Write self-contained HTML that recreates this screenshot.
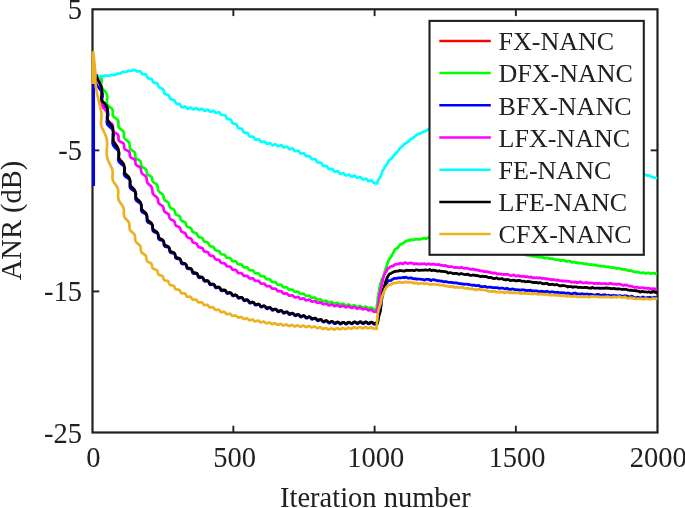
<!DOCTYPE html>
<html lang="en">
<head>
<meta charset="utf-8">
<title>ANR vs Iteration number</title>
<style>
html,body{margin:0;padding:0;background:#ffffff;}
body{width:685px;height:508px;overflow:hidden;font-family:"Liberation Serif",serif;}
svg{display:block;will-change:transform;}
</style>
</head>
<body>
<svg width="685" height="508" viewBox="0 0 685 508">
<rect x="0" y="0" width="685" height="508" fill="#ffffff"/>
<clipPath id="c"><rect x="91.0" y="9.3" width="566.5" height="423.2"/></clipPath>
<rect x="92.5" y="9.3" width="565.0" height="423.2" fill="none" stroke="#202020" stroke-width="2.2"/>
<line x1="233.35" y1="432.5" x2="233.35" y2="425.7" stroke="#202020" stroke-width="1.9"/>
<line x1="233.35" y1="9.3" x2="233.35" y2="16.1" stroke="#202020" stroke-width="1.9"/>
<line x1="374.60" y1="432.5" x2="374.60" y2="425.7" stroke="#202020" stroke-width="1.9"/>
<line x1="374.60" y1="9.3" x2="374.60" y2="16.1" stroke="#202020" stroke-width="1.9"/>
<line x1="515.85" y1="432.5" x2="515.85" y2="425.7" stroke="#202020" stroke-width="1.9"/>
<line x1="515.85" y1="9.3" x2="515.85" y2="16.1" stroke="#202020" stroke-width="1.9"/>
<line x1="92.5" y1="150.37" x2="99.3" y2="150.37" stroke="#202020" stroke-width="1.9"/>
<line x1="657.5" y1="150.37" x2="650.7" y2="150.37" stroke="#202020" stroke-width="1.9"/>
<line x1="92.5" y1="291.43" x2="99.3" y2="291.43" stroke="#202020" stroke-width="1.9"/>
<line x1="657.5" y1="291.43" x2="650.7" y2="291.43" stroke="#202020" stroke-width="1.9"/>
<g clip-path="url(#c)" fill="none" stroke-linejoin="round" stroke-linecap="butt">
<path d="M96.3,74.0 L96.5,74.6 L96.7,75.1 L96.8,75.7 L97.1,76.2 L97.3,76.7 L97.5,77.3 L97.7,77.8 L98.0,78.3 L98.2,78.8 L98.5,79.3 L98.7,79.8 L99.0,80.3 L99.2,80.8 L99.5,81.3 L99.7,81.7 L100.0,82.2 L100.2,82.7 L100.4,83.2 L100.6,83.6 L100.8,84.1 L101.0,84.5 L101.1,85.0 L101.3,85.5 L101.4,85.9 L101.5,86.4 L101.6,86.9 L101.7,87.4 L101.8,87.9 L101.8,88.3 L101.8,88.8 L101.9,89.3 L101.9,89.8 L101.8,90.3 L101.8,90.8 L101.8,91.2 L101.8,91.7 L101.7,92.2 L101.7,92.7 L101.6,93.1 L101.6,93.6 L101.5,94.1 L101.5,94.5 L101.4,95.0 L101.4,95.4 L101.4,95.8 L101.4,96.2 L101.4,96.7 L101.4,97.2 L101.4,97.8 L101.5,98.4 L101.7,98.9 L101.8,99.3 L102.0,99.8 L102.2,100.2 L102.5,100.5 L102.8,100.9 L103.1,101.2 L103.4,101.5 L103.8,101.8 L104.1,102.1 L104.5,102.4 L104.8,102.7 L105.2,103.0 L105.5,103.3 L105.9,103.6 L106.2,104.0 L106.4,104.4 L106.7,104.8 L106.9,105.3 L107.1,105.8 L107.2,106.4 L107.3,107.0 L107.4,107.4 L107.4,107.8 L107.4,108.2 L107.4,108.7 L107.4,109.1 L107.4,109.6 L107.4,110.0 L107.4,110.5 L107.3,110.9 L107.3,111.4 L107.3,111.9 L107.2,112.4 L107.2,112.8 L107.1,113.3 L107.1,113.8 L107.1,114.2 L107.1,114.7 L107.1,115.1 L107.1,115.6 L107.1,116.0 L107.1,116.4 L107.2,116.8 L107.2,117.3 L107.3,117.8 L107.5,118.4 L107.7,118.9 L107.9,119.4 L108.1,119.9 L108.4,120.4 L108.7,120.8 L109.0,121.2 L109.3,121.7 L109.7,122.1 L110.0,122.5 L110.4,122.9 L110.7,123.3 L111.0,123.7 L111.4,124.1 L111.7,124.5 L111.9,125.0 L112.2,125.4 L112.4,125.9 L112.6,126.4 L112.7,126.9 L112.8,127.4 L112.9,127.9 L113.0,128.5 L113.0,129.1 L113.0,129.5 L113.0,129.9 L113.0,130.3 L113.0,130.7 L113.0,131.2 L112.9,131.6 L112.9,132.0 L112.9,132.5 L112.8,132.9 L112.8,133.4 L112.8,133.8 L112.8,134.3 L112.8,134.8 L112.8,135.2 L112.8,135.7 L112.8,136.1 L112.8,136.6 L112.9,137.0 L112.9,137.4 L113.0,137.9 L113.1,138.3 L113.2,138.7 L113.3,139.1 L113.5,139.5 L113.6,139.9 L113.7,140.3 L113.9,140.7 L114.1,141.1 L114.4,141.6 L114.7,142.1 L115.0,142.6 L115.3,143.1 L115.7,143.5 L116.0,144.0 L116.3,144.5 L116.7,144.9 L117.0,145.4 L117.3,145.9 L117.5,146.3 L117.8,146.8 L118.0,147.2 L118.1,147.7 L118.3,148.2 L118.4,148.7 L118.5,149.2 L118.6,149.7 L118.6,150.2 L118.6,150.7 L118.6,151.2 L118.6,151.7 L118.6,152.2 L118.5,152.7 L118.5,153.2 L118.5,153.7 L118.5,154.2 L118.5,154.7 L118.5,155.2 L118.6,155.6 L118.6,156.1 L118.7,156.5 L118.9,156.9 L119.0,157.3 L119.2,157.7 L119.4,158.1 L119.7,158.5 L119.9,158.8 L120.2,159.2 L120.5,159.5 L120.8,159.9 L121.1,160.2 L121.4,160.5 L121.8,160.9 L122.1,161.2 L122.4,161.5 L122.7,161.9 L122.9,162.2 L123.2,162.6 L123.4,162.9 L123.6,163.3 L123.8,163.7 L123.9,164.1 L124.0,164.5 L124.1,165.0 L124.2,165.4 L124.2,165.8 L124.2,166.3 L124.2,166.7 L124.2,167.2 L124.2,167.6 L124.2,168.1 L124.2,168.5 L124.2,169.0 L124.2,169.4 L124.2,169.8 L124.2,170.2 L124.3,170.6 L124.4,171.2 L124.6,171.6 L124.8,172.1 L125.1,172.6 L125.4,173.0 L125.7,173.4 L126.0,173.7 L126.3,174.0 L126.6,174.2 L126.9,174.5 L127.2,174.8 L127.5,175.1 L127.8,175.3 L128.2,175.7 L128.5,176.1 L128.8,176.5 L129.1,176.9 L129.3,177.3 L129.5,177.8 L129.6,178.2 L129.7,178.7 L129.8,179.2 L129.8,179.7 L129.8,180.3 L129.8,180.8 L129.8,181.3 L129.8,181.8 L129.9,182.4 L129.9,182.9 L130.0,183.4 L130.1,183.8 L130.3,184.3 L130.5,184.8 L130.8,185.2 L131.1,185.6 L131.4,186.0 L131.8,186.4 L132.0,186.7 L132.3,186.9 L132.6,187.2 L132.9,187.5 L133.2,187.8 L133.5,188.0 L133.9,188.4 L134.2,188.8 L134.5,189.2 L134.8,189.6 L135.0,190.1 L135.1,190.5 L135.3,191.0 L135.4,191.5 L135.4,192.0 L135.5,192.5 L135.5,193.0 L135.5,193.5 L135.5,194.0 L135.5,194.5 L135.6,195.0 L135.6,195.5 L135.7,196.0 L135.9,196.4 L136.1,196.9 L136.3,197.3 L136.5,197.7 L136.8,198.0 L137.2,198.4 L137.5,198.7 L137.9,199.1 L138.3,199.4 L138.7,199.7 L139.0,200.1 L139.4,200.4 L139.7,200.8 L140.0,201.1 L140.3,201.5 L140.5,201.9 L140.7,202.3 L140.9,202.8 L141.0,203.2 L141.0,203.7 L141.1,204.2 L141.1,204.6 L141.1,205.1 L141.2,205.6 L141.2,206.1 L141.2,206.6 L141.3,207.1 L141.4,207.5 L141.5,207.9 L141.7,208.4 L141.9,208.7 L142.2,209.1 L142.4,209.5 L142.8,209.8 L143.1,210.1 L143.5,210.4 L143.8,210.7 L144.2,211.0 L144.6,211.3 L144.9,211.6 L145.3,211.9 L145.6,212.2 L145.8,212.6 L146.1,212.9 L146.3,213.3 L146.4,213.7 L146.5,214.1 L146.6,214.5 L146.7,215.0 L146.7,215.4 L146.8,215.9 L146.8,216.3 L146.8,216.8 L146.9,217.2 L147.0,217.6 L147.1,218.1 L147.2,218.5 L147.4,218.8 L147.6,219.2 L147.8,219.5 L148.1,219.8 L148.4,220.1 L148.7,220.4 L149.0,220.7 L149.4,220.9 L149.8,221.2 L150.1,221.4 L150.5,221.7 L150.8,222.0 L151.1,222.2 L151.4,222.5 L151.7,222.9 L151.9,223.4 L152.1,223.8 L152.2,224.2 L152.3,224.6 L152.4,225.0 L152.4,225.5 L152.4,225.9 L152.5,226.3 L152.5,226.7 L152.6,227.1 L152.7,227.5 L152.8,228.0 L153.1,228.4 L153.3,228.8 L153.6,229.2 L154.0,229.5 L154.4,229.8 L154.7,230.1 L155.1,230.3 L155.4,230.5 L155.8,230.7 L156.1,230.9 L156.5,231.2 L156.9,231.5 L157.2,231.9 L157.4,232.2 L157.6,232.6 L157.8,233.1 L157.9,233.5 L158.0,234.0 L158.1,234.5 L158.1,234.9 L158.2,235.4 L158.3,235.9 L158.4,236.3 L158.6,236.7 L158.9,237.1 L159.1,237.4 L159.5,237.7 L159.8,237.9 L160.2,238.1 L160.6,238.3 L161.1,238.5 L161.5,238.7 L161.9,238.9 L162.2,239.2 L162.6,239.4 L162.9,239.7 L163.1,240.1 L163.3,240.4 L163.5,240.8 L163.6,241.3 L163.7,241.7 L163.8,242.1 L163.8,242.6 L164.0,243.0 L164.1,243.4 L164.2,243.8 L164.5,244.2 L164.8,244.5 L165.2,244.8 L165.6,245.0 L166.0,245.1 L166.4,245.3 L166.8,245.5 L167.2,245.6 L167.6,245.8 L167.9,246.0 L168.3,246.2 L168.6,246.5 L168.9,246.9 L169.1,247.3 L169.2,247.7 L169.3,248.1 L169.4,248.6 L169.5,249.0 L169.6,249.4 L169.7,249.8 L169.9,250.2 L170.2,250.5 L170.5,250.8 L170.9,251.1 L171.3,251.3 L171.7,251.4 L172.1,251.5 L172.5,251.7 L172.9,251.8 L173.3,252.0 L173.7,252.2 L174.1,252.5 L174.4,252.8 L174.6,253.2 L174.8,253.6 L174.9,254.0 L175.0,254.4 L175.1,254.8 L175.2,255.2 L175.4,255.6 L175.6,256.0 L175.8,256.4 L176.1,256.7 L176.5,256.9 L176.9,257.1 L177.4,257.3 L177.8,257.4 L178.2,257.5 L178.6,257.6 L179.0,257.8 L179.4,258.0 L179.8,258.2 L180.0,258.5 L180.2,258.9 L180.4,259.3 L180.6,259.7 L180.7,260.2 L180.9,260.6 L181.0,261.1 L181.2,261.5 L181.5,261.8 L181.8,262.1 L182.1,262.3 L182.5,262.4 L183.0,262.6 L183.4,262.7 L183.9,262.8 L184.3,262.9 L184.7,263.0 L185.1,263.2 L185.4,263.5 L185.7,263.8 L185.9,264.1 L186.1,264.5 L186.3,264.9 L186.4,265.4 L186.5,265.8 L186.7,266.2 L186.9,266.6 L187.2,266.9 L187.5,267.2 L187.9,267.4 L188.3,267.5 L188.7,267.6 L189.1,267.7 L189.6,267.8 L190.0,267.9 L190.4,268.0 L190.8,268.2 L191.1,268.5 L191.4,268.8 L191.6,269.2 L191.8,269.6 L192.0,270.0 L192.1,270.5 L192.3,270.9 L192.5,271.2 L192.7,271.6 L193.1,271.9 L193.5,272.1 L193.9,272.2 L194.3,272.3 L194.7,272.4 L195.2,272.4 L195.6,272.5 L196.0,272.6 L196.4,272.7 L196.8,273.0 L197.1,273.3 L197.3,273.7 L197.5,274.1 L197.6,274.5 L197.8,274.9 L198.0,275.2 L198.2,275.6 L198.5,275.9 L198.8,276.2 L199.2,276.4 L199.7,276.4 L200.1,276.5 L200.5,276.5 L200.9,276.5 L201.3,276.6 L201.8,276.7 L202.2,276.8 L202.5,277.1 L202.8,277.4 L203.0,277.8 L203.2,278.2 L203.4,278.6 L203.6,278.9 L203.8,279.3 L204.1,279.7 L204.4,279.9 L204.8,280.1 L205.3,280.1 L205.7,280.2 L206.1,280.2 L206.5,280.2 L206.9,280.2 L207.4,280.3 L207.8,280.4 L208.1,280.6 L208.4,280.9 L208.6,281.3 L208.8,281.7 L209.0,282.1 L209.2,282.4 L209.4,282.8 L209.7,283.1 L210.1,283.4 L210.4,283.5 L210.9,283.6 L211.3,283.6 L211.7,283.6 L212.2,283.6 L212.6,283.6 L213.0,283.7 L213.4,283.8 L213.8,284.0 L214.1,284.3 L214.3,284.7 L214.5,285.0 L214.7,285.4 L214.9,285.8 L215.1,286.1 L215.4,286.4 L215.8,286.6 L216.2,286.8 L216.6,286.8 L217.1,286.8 L217.5,286.8 L217.9,286.7 L218.3,286.7 L218.7,286.8 L219.2,286.9 L219.5,287.2 L219.8,287.5 L220.0,287.9 L220.2,288.2 L220.5,288.6 L220.7,289.0 L221.0,289.3 L221.4,289.5 L221.8,289.7 L222.3,289.7 L222.7,289.7 L223.2,289.6 L223.6,289.6 L224.1,289.6 L224.5,289.6 L224.9,289.8 L225.2,290.1 L225.5,290.4 L225.8,290.8 L226.0,291.2 L226.3,291.5 L226.5,291.9 L226.8,292.1 L227.2,292.3 L227.7,292.4 L228.1,292.4 L228.6,292.3 L229.0,292.2 L229.5,292.2 L229.9,292.2 L230.3,292.3 L230.7,292.5 L231.0,292.8 L231.3,293.1 L231.5,293.5 L231.8,293.9 L232.0,294.2 L232.3,294.5 L232.7,294.7 L233.1,294.8 L233.5,294.8 L234.0,294.8 L234.4,294.7 L234.8,294.6 L235.3,294.5 L235.7,294.5 L236.1,294.7 L236.5,294.9 L236.8,295.2 L237.0,295.6 L237.3,295.9 L237.5,296.3 L237.8,296.6 L238.2,296.9 L238.6,297.1 L239.0,297.1 L239.4,297.1 L239.9,297.1 L240.3,297.0 L240.8,296.9 L241.2,296.9 L241.6,297.0 L242.0,297.2 L242.3,297.5 L242.6,297.8 L242.8,298.2 L243.1,298.6 L243.3,298.9 L243.6,299.2 L244.0,299.5 L244.4,299.6 L244.8,299.6 L245.3,299.6 L245.7,299.5 L246.2,299.4 L246.6,299.4 L247.0,299.4 L247.4,299.6 L247.8,299.8 L248.1,300.1 L248.3,300.4 L248.6,300.8 L248.8,301.2 L249.1,301.5 L249.5,301.8 L249.9,301.9 L250.3,302.0 L250.7,302.0 L251.2,301.9 L251.6,301.8 L252.0,301.7 L252.4,301.7 L252.9,301.8 L253.3,302.0 L253.6,302.3 L253.9,302.6 L254.1,302.9 L254.4,303.3 L254.7,303.6 L255.1,303.9 L255.4,304.0 L255.9,304.1 L256.3,304.1 L256.7,304.0 L257.1,303.9 L257.6,303.8 L258.0,303.7 L258.4,303.7 L258.8,303.9 L259.2,304.1 L259.4,304.4 L259.7,304.7 L260.0,305.1 L260.3,305.4 L260.6,305.7 L261.0,305.9 L261.4,306.0 L261.8,305.9 L262.2,305.8 L262.7,305.7 L263.1,305.6 L263.5,305.5 L263.9,305.5 L264.3,305.6 L264.7,305.8 L265.0,306.1 L265.3,306.4 L265.6,306.7 L265.9,307.1 L266.2,307.3 L266.5,307.6 L266.9,307.7 L267.4,307.7 L267.8,307.6 L268.2,307.4 L268.6,307.3 L269.0,307.2 L269.5,307.2 L269.9,307.2 L270.3,307.4 L270.6,307.7 L270.9,308.0 L271.2,308.3 L271.5,308.6 L271.8,308.9 L272.1,309.2 L272.5,309.3 L273.0,309.3 L273.4,309.2 L273.8,309.1 L274.2,308.9 L274.6,308.8 L275.0,308.7 L275.5,308.8 L275.8,308.9 L276.2,309.2 L276.5,309.5 L276.8,309.8 L277.1,310.1 L277.4,310.4 L277.7,310.7 L278.1,310.8 L278.6,310.8 L279.0,310.7 L279.4,310.6 L279.8,310.4 L280.2,310.3 L280.6,310.2 L281.1,310.2 L281.4,310.4 L281.8,310.6 L282.1,310.9 L282.4,311.2 L282.7,311.5 L283.0,311.8 L283.4,312.1 L283.8,312.2 L284.2,312.2 L284.6,312.1 L285.0,312.0 L285.4,311.8 L285.8,311.7 L286.3,311.6 L286.7,311.6 L287.1,311.7 L287.4,312.0 L287.8,312.3 L288.0,312.6 L288.3,312.9 L288.7,313.2 L289.0,313.4 L289.4,313.5 L289.8,313.5 L290.3,313.4 L290.7,313.3 L291.1,313.1 L291.5,313.0 L291.9,312.9 L292.3,312.9 L292.7,313.0 L293.1,313.3 L293.4,313.5 L293.7,313.8 L294.0,314.1 L294.3,314.4 L294.7,314.7 L295.1,314.8 L295.5,314.8 L295.9,314.7 L296.3,314.5 L296.7,314.4 L297.1,314.2 L297.6,314.1 L298.0,314.1 L298.4,314.3 L298.7,314.5 L299.0,314.8 L299.3,315.1 L299.6,315.4 L300.0,315.7 L300.3,315.9 L300.7,316.0 L301.1,316.0 L301.6,315.9 L302.0,315.7 L302.4,315.6 L302.8,315.4 L303.2,315.3 L303.6,315.3 L304.0,315.5 L304.4,315.7 L304.7,316.0 L305.0,316.3 L305.3,316.6 L305.6,316.8 L306.0,317.1 L306.4,317.2 L306.8,317.2 L307.2,317.1 L307.6,316.9 L308.0,316.8 L308.4,316.6 L308.9,316.5 L309.3,316.5 L309.7,316.6 L310.0,316.9 L310.3,317.1 L310.6,317.4 L311.0,317.7 L311.3,318.0 L311.6,318.2 L312.0,318.4 L312.4,318.4 L312.9,318.3 L313.3,318.1 L313.7,318.0 L314.1,317.8 L314.5,317.8 L314.9,317.8 L315.3,317.9 L315.7,318.1 L316.0,318.4 L316.3,318.7 L316.6,319.1 L316.9,319.3 L317.3,319.6 L317.7,319.7 L318.1,319.7 L318.5,319.6 L318.9,319.5 L319.3,319.4 L319.7,319.2 L320.2,319.1 L320.6,319.1 L321.0,319.3 L321.3,319.5 L321.7,319.8 L321.9,320.1 L322.2,320.4 L322.6,320.7 L322.9,320.9 L323.3,321.1 L323.7,321.1 L324.2,321.0 L324.6,320.8 L325.0,320.6 L325.4,320.5 L325.8,320.4 L326.2,320.4 L326.6,320.5 L327.0,320.7 L327.3,321.0 L327.6,321.3 L327.9,321.6 L328.2,321.8 L328.6,322.0 L329.0,322.1 L329.4,322.1 L329.9,321.9 L330.2,321.8 L330.6,321.6 L331.0,321.4 L331.4,321.2 L331.8,321.2 L332.2,321.3 L332.6,321.5 L332.9,321.7 L333.2,322.0 L333.6,322.2 L333.9,322.5 L334.3,322.7 L334.7,322.7 L335.1,322.7 L335.5,322.5 L335.9,322.3 L336.3,322.1 L336.6,321.9 L337.0,321.8 L337.4,321.7 L337.8,321.8 L338.2,322.0 L338.6,322.2 L338.9,322.5 L339.2,322.7 L339.6,322.9 L340.0,323.1 L340.4,323.2 L340.8,323.1 L341.2,322.9 L341.5,322.7 L341.9,322.5 L342.3,322.3 L342.7,322.1 L343.1,322.0 L343.5,322.1 L343.9,322.3 L344.2,322.5 L344.5,322.7 L344.9,322.9 L345.2,323.1 L345.7,323.3 L346.1,323.3 L346.5,323.2 L346.9,323.0 L347.2,322.8 L347.5,322.5 L347.9,322.3 L348.3,322.1 L348.7,322.0 L349.1,322.0 L349.5,322.2 L349.8,322.3 L350.2,322.6 L350.6,322.8 L350.9,323.0 L351.3,323.1 L351.7,323.1 L352.1,323.0 L352.5,322.8 L352.9,322.5 L353.2,322.3 L353.5,322.0 L353.9,321.8 L354.3,321.7 L354.7,321.7 L355.1,321.9 L355.5,322.1 L355.9,322.3 L356.2,322.5 L356.6,322.7 L357.0,322.8 L357.4,322.8 L357.8,322.7 L358.2,322.5 L358.5,322.3 L358.8,322.1 L359.2,321.9 L359.6,321.7 L360.0,321.6 L360.4,321.6 L360.8,321.8 L361.2,322.0 L361.5,322.2 L361.8,322.5 L362.2,322.7 L362.6,322.8 L363.0,322.9 L363.4,322.8 L363.8,322.6 L364.1,322.4 L364.5,322.1 L364.9,321.9 L365.3,321.8 L365.7,321.7 L366.1,321.7 L366.5,321.9 L366.8,322.1 L367.1,322.4 L367.5,322.6 L367.8,322.8 L368.2,323.0 L368.6,323.0 L369.0,323.0 L369.4,322.8 L369.8,322.6 L370.2,322.4 L370.5,322.2 L370.9,322.0 L371.3,321.9 L371.7,322.0 L372.1,322.2 L372.5,322.4 L372.8,322.7 L373.1,322.9 L373.5,323.2 L373.9,323.3 L374.3,323.4 L374.7,323.3 L375.1,323.2 L375.4,323.0 L375.8,322.8 L376.2,322.6 L376.6,322.4 L377.0,322.4 L377.1,322.4 L377.5,323.6 L377.6,322.9 L377.7,322.3 L377.8,321.6 L377.9,320.9 L378.1,320.3 L378.2,319.6 L378.3,319.0 L378.4,318.3 L378.5,317.7 L378.6,317.0 L378.7,316.4 L378.8,315.7 L378.9,315.1 L379.0,314.4 L379.2,313.8 L379.3,313.2 L379.4,312.5 L379.5,311.9 L379.6,311.2 L379.7,310.6 L379.8,310.0 L379.9,309.3 L380.0,308.7 L380.1,308.0 L380.2,307.4 L380.3,306.7 L380.4,306.0 L380.5,305.4 L380.6,304.7 L380.7,304.0 L380.8,303.4 L380.9,302.7 L380.9,302.1 L381.0,301.4 L381.1,300.8 L381.2,300.1 L381.3,299.5 L381.4,298.9 L381.5,298.3 L381.6,297.7 L381.7,297.1 L381.8,296.6 L381.8,296.0 L381.9,295.5 L382.0,295.0 L382.1,294.5 L382.2,294.0 L382.3,293.5 L382.4,293.1 L382.5,292.6 L382.6,292.1 L382.7,291.7 L382.8,291.2 L382.9,290.8 L383.0,290.4 L383.1,289.9 L383.2,289.5 L383.3,289.1 L383.4,288.7 L383.5,288.3 L383.6,287.9 L383.8,287.3 L384.0,286.8 L384.1,286.2 L384.3,285.7 L384.5,285.2 L384.6,284.7 L384.8,284.3 L385.0,283.8 L385.1,283.4 L385.3,283.0 L385.4,282.5 L385.6,282.1 L385.7,281.7 L385.9,281.3 L386.0,280.9 L386.2,280.5 L386.3,280.1 L386.5,279.8 L386.6,279.3 L386.8,278.8 L387.0,278.3 L387.2,277.9 L387.4,277.5 L387.5,277.1 L387.7,276.7 L388.0,276.3 L388.2,276.0 L388.5,275.7 L388.8,275.3 L389.1,275.0 L389.4,274.6 L389.7,274.4 L390.1,274.1 L390.4,273.8 L390.8,273.6 L391.1,273.3 L391.5,273.1 L391.8,272.8 L392.2,272.6 L392.6,272.4 L392.9,272.2 L393.3,272.0 L393.7,271.9 L394.1,271.7 L394.5,271.6 L394.9,271.5 L395.3,271.5 L395.8,271.4 L396.2,271.3 L396.6,271.3 L397.0,271.2 L397.4,271.1 L397.8,271.0 L398.2,270.9 L398.5,270.8 L398.9,270.8 L399.3,270.7 L399.7,270.7 L400.1,270.7 L400.5,270.7 L400.9,270.7 L401.4,270.7 L401.8,270.7 L402.2,270.8 L402.6,270.8 L403.0,270.7 L403.4,270.7 L403.8,270.6 L404.1,270.6 L404.5,270.5 L404.9,270.5 L405.3,270.5 L405.7,270.5 L406.1,270.5 L406.5,270.5 L407.0,270.5 L407.4,270.6 L407.8,270.6 L408.2,270.6 L408.6,270.6 L409.0,270.6 L409.4,270.5 L409.7,270.5 L410.1,270.4 L410.5,270.4 L410.9,270.4 L411.3,270.3 L411.7,270.4 L412.1,270.4 L412.6,270.4 L413.0,270.5 L413.4,270.5 L413.8,270.5 L414.2,270.5 L414.6,270.4 L415.0,270.4 L415.3,270.3 L415.7,270.3 L416.1,270.2 L416.5,270.2 L416.9,270.2 L417.3,270.2 L417.7,270.2 L418.2,270.3 L418.6,270.3 L419.0,270.3 L419.4,270.3 L419.8,270.3 L420.2,270.3 L420.6,270.2 L420.9,270.2 L421.3,270.1 L421.7,270.1 L422.1,270.1 L422.5,270.1 L422.9,270.1 L423.3,270.1 L423.8,270.1 L424.2,270.2 L424.6,270.2 L425.0,270.2 L425.4,270.2 L425.8,270.2 L426.2,270.1 L426.6,270.1 L427.0,270.1 L427.4,270.0 L427.8,270.0 L428.2,270.0 L428.6,270.0 L429.0,270.1 L429.4,270.1 L429.8,270.2 L430.2,270.3 L430.6,270.3 L431.0,270.3 L431.4,270.3 L431.8,270.3 L432.2,270.3 L432.6,270.3 L433.0,270.3 L433.4,270.3 L433.8,270.3 L434.2,270.4 L434.6,270.5 L435.0,270.6 L435.4,270.6 L435.8,270.7 L436.2,270.8 L436.6,270.8 L437.0,270.9 L437.4,270.9 L437.8,270.9 L438.2,270.9 L438.6,270.9 L439.0,270.9 L439.4,270.9 L439.8,271.0 L440.2,271.1 L440.6,271.2 L441.0,271.3 L441.4,271.3 L441.8,271.4 L442.2,271.5 L442.6,271.5 L443.0,271.6 L443.4,271.6 L443.8,271.6 L444.2,271.7 L444.6,271.7 L445.0,271.8 L445.4,271.9 L445.8,272.0 L446.2,272.1 L446.6,272.3 L447.0,272.4 L447.4,272.5 L447.8,272.6 L448.2,272.7 L448.6,272.7 L449.0,272.8 L449.4,272.8 L449.8,272.8 L450.2,272.9 L450.6,272.9 L451.0,273.0 L451.4,273.1 L451.8,273.1 L452.2,273.2 L452.6,273.3 L453.0,273.4 L453.4,273.4 L453.8,273.5 L454.2,273.5 L454.6,273.5 L455.0,273.5 L455.4,273.5 L455.8,273.5 L456.2,273.5 L456.6,273.6 L457.0,273.6 L457.4,273.7 L457.8,273.8 L458.2,273.9 L458.6,273.9 L459.0,274.0 L459.4,274.0 L459.8,274.0 L460.2,274.0 L460.6,274.0 L461.0,274.0 L461.4,274.0 L461.8,274.0 L462.2,274.0 L462.6,274.1 L463.0,274.2 L463.4,274.2 L463.8,274.3 L464.2,274.4 L464.6,274.4 L465.0,274.4 L465.4,274.5 L465.8,274.5 L466.2,274.4 L466.6,274.4 L467.0,274.4 L467.4,274.5 L467.8,274.5 L468.2,274.5 L468.6,274.6 L469.0,274.7 L469.4,274.8 L469.8,274.9 L470.2,274.9 L470.6,274.9 L471.0,275.0 L471.4,275.0 L471.8,275.0 L472.2,275.0 L472.6,275.0 L473.0,275.0 L473.4,275.1 L473.8,275.1 L474.2,275.2 L474.6,275.3 L475.0,275.4 L475.4,275.5 L475.8,275.6 L476.2,275.6 L476.6,275.7 L477.0,275.7 L477.4,275.7 L477.8,275.7 L478.2,275.7 L478.6,275.8 L479.0,275.8 L479.4,275.9 L479.8,276.0 L480.2,276.1 L480.6,276.2 L481.0,276.3 L481.4,276.4 L481.8,276.5 L482.2,276.5 L482.6,276.5 L483.0,276.5 L483.4,276.6 L483.8,276.6 L484.2,276.6 L484.6,276.7 L485.0,276.8 L485.4,276.9 L485.8,277.0 L486.2,277.1 L486.6,277.2 L487.0,277.3 L487.4,277.3 L487.8,277.4 L488.2,277.4 L488.6,277.4 L489.0,277.4 L489.4,277.5 L489.8,277.5 L490.2,277.6 L490.6,277.6 L491.0,277.7 L491.4,277.8 L491.8,277.9 L492.2,278.0 L492.6,278.1 L493.0,278.1 L493.4,278.2 L493.8,278.2 L494.2,278.2 L494.6,278.2 L495.0,278.2 L495.4,278.3 L495.8,278.3 L496.2,278.4 L496.6,278.4 L497.0,278.5 L497.4,278.6 L497.8,278.7 L498.2,278.8 L498.6,278.8 L499.0,278.9 L499.4,278.9 L499.8,278.9 L500.2,278.9 L500.6,278.9 L501.0,278.9 L501.4,278.9 L501.8,279.0 L502.2,279.1 L502.6,279.2 L503.0,279.2 L503.4,279.3 L503.8,279.4 L504.2,279.5 L504.6,279.5 L505.0,279.5 L505.4,279.5 L505.8,279.5 L506.2,279.5 L506.6,279.5 L507.0,279.6 L507.4,279.6 L507.8,279.7 L508.2,279.7 L508.6,279.8 L509.0,279.9 L509.4,280.0 L509.8,280.0 L510.2,280.1 L510.6,280.1 L511.0,280.1 L511.4,280.1 L511.8,280.1 L512.2,280.1 L512.6,280.1 L513.0,280.2 L513.4,280.2 L513.8,280.3 L514.2,280.4 L514.6,280.5 L515.0,280.6 L515.4,280.6 L515.8,280.6 L516.2,280.7 L516.6,280.7 L517.0,280.7 L517.4,280.7 L517.8,280.7 L518.2,280.7 L518.6,280.7 L519.0,280.8 L519.4,280.9 L519.8,280.9 L520.2,281.0 L520.6,281.1 L521.0,281.2 L521.4,281.2 L521.8,281.2 L522.2,281.2 L522.6,281.2 L523.0,281.2 L523.4,281.2 L523.8,281.2 L524.2,281.3 L524.6,281.3 L525.0,281.4 L525.4,281.5 L525.8,281.6 L526.2,281.6 L526.6,281.7 L527.0,281.8 L527.4,281.8 L527.8,281.8 L528.2,281.8 L528.6,281.8 L529.0,281.8 L529.4,281.8 L529.8,281.8 L530.2,281.9 L530.6,282.0 L531.0,282.0 L531.4,282.1 L531.8,282.2 L532.2,282.3 L532.6,282.3 L533.0,282.3 L533.4,282.4 L533.8,282.4 L534.2,282.4 L534.6,282.4 L535.0,282.4 L535.4,282.4 L535.8,282.5 L536.2,282.5 L536.6,282.6 L537.0,282.7 L537.4,282.8 L537.8,282.9 L538.2,282.9 L538.6,282.9 L539.0,283.0 L539.4,283.0 L539.8,283.0 L540.2,283.0 L540.6,283.0 L541.0,283.0 L541.4,283.1 L541.8,283.2 L542.2,283.2 L542.6,283.3 L543.0,283.4 L543.4,283.5 L543.8,283.6 L544.2,283.6 L544.6,283.6 L545.0,283.6 L545.4,283.6 L545.8,283.6 L546.2,283.7 L546.6,283.7 L547.0,283.8 L547.4,283.8 L547.8,283.9 L548.2,284.0 L548.6,284.1 L549.0,284.2 L549.4,284.2 L549.8,284.3 L550.2,284.3 L550.6,284.3 L551.0,284.3 L551.4,284.3 L551.8,284.4 L552.2,284.4 L552.6,284.4 L553.0,284.5 L553.4,284.6 L553.8,284.7 L554.2,284.8 L554.6,284.9 L555.0,284.9 L555.4,285.0 L555.8,285.0 L556.2,285.0 L556.6,285.0 L557.0,285.0 L557.4,285.1 L557.8,285.1 L558.2,285.1 L558.6,285.2 L559.0,285.3 L559.4,285.4 L559.8,285.5 L560.2,285.6 L560.6,285.6 L561.0,285.7 L561.4,285.7 L561.8,285.7 L562.2,285.7 L562.6,285.7 L563.0,285.7 L563.4,285.7 L563.8,285.8 L564.2,285.9 L564.6,285.9 L565.0,286.0 L565.4,286.1 L565.8,286.2 L566.2,286.2 L566.6,286.3 L567.0,286.3 L567.4,286.3 L567.8,286.3 L568.2,286.3 L568.6,286.3 L569.0,286.3 L569.4,286.4 L569.8,286.4 L570.2,286.5 L570.6,286.6 L571.0,286.7 L571.4,286.7 L571.8,286.8 L572.2,286.8 L572.6,286.9 L573.0,286.9 L573.4,286.8 L573.8,286.8 L574.2,286.8 L574.6,286.8 L575.0,286.9 L575.4,286.9 L575.8,287.0 L576.2,287.0 L576.6,287.1 L577.0,287.2 L577.4,287.2 L577.8,287.3 L578.2,287.3 L578.6,287.3 L579.0,287.3 L579.4,287.2 L579.8,287.2 L580.2,287.2 L580.6,287.2 L581.0,287.3 L581.4,287.3 L581.8,287.4 L582.2,287.4 L582.6,287.5 L583.0,287.5 L583.4,287.6 L583.8,287.6 L584.2,287.6 L584.6,287.5 L585.0,287.5 L585.4,287.5 L585.8,287.5 L586.2,287.5 L586.6,287.5 L587.0,287.6 L587.4,287.6 L587.8,287.7 L588.2,287.7 L588.6,287.8 L589.0,287.8 L589.4,287.8 L589.8,287.8 L590.2,287.8 L590.6,287.7 L591.0,287.7 L591.4,287.7 L591.8,287.7 L592.2,287.7 L592.6,287.8 L593.0,287.8 L593.4,287.9 L593.8,287.9 L594.2,288.0 L594.6,288.0 L595.0,288.0 L595.4,288.0 L595.8,288.0 L596.2,287.9 L596.6,287.9 L597.0,287.9 L597.4,287.9 L597.8,287.9 L598.2,288.0 L598.6,288.0 L599.0,288.1 L599.4,288.1 L599.8,288.2 L600.2,288.2 L600.6,288.2 L601.0,288.2 L601.4,288.2 L601.8,288.2 L602.2,288.1 L602.6,288.1 L603.0,288.1 L603.4,288.1 L603.8,288.2 L604.2,288.2 L604.6,288.3 L605.0,288.4 L605.4,288.4 L605.8,288.4 L606.2,288.5 L606.6,288.4 L607.0,288.4 L607.4,288.4 L607.8,288.4 L608.2,288.4 L608.6,288.4 L609.0,288.4 L609.4,288.4 L609.8,288.5 L610.2,288.5 L610.6,288.6 L611.0,288.6 L611.4,288.7 L611.8,288.7 L612.2,288.7 L612.6,288.7 L613.0,288.7 L613.4,288.6 L613.8,288.6 L614.2,288.6 L614.6,288.6 L615.0,288.7 L615.4,288.7 L615.8,288.8 L616.2,288.8 L616.6,288.9 L617.0,288.9 L617.4,289.0 L617.8,289.0 L618.2,289.0 L618.6,289.0 L619.0,288.9 L619.4,288.9 L619.8,288.9 L620.2,288.9 L620.6,289.0 L621.0,289.0 L621.4,289.1 L621.8,289.2 L622.2,289.3 L622.6,289.3 L623.0,289.4 L623.4,289.4 L623.8,289.4 L624.2,289.4 L624.6,289.4 L625.0,289.4 L625.4,289.4 L625.8,289.5 L626.2,289.5 L626.6,289.6 L627.0,289.7 L627.4,289.8 L627.8,289.9 L628.2,290.0 L628.6,290.0 L629.0,290.1 L629.4,290.1 L629.8,290.1 L630.2,290.1 L630.6,290.2 L631.0,290.2 L631.4,290.2 L631.8,290.3 L632.2,290.4 L632.6,290.5 L633.0,290.6 L633.4,290.7 L633.8,290.8 L634.2,290.8 L634.6,290.9 L635.0,290.9 L635.4,290.9 L635.8,290.9 L636.2,290.9 L636.6,291.0 L637.0,291.0 L637.4,291.1 L637.8,291.1 L638.2,291.2 L638.6,291.3 L639.0,291.4 L639.4,291.5 L639.8,291.5 L640.2,291.5 L640.6,291.6 L641.0,291.6 L641.4,291.5 L641.8,291.5 L642.2,291.5 L642.6,291.5 L643.0,291.6 L643.4,291.6 L643.8,291.7 L644.2,291.8 L644.6,291.8 L645.0,291.9 L645.4,291.9 L645.8,292.0 L646.2,292.0 L646.6,291.9 L647.0,291.9 L647.4,291.9 L647.8,291.9 L648.2,291.9 L648.6,291.9 L649.0,292.0 L649.4,292.0 L649.8,292.1 L650.2,292.2 L650.6,292.2 L651.0,292.3 L651.4,292.3 L651.8,292.3 L652.2,292.3 L652.6,292.2 L653.0,292.2 L653.4,292.2 L653.8,292.2 L654.2,292.2 L654.6,292.2 L655.0,292.3 L655.4,292.3 L655.8,292.4 L656.2,292.4 L656.6,292.5 L657.0,292.5 L657.4,292.5 L657.5,292.5" stroke="#ff0000" stroke-width="1.8"/>
<path d="M97.2,75.5 L97.7,75.7 L98.1,75.8 L98.6,76.1 L99.1,76.3 L99.5,76.5 L100.0,76.8 L100.4,77.1 L100.7,77.5 L101.0,77.9 L101.3,78.3 L101.5,78.8 L101.6,79.3 L101.6,79.7 L101.6,80.1 L101.6,80.5 L101.6,81.0 L101.5,81.4 L101.5,81.9 L101.4,82.4 L101.4,82.9 L101.3,83.4 L101.2,83.9 L101.2,84.3 L101.2,84.8 L101.2,85.3 L101.3,85.8 L101.4,86.2 L101.5,86.7 L101.7,87.1 L101.9,87.5 L102.1,88.0 L102.4,88.4 L102.6,88.8 L103.0,89.2 L103.3,89.6 L103.6,89.9 L104.0,90.3 L104.4,90.7 L104.7,91.1 L105.1,91.4 L105.4,91.8 L105.7,92.2 L106.0,92.7 L106.3,93.1 L106.5,93.5 L106.7,94.0 L106.9,94.5 L107.0,95.0 L107.1,95.5 L107.2,96.0 L107.2,96.5 L107.3,97.0 L107.2,97.6 L107.2,98.1 L107.2,98.7 L107.1,99.2 L107.1,99.7 L107.0,100.3 L107.0,100.8 L106.9,101.3 L106.9,101.8 L106.9,102.3 L107.0,102.8 L107.1,103.3 L107.2,103.7 L107.3,104.1 L107.5,104.5 L107.7,104.9 L107.9,105.3 L108.2,105.6 L108.5,105.9 L108.8,106.2 L109.1,106.5 L109.4,106.8 L109.8,107.0 L110.1,107.3 L110.5,107.5 L110.8,107.8 L111.2,108.1 L111.6,108.4 L111.9,108.8 L112.2,109.2 L112.4,109.5 L112.6,110.0 L112.7,110.4 L112.8,110.8 L112.8,111.3 L112.8,111.8 L112.8,112.3 L112.7,112.8 L112.7,113.3 L112.7,113.8 L112.7,114.3 L112.7,114.7 L112.8,115.2 L112.9,115.6 L113.1,116.0 L113.3,116.3 L113.5,116.7 L113.9,117.0 L114.2,117.3 L114.6,117.5 L115.0,117.8 L115.4,118.1 L115.9,118.3 L116.3,118.6 L116.7,118.9 L117.1,119.2 L117.4,119.6 L117.7,119.9 L117.9,120.3 L118.1,120.7 L118.3,121.1 L118.3,121.6 L118.4,122.1 L118.4,122.6 L118.4,123.1 L118.4,123.6 L118.4,124.1 L118.3,124.6 L118.4,125.1 L118.4,125.6 L118.4,126.1 L118.6,126.5 L118.7,127.0 L118.9,127.4 L119.2,127.8 L119.5,128.1 L119.8,128.4 L120.2,128.8 L120.6,129.1 L121.0,129.4 L121.4,129.7 L121.8,130.0 L122.2,130.3 L122.6,130.6 L122.9,130.9 L123.2,131.3 L123.5,131.6 L123.7,132.0 L123.8,132.4 L123.9,132.9 L124.0,133.3 L124.0,133.8 L124.0,134.3 L124.0,134.8 L124.0,135.3 L124.0,135.8 L124.0,136.2 L124.1,136.7 L124.1,137.2 L124.2,137.6 L124.4,138.0 L124.6,138.4 L124.8,138.7 L125.1,139.1 L125.4,139.4 L125.8,139.7 L126.1,140.0 L126.5,140.3 L126.9,140.5 L127.3,140.8 L127.7,141.1 L128.1,141.4 L128.4,141.7 L128.7,142.0 L129.0,142.3 L129.2,142.7 L129.4,143.1 L129.5,143.5 L129.6,143.9 L129.6,144.3 L129.7,144.8 L129.7,145.3 L129.7,145.7 L129.7,146.2 L129.7,146.7 L129.7,147.1 L129.8,147.5 L129.9,148.0 L130.1,148.3 L130.2,148.7 L130.5,149.0 L130.7,149.4 L131.0,149.6 L131.4,149.9 L131.7,150.2 L132.1,150.4 L132.5,150.6 L132.9,150.9 L133.3,151.1 L133.6,151.3 L133.9,151.6 L134.2,151.8 L134.6,152.2 L134.8,152.6 L135.0,153.0 L135.1,153.5 L135.2,153.9 L135.3,154.3 L135.3,154.8 L135.3,155.2 L135.3,155.6 L135.4,156.0 L135.4,156.4 L135.5,156.8 L135.6,157.3 L135.8,157.7 L136.1,158.1 L136.4,158.5 L136.7,158.8 L137.1,159.1 L137.5,159.3 L137.9,159.5 L138.2,159.6 L138.6,159.8 L139.0,160.0 L139.4,160.3 L139.8,160.6 L140.1,160.9 L140.4,161.3 L140.6,161.6 L140.7,162.1 L140.8,162.5 L140.9,163.0 L140.9,163.4 L141.0,163.8 L141.0,164.2 L141.1,164.6 L141.1,165.1 L141.3,165.6 L141.4,166.0 L141.7,166.4 L141.9,166.7 L142.3,167.0 L142.7,167.3 L143.1,167.5 L143.5,167.7 L143.9,167.9 L144.3,168.1 L144.8,168.4 L145.2,168.6 L145.5,168.9 L145.8,169.2 L146.1,169.6 L146.3,170.0 L146.4,170.4 L146.5,170.8 L146.6,171.3 L146.6,171.8 L146.7,172.3 L146.8,172.7 L146.9,173.2 L147.0,173.6 L147.2,174.0 L147.4,174.3 L147.7,174.6 L148.0,174.9 L148.4,175.1 L148.8,175.3 L149.3,175.5 L149.7,175.7 L150.1,175.8 L150.5,176.0 L150.9,176.3 L151.2,176.5 L151.5,176.8 L151.7,177.2 L151.9,177.6 L152.1,178.0 L152.2,178.4 L152.2,178.9 L152.3,179.4 L152.4,179.8 L152.5,180.3 L152.6,180.7 L152.7,181.1 L152.9,181.5 L153.2,181.9 L153.5,182.2 L153.8,182.4 L154.2,182.7 L154.7,183.0 L155.1,183.2 L155.4,183.4 L155.8,183.6 L156.2,183.9 L156.6,184.2 L156.9,184.6 L157.2,185.0 L157.4,185.4 L157.6,185.8 L157.7,186.2 L157.8,186.6 L157.8,187.0 L157.9,187.5 L157.9,187.9 L158.0,188.4 L158.0,188.8 L158.1,189.3 L158.2,189.7 L158.3,190.1 L158.5,190.5 L158.6,190.9 L158.9,191.2 L159.1,191.5 L159.4,191.9 L159.7,192.2 L160.0,192.4 L160.4,192.7 L160.7,193.0 L161.1,193.2 L161.4,193.4 L161.8,193.7 L162.1,194.0 L162.5,194.3 L162.8,194.7 L163.0,195.0 L163.2,195.5 L163.3,195.9 L163.4,196.4 L163.5,196.8 L163.6,197.3 L163.7,197.8 L163.7,198.3 L163.9,198.7 L164.0,199.2 L164.2,199.5 L164.5,199.9 L164.8,200.2 L165.1,200.5 L165.5,200.8 L165.9,201.0 L166.3,201.2 L166.7,201.4 L167.1,201.7 L167.5,201.9 L167.9,202.1 L168.2,202.4 L168.5,202.8 L168.7,203.1 L168.9,203.5 L169.0,203.9 L169.1,204.3 L169.2,204.8 L169.3,205.2 L169.4,205.7 L169.5,206.1 L169.6,206.5 L169.8,206.9 L170.0,207.3 L170.3,207.6 L170.6,207.8 L170.9,208.1 L171.3,208.3 L171.7,208.5 L172.1,208.6 L172.5,208.8 L172.9,209.0 L173.3,209.2 L173.6,209.4 L174.0,209.8 L174.3,210.1 L174.5,210.6 L174.6,211.0 L174.7,211.4 L174.8,211.8 L174.9,212.2 L175.0,212.6 L175.1,213.0 L175.3,213.4 L175.5,213.8 L175.8,214.2 L176.1,214.5 L176.5,214.8 L176.9,215.0 L177.3,215.1 L177.7,215.3 L178.1,215.4 L178.5,215.6 L178.9,215.8 L179.3,216.0 L179.6,216.3 L179.9,216.7 L180.1,217.1 L180.3,217.5 L180.4,217.9 L180.5,218.3 L180.6,218.8 L180.7,219.2 L180.8,219.5 L181.0,220.0 L181.3,220.3 L181.6,220.7 L181.9,220.9 L182.3,221.2 L182.7,221.3 L183.1,221.5 L183.5,221.6 L183.9,221.7 L184.3,221.9 L184.7,222.1 L185.1,222.3 L185.4,222.6 L185.6,223.0 L185.8,223.4 L186.0,223.8 L186.1,224.2 L186.2,224.6 L186.3,225.0 L186.5,225.5 L186.7,225.9 L186.9,226.2 L187.2,226.5 L187.5,226.8 L187.9,227.0 L188.4,227.2 L188.8,227.3 L189.2,227.4 L189.7,227.5 L190.1,227.7 L190.5,227.9 L190.8,228.2 L191.1,228.5 L191.4,228.8 L191.5,229.2 L191.7,229.7 L191.8,230.1 L192.0,230.6 L192.1,231.0 L192.3,231.4 L192.6,231.7 L192.9,232.0 L193.2,232.2 L193.6,232.4 L194.0,232.5 L194.5,232.6 L194.9,232.7 L195.4,232.9 L195.8,233.0 L196.2,233.2 L196.5,233.4 L196.8,233.7 L197.0,234.0 L197.2,234.4 L197.4,234.8 L197.5,235.3 L197.7,235.7 L197.9,236.1 L198.1,236.4 L198.4,236.8 L198.7,237.0 L199.2,237.2 L199.6,237.3 L200.0,237.4 L200.4,237.5 L200.9,237.5 L201.3,237.6 L201.7,237.7 L202.1,237.9 L202.4,238.2 L202.7,238.6 L202.9,239.0 L203.0,239.4 L203.2,239.8 L203.4,240.2 L203.5,240.6 L203.8,240.9 L204.1,241.2 L204.4,241.5 L204.8,241.7 L205.2,241.8 L205.7,241.8 L206.1,241.9 L206.5,242.0 L206.9,242.1 L207.3,242.2 L207.7,242.5 L208.1,242.8 L208.3,243.1 L208.5,243.5 L208.7,243.9 L208.8,244.3 L209.0,244.7 L209.2,245.1 L209.4,245.5 L209.7,245.8 L210.0,246.1 L210.5,246.3 L210.9,246.4 L211.3,246.4 L211.7,246.5 L212.2,246.6 L212.6,246.7 L213.0,246.8 L213.4,247.0 L213.7,247.3 L214.0,247.7 L214.2,248.1 L214.3,248.4 L214.5,248.8 L214.7,249.2 L214.9,249.6 L215.1,250.0 L215.5,250.3 L215.8,250.5 L216.3,250.6 L216.7,250.7 L217.1,250.7 L217.5,250.8 L217.9,250.8 L218.4,250.9 L218.8,251.0 L219.2,251.3 L219.5,251.6 L219.7,251.9 L219.9,252.3 L220.1,252.7 L220.3,253.1 L220.5,253.4 L220.7,253.8 L221.0,254.1 L221.4,254.3 L221.8,254.4 L222.3,254.5 L222.7,254.5 L223.1,254.5 L223.5,254.5 L224.0,254.6 L224.4,254.7 L224.7,254.9 L225.1,255.2 L225.3,255.5 L225.6,255.9 L225.7,256.3 L225.9,256.7 L226.2,257.1 L226.4,257.4 L226.8,257.7 L227.1,257.8 L227.5,257.9 L228.0,258.0 L228.4,258.0 L228.8,258.0 L229.2,258.0 L229.7,258.0 L230.1,258.1 L230.4,258.3 L230.7,258.6 L231.0,259.0 L231.2,259.4 L231.4,259.7 L231.6,260.1 L231.9,260.5 L232.2,260.8 L232.5,261.0 L232.9,261.2 L233.3,261.3 L233.7,261.3 L234.1,261.3 L234.5,261.2 L235.0,261.2 L235.4,261.3 L235.8,261.4 L236.2,261.6 L236.4,261.9 L236.7,262.3 L236.9,262.7 L237.1,263.0 L237.4,263.4 L237.6,263.8 L237.9,264.0 L238.4,264.3 L238.8,264.4 L239.2,264.4 L239.6,264.4 L240.0,264.3 L240.5,264.3 L240.9,264.4 L241.3,264.5 L241.7,264.7 L242.1,264.9 L242.3,265.3 L242.6,265.7 L242.8,266.0 L243.0,266.4 L243.3,266.8 L243.6,267.0 L244.0,267.3 L244.3,267.4 L244.8,267.4 L245.2,267.4 L245.7,267.3 L246.2,267.3 L246.6,267.3 L247.0,267.4 L247.4,267.6 L247.7,267.9 L248.0,268.2 L248.2,268.6 L248.4,269.0 L248.7,269.4 L249.0,269.8 L249.3,270.0 L249.7,270.2 L250.1,270.3 L250.5,270.3 L250.9,270.3 L251.4,270.3 L251.9,270.3 L252.3,270.3 L252.7,270.4 L253.1,270.6 L253.4,270.9 L253.7,271.2 L253.9,271.6 L254.1,272.0 L254.4,272.4 L254.6,272.7 L255.0,273.0 L255.4,273.2 L255.8,273.3 L256.2,273.3 L256.7,273.3 L257.1,273.2 L257.6,273.2 L258.0,273.3 L258.4,273.4 L258.8,273.6 L259.1,273.9 L259.3,274.3 L259.6,274.7 L259.8,275.1 L260.1,275.5 L260.3,275.8 L260.7,276.0 L261.1,276.2 L261.5,276.3 L261.9,276.3 L262.4,276.3 L262.8,276.2 L263.3,276.2 L263.7,276.3 L264.1,276.4 L264.5,276.7 L264.8,277.0 L265.0,277.3 L265.3,277.7 L265.5,278.1 L265.8,278.5 L266.0,278.8 L266.4,279.0 L266.8,279.2 L267.2,279.3 L267.6,279.3 L268.1,279.2 L268.6,279.2 L269.0,279.2 L269.4,279.3 L269.8,279.4 L270.2,279.7 L270.5,280.0 L270.7,280.4 L271.0,280.8 L271.2,281.2 L271.5,281.5 L271.8,281.8 L272.2,282.0 L272.6,282.1 L273.0,282.1 L273.5,282.1 L273.9,282.1 L274.4,282.0 L274.8,282.0 L275.2,282.1 L275.6,282.3 L276.0,282.6 L276.2,282.9 L276.5,283.3 L276.7,283.7 L277.0,284.1 L277.3,284.4 L277.6,284.6 L278.1,284.8 L278.5,284.8 L278.9,284.8 L279.3,284.8 L279.8,284.7 L280.2,284.7 L280.6,284.7 L281.1,284.8 L281.4,285.0 L281.7,285.3 L282.0,285.6 L282.2,286.0 L282.5,286.4 L282.8,286.7 L283.1,287.0 L283.5,287.2 L283.9,287.3 L284.3,287.3 L284.7,287.3 L285.2,287.2 L285.6,287.1 L286.0,287.1 L286.5,287.2 L286.9,287.3 L287.2,287.6 L287.5,287.9 L287.8,288.3 L288.0,288.6 L288.3,289.0 L288.6,289.3 L289.0,289.5 L289.4,289.7 L289.8,289.7 L290.3,289.7 L290.7,289.6 L291.1,289.5 L291.6,289.5 L292.0,289.5 L292.4,289.6 L292.8,289.8 L293.0,290.1 L293.3,290.4 L293.6,290.8 L293.8,291.1 L294.1,291.4 L294.5,291.7 L294.9,291.9 L295.3,291.9 L295.7,291.9 L296.2,291.8 L296.6,291.7 L297.0,291.7 L297.4,291.6 L297.9,291.7 L298.3,291.9 L298.6,292.2 L298.9,292.5 L299.2,292.8 L299.4,293.2 L299.7,293.5 L300.1,293.8 L300.4,294.0 L300.9,294.0 L301.3,294.0 L301.7,293.9 L302.1,293.8 L302.5,293.7 L303.0,293.7 L303.4,293.7 L303.8,293.8 L304.2,294.1 L304.5,294.4 L304.7,294.7 L305.0,295.1 L305.3,295.4 L305.6,295.7 L305.9,295.9 L306.4,296.0 L306.8,296.0 L307.2,295.9 L307.6,295.8 L308.1,295.7 L308.5,295.6 L308.9,295.6 L309.3,295.7 L309.7,295.9 L310.0,296.2 L310.3,296.5 L310.6,296.9 L310.9,297.2 L311.1,297.5 L311.5,297.8 L311.9,297.9 L312.3,297.9 L312.8,297.8 L313.2,297.7 L313.6,297.6 L314.0,297.5 L314.4,297.5 L314.8,297.5 L315.2,297.7 L315.6,298.0 L315.9,298.3 L316.1,298.6 L316.4,299.0 L316.7,299.3 L317.1,299.5 L317.5,299.7 L317.9,299.7 L318.3,299.7 L318.7,299.5 L319.1,299.4 L319.5,299.3 L319.9,299.2 L320.4,299.2 L320.8,299.4 L321.1,299.6 L321.4,299.9 L321.7,300.2 L322.0,300.5 L322.3,300.8 L322.7,301.1 L323.0,301.3 L323.5,301.3 L323.9,301.2 L324.3,301.1 L324.7,301.0 L325.1,300.8 L325.5,300.7 L325.9,300.7 L326.3,300.8 L326.7,301.0 L327.0,301.3 L327.3,301.6 L327.6,301.9 L327.9,302.2 L328.3,302.4 L328.7,302.6 L329.1,302.6 L329.5,302.5 L329.9,302.4 L330.3,302.2 L330.7,302.1 L331.1,302.0 L331.5,301.9 L331.9,302.0 L332.3,302.1 L332.7,302.4 L333.0,302.7 L333.3,303.0 L333.6,303.3 L334.0,303.5 L334.3,303.6 L334.8,303.7 L335.2,303.6 L335.6,303.4 L336.0,303.3 L336.3,303.1 L336.7,302.9 L337.1,302.9 L337.5,302.9 L337.9,303.1 L338.3,303.3 L338.6,303.6 L338.9,303.9 L339.2,304.2 L339.6,304.4 L340.0,304.5 L340.4,304.6 L340.8,304.5 L341.2,304.3 L341.6,304.1 L342.0,303.9 L342.4,303.8 L342.8,303.7 L343.2,303.8 L343.6,303.9 L343.9,304.2 L344.3,304.4 L344.6,304.7 L344.9,305.0 L345.3,305.2 L345.7,305.4 L346.1,305.4 L346.5,305.3 L346.9,305.1 L347.3,304.9 L347.6,304.7 L348.0,304.6 L348.4,304.5 L348.8,304.5 L349.2,304.7 L349.6,304.9 L349.9,305.2 L350.2,305.5 L350.5,305.8 L350.9,306.0 L351.3,306.1 L351.7,306.1 L352.1,306.0 L352.5,305.9 L352.9,305.7 L353.3,305.5 L353.7,305.4 L354.1,305.3 L354.5,305.3 L354.9,305.5 L355.2,305.7 L355.6,306.0 L355.9,306.3 L356.2,306.5 L356.6,306.7 L357.0,306.9 L357.4,306.9 L357.8,306.7 L358.2,306.6 L358.6,306.4 L358.9,306.2 L359.3,306.0 L359.7,306.0 L360.1,306.0 L360.5,306.1 L360.9,306.4 L361.2,306.7 L361.5,306.9 L361.9,307.2 L362.2,307.4 L362.6,307.5 L363.0,307.6 L363.4,307.4 L363.8,307.3 L364.2,307.1 L364.6,306.9 L365.0,306.8 L365.4,306.7 L365.8,306.7 L366.2,306.9 L366.5,307.2 L366.9,307.4 L367.2,307.7 L367.5,308.0 L367.9,308.3 L368.2,308.4 L368.7,308.4 L369.1,308.3 L369.5,308.2 L369.9,308.0 L370.2,307.9 L370.6,307.7 L371.1,307.7 L371.5,307.7 L371.8,307.9 L372.2,308.2 L372.5,308.5 L372.8,308.8 L373.1,309.1 L373.5,309.3 L373.9,309.5 L374.3,309.5 L374.7,309.4 L375.1,309.3 L375.5,309.2 L375.9,309.0 L376.3,308.9 L376.6,308.8 L376.4,309.6 L376.5,309.0 L376.5,308.4 L376.6,307.9 L376.6,307.3 L376.7,306.8 L376.8,306.2 L376.9,305.6 L377.0,305.1 L377.0,304.5 L377.1,304.0 L377.2,303.5 L377.3,302.9 L377.3,302.4 L377.4,301.9 L377.5,301.3 L377.6,300.8 L377.6,300.3 L377.7,299.8 L377.8,299.3 L377.8,298.8 L377.8,298.3 L377.8,297.8 L377.9,297.4 L378.0,296.9 L378.1,296.5 L378.1,296.0 L378.3,295.6 L378.4,295.2 L378.5,294.8 L378.6,294.0 L378.7,293.3 L378.8,292.6 L378.9,292.0 L379.0,291.5 L379.1,290.9 L379.1,290.4 L379.2,289.8 L379.2,289.3 L379.3,288.9 L379.4,288.4 L379.5,287.9 L379.6,287.5 L379.8,287.1 L379.9,286.7 L380.1,286.3 L380.1,285.8 L380.0,285.4 L380.2,285.1 L380.3,284.5 L380.3,283.9 L380.4,283.4 L380.7,282.9 L380.8,282.4 L381.0,281.9 L381.1,281.5 L381.2,281.0 L381.3,280.5 L381.4,280.0 L381.6,279.6 L381.9,279.2 L382.2,278.8 L382.6,278.4 L382.9,278.0 L383.0,277.5 L383.2,277.1 L383.4,276.6 L383.5,276.1 L383.6,275.6 L383.9,275.2 L384.2,274.7 L384.4,274.3 L384.4,273.8 L384.5,273.3 L384.6,272.8 L384.6,272.3 L384.6,271.8 L384.7,271.4 L384.9,271.0 L385.3,270.6 L385.5,270.2 L385.4,269.7 L385.5,269.3 L385.6,268.9 L385.7,268.4 L385.9,268.1 L386.2,267.7 L386.3,267.3 L386.6,267.0 L386.7,266.6 L386.7,266.2 L386.7,265.7 L386.8,265.3 L387.0,265.0 L387.1,264.6 L387.2,264.2 L387.4,263.7 L387.4,263.3 L387.5,262.9 L387.9,262.6 L388.0,262.1 L388.2,261.7 L388.2,261.3 L388.4,260.8 L388.5,260.4 L388.9,260.0 L389.1,259.6 L389.3,259.2 L389.4,258.8 L389.6,258.4 L389.9,258.1 L390.2,257.8 L390.4,257.4 L390.8,257.3 L391.0,256.9 L391.2,256.5 L391.5,256.2 L391.7,255.9 L391.8,255.4 L392.0,255.1 L392.2,254.7 L392.4,254.4 L392.5,254.0 L392.8,253.7 L393.0,253.3 L393.2,252.9 L393.4,252.6 L393.6,252.2 L393.9,251.8 L393.9,251.5 L394.1,251.0 L394.3,250.7 L394.4,250.3 L394.7,250.0 L394.9,249.6 L395.1,249.3 L395.4,249.1 L395.7,249.1 L396.0,248.8 L396.3,248.6 L396.7,248.4 L397.0,248.2 L397.4,248.1 L397.7,247.9 L397.9,247.6 L398.1,247.2 L398.4,247.1 L398.6,246.7 L398.8,246.4 L398.9,246.0 L399.3,245.8 L399.5,245.5 L399.8,245.3 L400.0,245.0 L400.2,244.6 L400.6,244.5 L400.9,244.5 L401.2,244.2 L401.4,244.0 L401.8,244.0 L402.0,243.8 L402.3,243.7 L402.6,243.5 L402.9,243.4 L403.1,243.0 L403.4,242.9 L403.7,242.9 L403.9,242.5 L404.3,242.5 L404.5,242.2 L404.8,242.1 L405.0,241.7 L405.2,241.3 L405.5,241.1 L405.9,241.1 L406.2,241.0 L406.5,240.9 L406.9,240.9 L407.3,240.9 L407.6,240.8 L407.8,240.5 L408.2,240.4 L408.5,240.3 L408.8,240.3 L409.1,240.1 L409.5,240.1 L409.8,240.3 L410.1,240.0 L410.4,240.1 L410.6,239.7 L411.0,239.7 L411.3,239.6 L411.6,239.6 L411.9,239.7 L412.2,239.6 L412.5,239.8 L412.8,239.6 L413.1,239.9 L413.4,239.8 L413.7,239.8 L414.0,239.8 L414.3,239.8 L414.6,239.7 L414.8,239.3 L415.2,239.2 L415.5,239.2 L415.8,239.0 L416.1,239.1 L416.4,239.1 L416.7,239.2 L417.0,239.1 L417.3,239.2 L417.6,239.4 L418.0,239.4 L418.4,239.4 L418.7,239.5 L419.1,239.5 L419.4,239.2 L419.7,239.2 L420.1,239.2 L420.4,239.2 L420.8,239.2 L421.1,239.1 L421.4,239.1 L421.7,238.9 L422.0,238.7 L422.4,238.6 L422.7,238.4 L423.0,238.4 L423.3,238.4 L423.6,238.4 L423.9,238.3 L424.3,238.3 L424.6,238.4 L424.9,238.2 L425.1,238.4 L425.5,238.4 L425.8,238.7 L426.0,238.5 L426.4,238.5 L426.7,238.6 L426.9,238.3 L427.3,238.2 L427.5,237.8 L427.8,237.7 L428.2,237.6 L428.5,237.7 L428.8,237.7 L429.1,237.7 L429.5,237.8 L429.9,237.9 L430.2,237.8 L430.6,237.8 L430.9,238.0 L431.3,238.0 L431.6,238.0 L431.9,237.7 L432.2,237.6 L432.4,237.5 L432.6,237.2 L432.8,237.0 L433.2,237.0 L433.6,237.1 L433.9,237.2 L434.2,237.2 L434.5,237.3 L434.9,237.4 L435.3,237.4 L435.6,237.3 L436.0,237.3 L436.3,237.3 L436.6,237.3 L437.0,237.2 L437.3,237.2 L437.6,237.1 L437.9,237.0 L438.2,237.0 L438.6,236.8 L438.9,236.9 L439.2,236.8 L439.5,236.8 L439.9,236.7 L440.2,236.7 L440.6,236.9 L440.9,236.8 L441.3,236.8 L441.6,236.7 L441.9,236.8 L442.3,236.8 L442.6,236.8 L443.0,236.8 L443.3,236.7 L443.6,236.6 L443.9,236.4 L444.2,236.5 L444.6,236.4 L444.9,236.5 L445.1,236.6 L445.5,236.7 L445.8,236.7 L446.1,236.5 L446.4,236.4 L446.8,236.4 L447.1,236.6 L447.4,236.6 L447.8,236.7 L448.1,236.9 L448.4,236.9 L448.7,236.8 L449.1,236.7 L449.5,236.6 L449.7,236.3 L450.1,236.3 L450.4,236.5 L450.7,236.5 L451.1,236.5 L451.4,236.6 L451.6,236.9 L451.9,237.1 L452.2,236.8 L452.5,237.0 L452.9,237.1 L453.2,237.1 L453.5,237.1 L453.8,237.1 L454.2,237.2 L454.5,237.0 L454.9,236.9 L455.2,236.9 L455.6,236.9 L455.9,236.8 L456.2,236.7 L456.5,236.7 L456.8,236.8 L457.1,237.0 L457.5,237.1 L457.8,237.2 L458.1,237.5 L458.4,237.5 L458.8,237.5 L459.2,237.4 L459.4,237.6 L459.8,237.8 L460.0,237.7 L460.4,237.9 L460.7,238.0 L461.0,238.1 L461.3,238.0 L461.7,237.8 L461.9,238.1 L462.2,238.2 L462.6,238.3 L462.9,238.4 L463.2,238.4 L463.5,238.5 L463.9,238.5 L464.2,238.4 L464.6,238.6 L464.9,238.7 L465.1,238.8 L465.5,238.9 L465.9,238.8 L466.2,238.9 L466.6,239.0 L466.8,239.1 L467.2,239.1 L467.5,239.3 L467.9,239.5 L468.2,239.7 L468.6,239.8 L468.9,240.0 L469.3,239.9 L469.6,240.0 L470.0,240.1 L470.3,240.2 L470.6,240.3 L471.0,240.4 L471.2,240.6 L471.7,240.6 L472.0,240.5 L472.3,240.5 L472.7,240.4 L473.1,240.3 L473.4,240.4 L473.7,240.6 L474.0,240.7 L474.3,240.9 L474.6,241.0 L475.0,241.2 L475.4,241.2 L475.6,241.3 L476.0,241.5 L476.3,241.4 L476.6,241.5 L476.9,241.6 L477.3,241.5 L477.7,241.5 L478.0,241.7 L478.3,241.8 L478.7,241.9 L478.9,242.1 L479.2,242.4 L479.5,242.3 L479.8,242.6 L480.2,242.7 L480.5,243.0 L480.9,242.8 L481.2,242.8 L481.5,242.8 L481.9,242.9 L482.2,243.0 L482.5,242.9 L482.8,243.2 L483.2,243.2 L483.6,243.1 L483.9,243.3 L484.2,243.3 L484.5,243.5 L484.8,243.5 L485.0,243.8 L485.4,243.9 L485.7,244.0 L486.0,244.2 L486.4,244.3 L486.7,244.3 L486.9,244.4 L487.2,244.7 L487.4,245.0 L487.8,245.1 L488.0,245.3 L488.3,245.2 L488.6,245.3 L489.0,245.3 L489.3,245.3 L489.6,245.3 L489.9,245.4 L490.2,245.4 L490.6,245.4 L490.9,245.7 L491.1,245.8 L491.4,246.0 L491.7,246.1 L492.0,246.3 L492.2,246.4 L492.5,246.7 L492.9,246.8 L493.2,247.0 L493.5,247.2 L493.8,247.3 L494.1,247.5 L494.5,247.5 L494.9,247.6 L495.3,247.4 L495.6,247.6 L496.0,247.6 L496.3,247.5 L496.5,247.5 L496.9,247.5 L497.1,247.8 L497.6,247.7 L497.8,247.9 L498.1,248.2 L498.3,248.3 L498.6,248.6 L498.9,248.3 L499.2,248.6 L499.5,248.8 L499.9,248.7 L500.3,248.6 L500.6,248.5 L500.9,248.8 L501.1,249.0 L501.4,249.3 L501.7,249.5 L502.0,249.7 L502.4,249.8 L502.7,249.6 L503.1,249.7 L503.4,249.7 L503.6,249.8 L504.0,249.8 L504.2,249.9 L504.6,250.1 L504.9,250.1 L505.3,250.0 L505.6,250.1 L506.0,250.2 L506.3,250.4 L506.7,250.2 L507.0,250.5 L507.3,250.7 L507.6,250.8 L507.9,250.9 L508.2,250.9 L508.5,251.1 L508.9,251.1 L509.1,251.2 L509.3,251.5 L509.7,251.4 L510.0,251.5 L510.4,251.4 L510.7,251.5 L511.1,251.3 L511.4,251.2 L511.8,251.2 L512.1,251.2 L512.5,251.3 L512.8,251.3 L513.1,251.5 L513.4,251.8 L513.6,252.1 L513.9,252.2 L514.3,252.3 L514.5,252.6 L514.8,252.7 L515.1,252.8 L515.5,252.8 L515.8,253.0 L516.2,252.9 L516.5,252.9 L516.8,252.8 L517.1,252.6 L517.4,252.6 L517.6,252.8 L518.0,252.7 L518.3,252.8 L518.6,252.8 L518.9,252.9 L519.0,253.3 L519.4,253.1 L519.7,253.2 L520.0,253.5 L520.3,253.6 L520.6,253.7 L521.0,253.9 L521.3,253.9 L521.7,253.8 L522.0,253.7 L522.3,253.9 L522.7,253.9 L523.0,253.9 L523.3,253.9 L523.6,254.1 L523.9,254.2 L524.2,253.9 L524.6,254.0 L524.7,254.3 L525.0,254.6 L525.4,254.7 L525.7,254.7 L525.9,255.1 L526.3,254.9 L526.6,254.9 L526.9,254.8 L527.2,254.9 L527.5,255.2 L527.8,255.3 L528.0,255.5 L528.3,255.3 L528.6,255.1 L529.0,255.4 L529.3,255.4 L529.7,255.3 L530.0,255.4 L530.4,255.6 L530.6,255.5 L531.0,255.4 L531.3,255.4 L531.7,255.4 L531.9,255.7 L532.2,256.1 L532.6,256.1 L532.8,256.2 L533.1,256.3 L533.5,256.4 L533.8,256.4 L534.1,256.4 L534.5,256.3 L534.8,256.2 L535.0,256.5 L535.3,256.4 L535.6,256.3 L536.0,256.1 L536.3,256.3 L536.6,256.4 L537.0,256.4 L537.3,256.7 L537.6,256.8 L537.8,257.1 L538.1,257.1 L538.4,257.1 L538.8,257.1 L539.1,257.0 L539.4,256.9 L539.7,256.7 L540.1,256.7 L540.4,256.7 L540.7,257.1 L541.0,257.3 L541.3,257.5 L541.6,257.5 L542.0,257.4 L542.3,257.5 L542.7,257.5 L543.0,257.3 L543.2,257.4 L543.5,257.6 L543.8,257.8 L544.2,257.9 L544.4,257.8 L544.7,258.0 L545.0,258.2 L545.3,258.0 L545.6,258.0 L545.9,258.0 L546.2,258.0 L546.5,258.0 L546.8,257.8 L547.2,258.0 L547.6,257.9 L547.9,258.0 L548.2,258.2 L548.6,258.3 L548.9,258.2 L549.1,258.5 L549.4,258.5 L549.7,258.6 L550.1,258.6 L550.5,258.7 L550.8,258.7 L551.1,258.6 L551.3,258.7 L551.7,258.7 L552.0,258.6 L552.3,258.5 L552.7,258.5 L553.0,258.8 L553.3,258.9 L553.7,259.0 L553.9,259.0 L554.2,259.2 L554.5,259.4 L554.8,259.4 L555.1,259.4 L555.5,259.4 L555.8,259.8 L556.1,259.8 L556.5,259.8 L556.7,259.9 L557.1,259.9 L557.5,259.8 L557.8,259.8 L558.1,259.7 L558.4,259.8 L558.8,259.8 L559.1,260.0 L559.4,260.1 L559.8,260.0 L560.0,260.3 L560.2,260.7 L560.5,260.8 L560.8,260.8 L561.1,260.7 L561.4,260.6 L561.8,260.5 L562.1,260.3 L562.5,260.2 L562.8,260.3 L563.2,260.5 L563.5,260.4 L563.8,260.2 L564.1,260.3 L564.4,260.4 L564.7,260.5 L565.0,260.7 L565.2,260.8 L565.5,261.2 L565.8,261.2 L566.1,261.4 L566.4,261.4 L566.7,261.4 L567.0,261.5 L567.3,261.5 L567.7,261.4 L567.9,261.1 L568.3,261.0 L568.6,261.1 L569.0,261.0 L569.3,261.0 L569.6,261.0 L569.8,261.3 L570.1,261.5 L570.4,261.3 L570.7,261.5 L571.0,261.8 L571.3,261.9 L571.6,262.0 L571.9,262.1 L572.2,262.3 L572.5,262.3 L572.9,262.3 L573.3,262.2 L573.6,262.1 L573.9,262.0 L574.2,262.1 L574.5,262.1 L574.9,262.3 L575.2,262.5 L575.5,262.7 L575.8,262.8 L576.1,262.6 L576.4,262.6 L576.7,262.6 L577.1,262.6 L577.4,262.8 L577.7,262.6 L578.0,262.8 L578.2,263.1 L578.6,263.1 L579.0,263.0 L579.3,263.2 L579.7,263.2 L580.1,263.0 L580.4,262.9 L580.7,263.2 L581.1,263.0 L581.5,263.1 L581.8,263.1 L582.0,263.3 L582.4,263.3 L582.7,263.3 L583.1,263.4 L583.4,263.4 L583.7,263.6 L584.0,263.7 L584.4,263.7 L584.7,263.9 L585.0,263.8 L585.3,263.8 L585.6,263.8 L586.0,263.7 L586.3,263.8 L586.5,263.9 L586.8,264.0 L587.1,263.9 L587.4,264.0 L587.6,264.1 L587.9,264.3 L588.1,264.3 L588.5,264.3 L588.7,264.5 L589.1,264.6 L589.4,264.6 L589.8,264.5 L590.0,264.6 L590.3,264.5 L590.6,264.6 L590.9,264.4 L591.3,264.5 L591.6,264.6 L591.9,264.8 L592.2,264.8 L592.5,264.7 L592.7,264.8 L593.1,264.9 L593.4,265.1 L593.7,264.8 L594.0,264.9 L594.3,265.0 L594.6,265.1 L595.0,265.0 L595.3,264.9 L595.6,265.1 L595.9,265.0 L596.2,265.1 L596.6,265.0 L596.8,265.3 L597.1,265.6 L597.3,265.7 L597.6,265.7 L597.9,265.8 L598.2,265.8 L598.6,265.9 L598.9,265.9 L599.3,266.0 L599.6,265.9 L599.9,265.9 L600.2,266.0 L600.5,266.1 L600.9,266.0 L601.2,266.0 L601.6,266.1 L601.9,266.0 L602.2,266.1 L602.6,266.2 L602.8,266.3 L603.2,266.2 L603.5,266.2 L603.9,266.2 L604.2,266.1 L604.4,266.2 L604.6,266.3 L604.9,266.5 L605.1,266.7 L605.4,266.8 L605.8,267.0 L606.1,267.0 L606.4,266.9 L606.7,266.8 L606.9,266.8 L607.2,266.9 L607.5,266.8 L607.8,266.8 L608.1,266.6 L608.5,266.8 L608.7,267.1 L609.1,267.1 L609.3,267.2 L609.7,267.3 L610.0,267.3 L610.4,267.2 L610.8,267.3 L611.1,267.4 L611.5,267.4 L611.7,267.6 L612.1,267.6 L612.4,267.7 L612.7,267.7 L613.1,267.6 L613.5,267.7 L613.7,267.6 L614.1,267.7 L614.3,267.6 L614.5,267.6 L614.8,267.8 L615.1,268.0 L615.3,268.2 L615.6,268.2 L616.0,268.3 L616.2,268.5 L616.5,268.3 L616.8,268.3 L617.1,268.2 L617.5,268.3 L617.8,268.3 L618.1,268.3 L618.5,268.4 L618.8,268.5 L619.1,268.3 L619.4,268.3 L619.8,268.3 L620.0,268.7 L620.3,268.7 L620.5,268.9 L620.7,269.1 L621.0,269.4 L621.4,269.4 L621.7,269.2 L622.0,269.1 L622.2,269.4 L622.5,269.4 L622.9,269.5 L623.2,269.5 L623.6,269.4 L623.9,269.4 L624.3,269.2 L624.5,269.3 L624.9,269.3 L625.2,269.3 L625.3,269.6 L625.7,269.7 L626.0,269.7 L626.2,269.9 L626.5,269.8 L626.8,269.9 L627.2,270.0 L627.4,270.2 L627.7,270.3 L628.0,270.4 L628.2,270.5 L628.4,270.8 L628.8,270.6 L629.1,270.6 L629.3,270.7 L629.6,270.6 L629.9,270.4 L630.2,270.4 L630.4,270.5 L630.7,270.6 L631.0,270.7 L631.2,270.9 L631.6,271.1 L631.9,271.2 L632.3,271.1 L632.6,271.2 L632.9,271.3 L633.2,271.4 L633.5,271.6 L633.9,271.7 L634.1,271.9 L634.5,272.0 L634.8,272.1 L635.1,271.8 L635.5,271.9 L636.0,271.9 L636.3,271.9 L636.7,271.9 L636.9,272.2 L637.3,272.2 L637.6,272.2 L637.9,272.1 L638.3,271.9 L638.6,272.1 L639.0,272.2 L639.3,272.5 L639.6,272.7 L639.9,272.8 L640.2,273.0 L640.6,273.0 L640.9,273.0 L641.2,272.9 L641.5,273.0 L641.9,272.9 L642.3,272.9 L642.6,272.8 L642.9,272.7 L643.3,272.7 L643.6,272.7 L643.9,272.8 L644.3,272.9 L644.6,273.0 L644.8,273.3 L645.2,273.4 L645.5,273.6 L645.7,273.5 L646.1,273.5 L646.4,273.5 L646.7,273.3 L647.0,273.0 L647.3,273.0 L647.6,272.9 L647.9,272.9 L648.3,272.8 L648.6,272.8 L648.8,273.0 L649.1,273.0 L649.5,273.1 L649.8,273.2 L650.1,273.5 L650.3,273.7 L650.7,273.7 L651.0,273.5 L651.3,273.6 L651.7,273.5 L652.0,273.3 L652.3,273.2 L652.6,273.2 L653.0,273.3 L653.2,273.4 L653.6,273.3 L653.8,273.3 L654.1,273.2 L654.4,273.2 L654.7,273.3 L655.0,273.4 L655.3,273.6 L655.5,273.9 L655.8,273.8 L656.1,273.8 L656.5,273.8 L656.8,273.7 L657.2,273.6 L657.5,273.7" stroke="#00ff00" stroke-width="2.7"/>
<path d="M93.7,186.0 L93.7,84.0 L94.8,80.0 L96.6,77.0 L95.7,75.5 L95.6,76.1 L95.5,76.7 L95.4,77.3 L95.3,77.8 L95.3,78.4 L95.3,79.0 L95.3,79.6 L95.3,80.1 L95.3,80.7 L95.4,81.2 L95.5,81.7 L95.7,82.2 L95.8,82.8 L96.0,83.3 L96.2,83.7 L96.4,84.2 L96.7,84.7 L96.9,85.2 L97.2,85.6 L97.5,86.1 L97.8,86.5 L98.2,86.9 L98.5,87.3 L98.8,87.8 L99.1,88.2 L99.5,88.6 L99.8,89.0 L100.1,89.4 L100.4,89.9 L100.7,90.3 L101.0,90.7 L101.3,91.1 L101.5,91.5 L101.7,91.9 L101.9,92.4 L102.1,92.8 L102.3,93.2 L102.4,93.6 L102.5,94.0 L102.6,94.5 L102.6,94.9 L102.6,95.3 L102.6,95.7 L102.6,96.1 L102.6,96.5 L102.5,97.0 L102.4,97.4 L102.3,97.8 L102.2,98.2 L102.1,98.6 L102.0,99.0 L101.9,99.4 L101.8,99.8 L101.6,100.3 L101.4,100.9 L101.3,101.4 L101.2,101.9 L101.1,102.4 L101.1,102.8 L101.1,103.3 L101.2,103.7 L101.3,104.2 L101.6,104.6 L101.9,105.0 L102.3,105.3 L102.6,105.6 L103.0,105.9 L103.4,106.2 L103.9,106.5 L104.3,106.8 L104.8,107.2 L105.1,107.5 L105.4,107.8 L105.7,108.1 L106.0,108.4 L106.3,108.7 L106.5,109.1 L106.8,109.4 L107.0,109.8 L107.2,110.2 L107.4,110.6 L107.6,111.0 L107.8,111.4 L107.9,111.8 L108.0,112.3 L108.1,112.7 L108.1,113.1 L108.1,113.6 L108.1,114.0 L108.1,114.5 L108.1,114.9 L108.1,115.4 L108.0,115.8 L107.9,116.3 L107.8,116.7 L107.7,117.2 L107.6,117.6 L107.5,118.0 L107.4,118.5 L107.3,118.9 L107.2,119.3 L107.1,119.7 L107.0,120.1 L106.9,120.7 L106.8,121.3 L106.8,121.8 L106.8,122.3 L106.9,122.9 L107.0,123.3 L107.1,123.8 L107.3,124.3 L107.6,124.7 L107.9,125.1 L108.2,125.5 L108.6,125.9 L109.0,126.2 L109.4,126.6 L109.8,127.0 L110.3,127.4 L110.7,127.7 L111.2,128.1 L111.6,128.6 L112.0,129.0 L112.3,129.5 L112.7,129.9 L113.0,130.5 L113.1,130.8 L113.3,131.2 L113.4,131.6 L113.5,132.0 L113.6,132.4 L113.6,132.8 L113.7,133.2 L113.7,133.7 L113.7,134.1 L113.7,134.6 L113.6,135.0 L113.6,135.5 L113.5,136.0 L113.4,136.4 L113.3,136.9 L113.2,137.4 L113.2,137.8 L113.1,138.3 L113.0,138.8 L112.9,139.2 L112.8,139.7 L112.7,140.1 L112.7,140.6 L112.6,141.0 L112.6,141.4 L112.5,141.9 L112.5,142.3 L112.6,142.9 L112.7,143.4 L112.8,144.0 L112.9,144.5 L113.2,145.0 L113.4,145.5 L113.7,146.0 L114.0,146.4 L114.4,146.9 L114.8,147.3 L115.2,147.7 L115.6,148.1 L116.1,148.5 L116.5,148.9 L116.9,149.3 L117.3,149.7 L117.7,150.1 L118.0,150.5 L118.3,150.9 L118.6,151.3 L118.8,151.7 L118.9,152.2 L119.1,152.6 L119.1,153.1 L119.2,153.5 L119.2,154.0 L119.2,154.5 L119.1,155.0 L119.0,155.5 L118.9,156.0 L118.8,156.5 L118.7,157.0 L118.6,157.5 L118.5,158.0 L118.4,158.5 L118.3,159.0 L118.3,159.5 L118.3,159.9 L118.4,160.3 L118.5,160.8 L118.6,161.2 L118.8,161.5 L119.0,161.9 L119.3,162.2 L119.6,162.6 L119.9,162.9 L120.3,163.2 L120.6,163.5 L121.0,163.8 L121.4,164.1 L121.8,164.4 L122.2,164.7 L122.6,165.0 L123.0,165.3 L123.3,165.6 L123.6,165.9 L123.9,166.3 L124.2,166.6 L124.4,167.0 L124.5,167.4 L124.6,167.8 L124.7,168.2 L124.7,168.6 L124.7,169.0 L124.7,169.5 L124.7,169.9 L124.6,170.4 L124.5,170.9 L124.4,171.3 L124.3,171.8 L124.2,172.2 L124.2,172.7 L124.1,173.1 L124.1,173.5 L124.1,174.0 L124.1,174.5 L124.3,175.0 L124.4,175.4 L124.7,175.9 L125.0,176.2 L125.4,176.6 L125.8,176.9 L126.1,177.1 L126.5,177.3 L126.8,177.6 L127.2,177.8 L127.6,178.0 L128.0,178.2 L128.3,178.5 L128.7,178.7 L129.0,178.9 L129.4,179.3 L129.7,179.7 L129.9,180.1 L130.1,180.5 L130.2,181.0 L130.3,181.5 L130.3,182.0 L130.3,182.4 L130.2,182.9 L130.2,183.3 L130.1,183.7 L130.0,184.2 L129.9,184.6 L129.9,185.0 L129.8,185.4 L129.8,185.9 L129.8,186.3 L129.8,186.8 L129.9,187.3 L130.1,187.7 L130.4,188.2 L130.7,188.6 L131.0,188.9 L131.3,189.2 L131.7,189.5 L132.0,189.7 L132.4,189.9 L132.8,190.2 L133.1,190.4 L133.5,190.7 L133.8,190.9 L134.2,191.1 L134.5,191.4 L134.9,191.7 L135.2,192.1 L135.5,192.5 L135.7,192.9 L135.8,193.4 L135.9,193.8 L135.9,194.3 L135.9,194.9 L135.8,195.3 L135.8,195.7 L135.7,196.1 L135.7,196.5 L135.6,196.9 L135.5,197.3 L135.5,197.7 L135.5,198.3 L135.5,198.8 L135.6,199.2 L135.8,199.7 L136.0,200.1 L136.2,200.5 L136.6,200.8 L136.9,201.1 L137.4,201.5 L137.7,201.7 L138.1,201.9 L138.4,202.1 L138.8,202.3 L139.1,202.5 L139.5,202.7 L139.9,203.0 L140.3,203.3 L140.6,203.7 L140.9,204.0 L141.1,204.4 L141.3,204.8 L141.4,205.3 L141.5,205.7 L141.5,206.2 L141.5,206.7 L141.4,207.3 L141.4,207.7 L141.3,208.1 L141.3,208.6 L141.2,209.1 L141.2,209.6 L141.2,210.1 L141.3,210.5 L141.4,211.0 L141.6,211.3 L141.9,211.7 L142.2,212.0 L142.5,212.3 L142.9,212.6 L143.4,212.9 L143.8,213.1 L144.3,213.3 L144.7,213.6 L145.2,213.8 L145.6,214.1 L146.0,214.4 L146.3,214.7 L146.6,215.0 L146.8,215.3 L146.9,215.7 L147.0,216.1 L147.1,216.6 L147.1,217.0 L147.1,217.5 L147.0,218.0 L147.0,218.5 L146.9,219.0 L146.9,219.5 L146.9,219.9 L146.9,220.4 L147.0,220.8 L147.1,221.2 L147.3,221.5 L147.5,221.9 L147.8,222.2 L148.2,222.4 L148.5,222.7 L149.0,222.9 L149.4,223.1 L149.8,223.3 L150.3,223.5 L150.7,223.7 L151.1,223.9 L151.5,224.2 L151.8,224.4 L152.1,224.8 L152.4,225.2 L152.6,225.7 L152.7,226.0 L152.7,226.5 L152.7,226.9 L152.7,227.4 L152.7,227.8 L152.6,228.3 L152.6,228.8 L152.6,229.2 L152.6,229.7 L152.7,230.1 L152.8,230.5 L153.0,231.0 L153.3,231.3 L153.7,231.6 L154.0,231.9 L154.4,232.0 L154.8,232.2 L155.3,232.4 L155.7,232.5 L156.1,232.7 L156.5,232.8 L156.9,233.0 L157.3,233.3 L157.7,233.6 L157.9,233.9 L158.1,234.3 L158.2,234.7 L158.3,235.2 L158.3,235.6 L158.3,236.1 L158.3,236.5 L158.3,236.9 L158.3,237.3 L158.3,237.8 L158.4,238.2 L158.5,238.7 L158.7,239.0 L158.9,239.4 L159.3,239.6 L159.7,239.8 L160.1,240.0 L160.5,240.1 L160.9,240.2 L161.3,240.3 L161.7,240.4 L162.2,240.5 L162.6,240.7 L163.0,240.9 L163.3,241.1 L163.6,241.5 L163.8,241.9 L163.9,242.3 L163.9,242.8 L163.9,243.3 L163.9,243.7 L163.9,244.1 L164.0,244.6 L164.0,245.0 L164.1,245.5 L164.3,245.8 L164.5,246.2 L164.9,246.5 L165.3,246.7 L165.7,246.8 L166.2,246.9 L166.7,247.0 L167.2,247.1 L167.6,247.1 L168.1,247.2 L168.5,247.4 L168.9,247.6 L169.2,248.0 L169.4,248.4 L169.5,248.8 L169.5,249.2 L169.6,249.7 L169.6,250.2 L169.6,250.6 L169.7,251.1 L169.7,251.5 L169.9,251.9 L170.1,252.3 L170.4,252.6 L170.8,252.8 L171.2,252.9 L171.7,253.0 L172.1,253.1 L172.6,253.1 L173.1,253.2 L173.5,253.2 L173.9,253.4 L174.3,253.6 L174.7,253.8 L174.9,254.2 L175.1,254.6 L175.2,255.1 L175.2,255.5 L175.2,256.0 L175.3,256.5 L175.3,256.9 L175.4,257.3 L175.5,257.7 L175.7,258.1 L176.0,258.4 L176.4,258.6 L176.8,258.7 L177.3,258.8 L177.7,258.8 L178.2,258.9 L178.6,258.9 L179.1,258.9 L179.5,259.0 L179.9,259.2 L180.2,259.4 L180.5,259.7 L180.7,260.1 L180.8,260.5 L180.8,260.9 L180.9,261.4 L180.9,261.8 L181.0,262.3 L181.1,262.7 L181.2,263.1 L181.4,263.5 L181.8,263.7 L182.1,263.9 L182.6,264.0 L183.0,264.0 L183.5,264.1 L183.9,264.1 L184.3,264.1 L184.8,264.1 L185.2,264.2 L185.6,264.4 L185.9,264.6 L186.2,264.9 L186.3,265.4 L186.4,265.8 L186.5,266.2 L186.5,266.6 L186.6,267.1 L186.7,267.5 L186.8,267.9 L187.0,268.3 L187.3,268.6 L187.6,268.8 L188.0,269.0 L188.5,269.0 L188.9,269.0 L189.4,269.0 L189.8,269.0 L190.2,269.0 L190.7,269.1 L191.1,269.2 L191.5,269.4 L191.8,269.8 L191.9,270.2 L192.1,270.7 L192.1,271.1 L192.2,271.5 L192.3,271.9 L192.4,272.3 L192.5,272.8 L192.7,273.1 L193.1,273.4 L193.5,273.6 L193.9,273.7 L194.3,273.7 L194.8,273.6 L195.2,273.6 L195.6,273.6 L196.1,273.6 L196.5,273.6 L196.9,273.8 L197.3,274.1 L197.5,274.5 L197.7,274.9 L197.7,275.3 L197.8,275.7 L197.9,276.1 L198.0,276.5 L198.2,276.9 L198.4,277.3 L198.7,277.6 L199.1,277.7 L199.5,277.8 L199.9,277.8 L200.3,277.7 L200.8,277.6 L201.2,277.6 L201.6,277.5 L202.0,277.5 L202.5,277.6 L202.8,277.9 L203.1,278.2 L203.2,278.6 L203.4,279.1 L203.5,279.5 L203.6,279.9 L203.7,280.3 L203.9,280.7 L204.1,281.1 L204.5,281.3 L204.9,281.4 L205.3,281.4 L205.8,281.4 L206.2,281.3 L206.6,281.2 L207.0,281.1 L207.5,281.1 L207.9,281.2 L208.3,281.3 L208.6,281.6 L208.8,282.0 L209.0,282.4 L209.1,282.9 L209.2,283.3 L209.4,283.7 L209.5,284.1 L209.8,284.5 L210.1,284.8 L210.5,284.9 L210.9,284.9 L211.4,284.8 L211.8,284.7 L212.2,284.6 L212.7,284.5 L213.1,284.5 L213.5,284.5 L213.9,284.6 L214.2,284.9 L214.4,285.3 L214.6,285.7 L214.8,286.2 L214.9,286.6 L215.1,287.0 L215.2,287.4 L215.5,287.8 L215.9,288.0 L216.3,288.0 L216.7,288.0 L217.1,287.9 L217.5,287.8 L218.0,287.7 L218.4,287.6 L218.8,287.5 L219.3,287.6 L219.7,287.8 L219.9,288.1 L220.1,288.4 L220.3,288.8 L220.5,289.3 L220.6,289.7 L220.8,290.1 L221.0,290.5 L221.3,290.8 L221.8,290.9 L222.2,290.9 L222.6,290.8 L223.1,290.7 L223.5,290.6 L223.9,290.4 L224.3,290.3 L224.8,290.3 L225.2,290.5 L225.5,290.7 L225.7,291.1 L225.9,291.5 L226.1,291.9 L226.2,292.4 L226.4,292.8 L226.6,293.1 L226.9,293.4 L227.3,293.6 L227.7,293.6 L228.1,293.5 L228.6,293.4 L229.0,293.2 L229.4,293.1 L229.8,292.9 L230.3,292.9 L230.7,293.0 L231.1,293.2 L231.3,293.6 L231.5,293.9 L231.7,294.4 L231.9,294.8 L232.1,295.2 L232.3,295.5 L232.6,295.8 L233.0,296.0 L233.4,296.0 L233.8,295.9 L234.2,295.7 L234.6,295.6 L235.1,295.4 L235.5,295.3 L235.9,295.2 L236.3,295.3 L236.7,295.5 L237.0,295.9 L237.2,296.3 L237.3,296.7 L237.5,297.1 L237.7,297.5 L237.9,297.8 L238.2,298.1 L238.6,298.3 L239.0,298.3 L239.5,298.2 L239.9,298.1 L240.3,297.9 L240.7,297.8 L241.1,297.7 L241.6,297.6 L242.0,297.7 L242.4,298.0 L242.6,298.3 L242.8,298.7 L243.0,299.1 L243.2,299.5 L243.4,299.9 L243.6,300.3 L243.8,300.6 L244.2,300.8 L244.6,300.8 L245.1,300.7 L245.5,300.6 L245.9,300.4 L246.4,300.3 L246.8,300.1 L247.2,300.1 L247.6,300.2 L248.0,300.4 L248.3,300.8 L248.5,301.1 L248.6,301.5 L248.8,302.0 L249.0,302.3 L249.3,302.7 L249.6,303.0 L250.0,303.2 L250.4,303.2 L250.8,303.0 L251.2,302.9 L251.7,302.7 L252.1,302.5 L252.5,302.4 L252.9,302.3 L253.3,302.4 L253.7,302.7 L253.9,303.0 L254.1,303.4 L254.3,303.8 L254.5,304.2 L254.7,304.5 L255.0,304.9 L255.4,305.2 L255.8,305.2 L256.2,305.2 L256.6,305.0 L257.0,304.9 L257.4,304.7 L257.8,304.5 L258.1,304.3 L258.6,304.3 L259.0,304.4 L259.3,304.6 L259.6,305.0 L259.8,305.3 L260.0,305.7 L260.2,306.1 L260.4,306.5 L260.7,306.8 L261.1,307.0 L261.5,307.1 L261.9,307.0 L262.3,306.8 L262.7,306.6 L263.1,306.4 L263.5,306.2 L263.9,306.1 L264.3,306.1 L264.7,306.2 L265.0,306.5 L265.3,306.8 L265.5,307.2 L265.7,307.6 L265.9,308.0 L266.2,308.3 L266.5,308.6 L266.9,308.8 L267.3,308.8 L267.7,308.6 L268.1,308.5 L268.5,308.3 L268.9,308.0 L269.2,307.9 L269.6,307.7 L270.1,307.7 L270.5,307.9 L270.8,308.2 L271.0,308.5 L271.2,308.9 L271.4,309.3 L271.6,309.6 L271.9,310.0 L272.3,310.3 L272.7,310.4 L273.1,310.3 L273.6,310.1 L273.9,309.9 L274.3,309.7 L274.7,309.5 L275.1,309.3 L275.5,309.3 L275.9,309.3 L276.3,309.6 L276.6,309.9 L276.8,310.3 L277.0,310.7 L277.2,311.1 L277.5,311.4 L277.8,311.7 L278.1,311.9 L278.6,311.9 L279.0,311.7 L279.3,311.6 L279.7,311.3 L280.1,311.1 L280.5,310.9 L280.9,310.8 L281.3,310.7 L281.7,310.9 L282.0,311.1 L282.3,311.5 L282.5,311.9 L282.7,312.2 L283.0,312.6 L283.2,313.0 L283.6,313.2 L284.0,313.3 L284.5,313.2 L284.9,313.0 L285.2,312.8 L285.6,312.6 L286.0,312.4 L286.4,312.2 L286.8,312.1 L287.2,312.2 L287.6,312.4 L287.9,312.8 L288.1,313.1 L288.3,313.5 L288.6,313.9 L288.9,314.2 L289.2,314.5 L289.6,314.6 L290.0,314.6 L290.4,314.4 L290.8,314.2 L291.1,313.9 L291.5,313.7 L291.9,313.5 L292.3,313.4 L292.7,313.4 L293.1,313.6 L293.4,313.8 L293.6,314.2 L293.8,314.5 L294.1,314.9 L294.3,315.2 L294.6,315.6 L295.0,315.8 L295.4,315.9 L295.8,315.8 L296.2,315.5 L296.6,315.3 L297.0,315.1 L297.3,314.9 L297.7,314.7 L298.2,314.6 L298.6,314.7 L298.9,315.0 L299.2,315.3 L299.4,315.7 L299.7,316.1 L299.9,316.4 L300.2,316.8 L300.6,317.0 L301.0,317.1 L301.4,317.0 L301.8,316.8 L302.2,316.6 L302.6,316.3 L302.9,316.1 L303.3,315.9 L303.8,315.8 L304.2,315.9 L304.5,316.1 L304.8,316.5 L305.1,316.8 L305.3,317.2 L305.5,317.5 L305.8,317.9 L306.2,318.2 L306.6,318.3 L307.0,318.2 L307.4,318.0 L307.8,317.8 L308.1,317.5 L308.5,317.3 L308.9,317.1 L309.3,317.0 L309.7,317.0 L310.1,317.2 L310.4,317.5 L310.6,317.9 L310.9,318.2 L311.1,318.6 L311.3,318.9 L311.6,319.2 L312.0,319.4 L312.4,319.4 L312.8,319.3 L313.2,319.1 L313.6,318.9 L314.0,318.7 L314.3,318.5 L314.8,318.3 L315.2,318.3 L315.6,318.4 L315.9,318.7 L316.2,319.0 L316.4,319.4 L316.6,319.8 L316.9,320.1 L317.1,320.5 L317.5,320.7 L317.9,320.8 L318.3,320.7 L318.8,320.5 L319.1,320.3 L319.5,320.1 L319.9,319.9 L320.3,319.7 L320.7,319.6 L321.1,319.7 L321.5,320.0 L321.8,320.3 L322.0,320.7 L322.2,321.1 L322.5,321.4 L322.8,321.8 L323.1,322.0 L323.5,322.1 L323.9,322.1 L324.3,321.9 L324.7,321.7 L325.0,321.5 L325.4,321.2 L325.7,321.0 L326.1,320.9 L326.5,320.8 L326.9,321.0 L327.2,321.3 L327.5,321.6 L327.8,322.0 L328.0,322.3 L328.3,322.6 L328.6,322.9 L329.0,323.1 L329.4,323.1 L329.8,323.0 L330.2,322.7 L330.5,322.5 L330.8,322.2 L331.2,321.9 L331.5,321.7 L332.0,321.6 L332.4,321.6 L332.7,321.9 L333.1,322.2 L333.3,322.5 L333.6,322.9 L333.9,323.2 L334.2,323.5 L334.6,323.7 L335.0,323.7 L335.4,323.6 L335.8,323.3 L336.1,323.0 L336.4,322.8 L336.8,322.5 L337.1,322.2 L337.5,322.1 L337.9,322.1 L338.3,322.3 L338.7,322.6 L338.9,322.9 L339.2,323.3 L339.5,323.6 L339.8,323.9 L340.2,324.1 L340.6,324.1 L341.0,324.0 L341.4,323.7 L341.7,323.5 L342.0,323.2 L342.3,322.9 L342.7,322.6 L343.1,322.4 L343.5,322.4 L343.9,322.6 L344.3,322.9 L344.6,323.1 L344.9,323.5 L345.2,323.7 L345.5,324.0 L345.9,324.2 L346.3,324.2 L346.7,324.0 L347.1,323.8 L347.4,323.5 L347.7,323.2 L348.0,322.8 L348.3,322.5 L348.7,322.3 L349.1,322.3 L349.5,322.4 L349.8,322.7 L350.2,322.9 L350.5,323.2 L350.8,323.5 L351.2,323.8 L351.5,324.0 L351.9,324.0 L352.3,323.8 L352.7,323.6 L352.9,323.3 L353.2,323.0 L353.5,322.7 L353.8,322.4 L354.1,322.1 L354.5,322.0 L354.9,322.0 L355.3,322.2 L355.7,322.5 L356.0,322.8 L356.3,323.1 L356.6,323.4 L356.9,323.6 L357.3,323.8 L357.8,323.7 L358.2,323.5 L358.5,323.2 L358.8,322.9 L359.1,322.6 L359.4,322.3 L359.8,322.0 L360.2,321.9 L360.6,321.9 L361.0,322.2 L361.3,322.5 L361.6,322.8 L361.9,323.1 L362.2,323.4 L362.6,323.6 L363.0,323.8 L363.3,323.8 L363.8,323.6 L364.1,323.3 L364.4,323.0 L364.7,322.7 L365.0,322.4 L365.4,322.2 L365.8,322.0 L366.2,322.1 L366.6,322.3 L366.9,322.6 L367.2,322.9 L367.5,323.2 L367.8,323.5 L368.1,323.8 L368.5,324.0 L368.9,324.0 L369.3,323.8 L369.7,323.6 L370.0,323.3 L370.3,323.0 L370.6,322.7 L371.0,322.5 L371.4,322.3 L371.8,322.3 L372.2,322.5 L372.6,322.8 L372.8,323.1 L373.1,323.5 L373.4,323.8 L373.7,324.1 L374.1,324.3 L374.5,324.4 L374.9,324.2 L375.3,324.0 L375.6,323.7 L375.9,323.5 L376.3,323.2 L376.5,323.0 L376.7,324.6 L376.8,324.1 L377.0,323.7 L377.2,323.3 L377.2,322.8 L377.2,322.3 L377.3,321.9 L377.5,321.5 L377.5,321.0 L377.7,320.5 L377.7,320.1 L377.8,319.6 L378.0,319.2 L378.1,318.7 L378.2,318.3 L378.4,317.8 L378.5,317.3 L378.6,316.9 L378.6,316.4 L378.8,315.9 L378.8,315.5 L378.9,315.0 L379.0,314.5 L379.4,314.1 L379.5,313.6 L379.6,313.1 L379.9,312.7 L379.9,312.2 L380.1,311.7 L380.2,311.2 L380.3,310.7 L380.5,310.2 L380.6,309.7 L380.6,309.2 L380.7,308.7 L380.7,308.1 L380.8,307.6 L380.9,307.1 L380.9,306.5 L381.0,306.0 L381.1,305.5 L381.1,304.9 L381.1,304.4 L381.1,303.8 L381.1,303.3 L381.2,302.8 L381.3,302.3 L381.4,301.8 L381.5,301.2 L381.5,300.7 L381.6,300.2 L381.8,299.8 L381.9,299.3 L381.8,298.8 L381.9,298.3 L382.0,297.8 L382.0,297.4 L382.1,296.9 L382.2,296.5 L382.3,296.1 L382.5,295.7 L382.6,295.3 L382.8,294.9 L382.9,294.4 L382.9,294.0 L383.1,293.6 L383.2,293.1 L383.3,292.7 L383.4,292.3 L383.4,291.8 L383.6,291.4 L383.8,291.0 L383.9,290.6 L384.1,290.3 L384.2,289.9 L384.3,289.5 L384.5,288.9 L384.6,288.4 L384.8,287.9 L384.9,287.4 L385.1,286.9 L385.2,286.5 L385.5,286.2 L385.6,285.9 L385.8,285.5 L386.1,285.2 L386.1,284.7 L386.2,284.2 L386.3,283.9 L386.6,283.6 L386.6,283.2 L386.8,282.9 L387.1,282.6 L387.1,282.2 L387.3,281.9 L387.5,281.7 L387.8,281.5 L387.9,281.2 L388.3,281.0 L388.5,280.7 L388.9,280.7 L389.3,280.7 L389.6,280.6 L390.0,280.6 L390.4,280.5 L390.7,280.5 L391.0,280.5 L391.3,280.2 L391.5,280.1 L391.8,279.9 L391.9,279.5 L392.2,279.4 L392.5,279.2 L392.9,279.1 L393.2,278.9 L393.4,278.8 L393.8,278.9 L393.9,278.6 L394.3,278.5 L394.6,278.4 L394.8,278.2 L395.2,278.3 L395.6,278.3 L396.0,278.3 L396.3,278.5 L396.6,278.5 L396.9,278.3 L397.3,278.3 L397.5,278.1 L397.9,277.9 L398.2,277.9 L398.5,277.9 L398.8,278.0 L399.1,277.9 L399.4,278.0 L399.8,277.9 L400.1,277.8 L400.4,277.9 L400.7,277.9 L401.1,277.9 L401.5,277.9 L401.8,277.7 L402.1,277.5 L402.5,277.5 L402.8,277.4 L403.2,277.4 L403.5,277.6 L403.9,277.6 L404.2,277.7 L404.5,277.8 L404.9,277.6 L405.2,277.4 L405.5,277.3 L405.8,277.2 L406.1,277.4 L406.4,277.4 L406.8,277.5 L407.1,277.8 L407.4,277.8 L407.7,278.0 L408.0,278.2 L408.2,278.2 L408.6,278.1 L408.9,278.0 L409.3,278.0 L409.6,278.1 L409.9,278.0 L410.2,277.8 L410.5,277.9 L410.8,278.1 L411.1,277.9 L411.5,277.9 L411.8,278.0 L412.1,278.1 L412.4,278.3 L412.7,278.6 L413.1,278.7 L413.4,278.8 L413.8,278.8 L414.1,278.8 L414.4,278.6 L414.8,278.8 L415.1,278.7 L415.5,278.6 L415.8,278.8 L416.1,279.1 L416.4,278.9 L416.8,279.2 L417.1,279.2 L417.5,279.2 L417.8,279.2 L418.1,279.2 L418.3,279.2 L418.7,279.1 L419.0,279.0 L419.3,279.0 L419.7,279.0 L420.0,279.0 L420.2,279.0 L420.5,279.2 L420.8,279.4 L421.2,279.4 L421.4,279.5 L421.8,279.5 L422.1,279.4 L422.5,279.4 L422.8,279.4 L423.0,279.6 L423.3,279.8 L423.6,279.9 L424.0,280.1 L424.3,280.1 L424.6,280.0 L424.9,279.9 L425.2,279.6 L425.5,279.5 L425.9,279.4 L426.2,279.5 L426.6,279.4 L426.9,279.4 L427.2,279.5 L427.5,279.4 L427.8,279.5 L428.1,279.4 L428.4,279.5 L428.8,279.6 L429.0,279.4 L429.3,279.3 L429.6,279.6 L429.8,280.0 L430.1,280.3 L430.4,280.3 L430.7,280.5 L431.1,280.7 L431.4,280.3 L431.6,280.1 L432.0,279.9 L432.3,279.9 L432.6,279.7 L432.9,279.5 L433.2,279.6 L433.6,279.7 L433.9,279.8 L434.2,279.7 L434.4,279.8 L434.7,279.9 L435.0,279.9 L435.2,280.2 L435.6,280.1 L435.9,280.2 L436.2,280.3 L436.5,280.6 L436.8,280.7 L437.2,280.7 L437.5,280.9 L437.8,281.0 L438.2,280.9 L438.4,280.6 L438.8,280.7 L439.1,280.7 L439.4,280.8 L439.8,280.9 L440.1,280.8 L440.4,281.0 L440.7,281.2 L441.1,281.1 L441.3,281.2 L441.7,281.0 L441.9,281.4 L442.2,281.3 L442.5,281.4 L442.8,281.5 L443.2,281.5 L443.5,281.6 L443.8,281.7 L444.1,281.6 L444.3,281.6 L444.6,281.9 L444.9,281.6 L445.3,281.7 L445.6,281.7 L445.8,281.8 L446.2,281.5 L446.6,281.6 L446.9,281.8 L447.2,282.0 L447.5,282.0 L447.8,282.2 L448.1,282.3 L448.5,282.3 L448.8,282.3 L449.2,282.2 L449.5,282.3 L449.7,282.5 L450.0,282.5 L450.4,282.5 L450.6,282.4 L451.0,282.5 L451.3,282.5 L451.7,282.4 L451.8,282.6 L452.2,282.5 L452.5,282.6 L452.8,282.6 L453.2,282.6 L453.5,282.7 L453.8,282.9 L454.1,283.0 L454.3,283.1 L454.6,283.0 L455.0,282.9 L455.3,282.8 L455.6,282.6 L456.0,282.6 L456.3,282.8 L456.6,283.0 L457.0,283.0 L457.3,283.1 L457.6,283.1 L457.9,283.3 L458.3,283.3 L458.6,283.2 L458.8,283.5 L459.2,283.3 L459.5,283.6 L459.8,283.6 L460.2,283.7 L460.5,283.7 L460.8,283.9 L461.1,284.0 L461.4,283.8 L461.8,283.8 L462.2,284.0 L462.5,283.9 L462.8,284.0 L463.2,284.1 L463.5,284.3 L463.8,284.2 L464.2,284.2 L464.5,284.1 L464.8,284.3 L465.1,284.3 L465.5,284.3 L465.8,284.2 L466.1,284.2 L466.5,284.2 L466.8,284.1 L467.2,284.2 L467.5,284.4 L467.9,284.5 L468.1,284.6 L468.5,284.5 L468.8,284.4 L469.2,284.4 L469.4,284.6 L469.8,284.7 L470.1,284.8 L470.3,284.9 L470.7,285.0 L471.0,285.0 L471.3,285.2 L471.6,285.1 L471.9,285.1 L472.3,285.1 L472.6,285.3 L472.9,285.2 L473.2,285.2 L473.6,285.2 L474.0,285.1 L474.3,285.1 L474.6,285.2 L474.9,285.5 L475.3,285.4 L475.6,285.7 L475.9,285.6 L476.3,285.5 L476.5,285.6 L476.9,285.5 L477.1,285.7 L477.5,285.6 L477.8,285.7 L478.2,285.6 L478.5,285.4 L478.8,285.4 L479.2,285.5 L479.4,285.6 L479.7,285.9 L479.9,286.2 L480.1,286.5 L480.5,286.4 L480.7,286.6 L481.1,286.8 L481.4,286.7 L481.8,286.6 L482.1,286.5 L482.4,286.6 L482.7,286.7 L483.0,286.5 L483.3,286.5 L483.7,286.6 L484.0,286.5 L484.4,286.5 L484.7,286.5 L485.0,286.4 L485.3,286.5 L485.6,286.4 L485.9,286.7 L486.3,286.8 L486.5,287.0 L486.8,287.1 L487.2,287.3 L487.5,287.4 L487.8,287.3 L488.1,287.3 L488.4,287.2 L488.8,287.1 L489.1,287.1 L489.5,287.0 L489.8,287.2 L490.2,287.2 L490.6,287.2 L490.9,287.1 L491.3,287.4 L491.6,287.3 L491.9,287.5 L492.3,287.5 L492.6,287.7 L492.9,287.6 L493.2,287.5 L493.5,287.6 L493.8,287.6 L494.2,287.7 L494.5,287.7 L494.8,287.7 L495.1,287.8 L495.4,287.7 L495.7,287.7 L496.1,287.7 L496.4,287.7 L496.7,287.8 L497.1,287.7 L497.4,287.7 L497.8,287.7 L498.1,287.8 L498.4,288.0 L498.6,288.2 L498.9,288.3 L499.2,288.3 L499.5,288.3 L499.9,288.3 L500.3,288.2 L500.6,288.2 L500.9,288.2 L501.2,288.2 L501.5,288.1 L501.8,288.2 L502.1,288.2 L502.4,288.1 L502.8,288.1 L503.2,288.2 L503.4,288.4 L503.8,288.4 L504.1,288.5 L504.4,288.5 L504.6,288.8 L505.0,289.0 L505.3,288.9 L505.6,288.9 L506.0,288.7 L506.3,288.6 L506.5,288.3 L506.9,288.1 L507.2,288.2 L507.4,288.5 L507.7,288.7 L508.1,288.8 L508.3,289.1 L508.6,289.4 L508.9,289.3 L509.2,289.1 L509.5,289.1 L509.8,289.1 L510.2,289.3 L510.5,289.4 L510.9,289.4 L511.2,289.5 L511.5,289.3 L511.8,289.2 L512.2,288.9 L512.5,288.8 L512.8,289.0 L513.1,289.0 L513.5,289.0 L513.8,289.3 L514.2,289.4 L514.5,289.4 L514.8,289.6 L515.2,289.6 L515.5,289.5 L515.8,289.6 L516.2,289.7 L516.5,289.6 L516.8,289.7 L517.2,289.9 L517.5,289.8 L517.8,289.8 L518.1,289.8 L518.5,290.0 L518.8,289.7 L519.1,289.8 L519.4,290.1 L519.7,290.3 L520.0,290.2 L520.3,290.1 L520.6,290.2 L520.9,290.2 L521.2,290.2 L521.6,289.9 L521.9,289.7 L522.1,289.9 L522.5,289.9 L522.9,289.9 L523.1,289.8 L523.4,289.9 L523.8,289.9 L524.1,289.9 L524.5,290.0 L524.7,290.4 L525.1,290.2 L525.4,290.4 L525.7,290.4 L526.0,290.6 L526.3,290.5 L526.6,290.4 L526.9,290.4 L527.2,290.5 L527.6,290.6 L528.0,290.4 L528.3,290.4 L528.7,290.5 L529.0,290.4 L529.3,290.5 L529.6,290.6 L529.9,290.5 L530.3,290.4 L530.6,290.2 L530.9,290.3 L531.2,290.4 L531.5,290.4 L531.8,290.6 L532.0,290.9 L532.4,291.1 L532.7,291.0 L533.0,291.0 L533.3,290.9 L533.7,291.0 L534.0,290.9 L534.3,291.0 L534.6,290.9 L535.0,290.9 L535.3,291.0 L535.6,291.0 L535.9,291.0 L536.2,290.9 L536.5,290.9 L536.7,291.1 L537.1,290.9 L537.4,291.1 L537.8,291.3 L538.1,291.5 L538.3,291.4 L538.6,291.5 L538.9,291.7 L539.3,291.7 L539.6,291.5 L539.9,291.3 L540.3,291.4 L540.6,291.2 L540.9,291.1 L541.2,291.1 L541.6,291.3 L541.7,291.6 L542.1,291.4 L542.4,291.4 L542.7,291.4 L543.0,291.5 L543.4,291.6 L543.8,291.5 L544.0,291.6 L544.4,291.5 L544.8,291.5 L545.1,291.6 L545.4,291.6 L545.7,291.5 L546.1,291.6 L546.4,291.5 L546.8,291.4 L547.1,291.2 L547.4,291.4 L547.7,291.4 L548.0,291.7 L548.2,291.9 L548.5,291.9 L548.8,292.1 L549.1,292.4 L549.4,292.5 L549.7,292.2 L550.0,292.0 L550.3,292.2 L550.6,292.1 L551.0,291.9 L551.3,291.8 L551.6,291.9 L551.9,291.9 L552.3,291.8 L552.6,291.9 L553.0,291.9 L553.3,291.9 L553.7,292.0 L553.9,292.2 L554.3,292.3 L554.6,292.3 L555.0,292.3 L555.3,292.5 L555.7,292.4 L556.0,292.4 L556.4,292.3 L556.8,292.3 L557.1,292.4 L557.4,292.3 L557.7,292.2 L558.0,292.2 L558.3,292.3 L558.6,292.5 L558.9,292.5 L559.2,292.7 L559.5,292.8 L559.8,292.8 L560.2,292.8 L560.5,292.8 L560.9,292.7 L561.2,292.9 L561.6,292.7 L561.9,292.8 L562.2,292.7 L562.5,292.8 L562.8,292.8 L563.2,292.7 L563.5,292.8 L563.7,292.9 L564.0,292.9 L564.3,292.8 L564.6,293.0 L564.9,293.1 L565.3,293.1 L565.6,293.2 L565.8,293.5 L566.2,293.4 L566.5,293.3 L566.9,293.2 L567.3,293.1 L567.6,293.0 L567.9,292.9 L568.2,293.0 L568.4,293.2 L568.6,293.3 L569.0,293.1 L569.2,293.3 L569.5,293.7 L569.8,293.8 L570.2,293.7 L570.5,293.9 L570.8,294.1 L571.2,294.0 L571.5,293.9 L571.8,294.0 L572.2,293.9 L572.5,293.7 L572.8,293.5 L573.2,293.4 L573.6,293.2 L573.8,293.3 L574.2,293.2 L574.5,293.2 L574.8,293.2 L575.1,293.4 L575.4,293.2 L575.8,293.2 L576.1,293.4 L576.4,293.6 L576.8,293.7 L577.0,293.7 L577.3,294.1 L577.6,294.0 L577.9,294.1 L578.3,294.0 L578.6,293.8 L579.0,294.0 L579.3,294.0 L579.6,294.0 L579.9,294.2 L580.3,294.2 L580.5,294.1 L580.7,294.2 L581.0,294.0 L581.4,293.9 L581.6,293.7 L581.9,293.9 L582.2,293.8 L582.5,294.0 L582.8,293.9 L583.1,294.1 L583.3,294.2 L583.6,294.1 L583.9,294.0 L584.3,294.0 L584.6,294.1 L584.9,294.2 L585.2,294.3 L585.6,294.3 L585.9,294.2 L586.3,294.1 L586.6,294.2 L586.9,293.9 L587.2,294.0 L587.5,294.1 L587.7,294.1 L588.0,294.2 L588.4,294.3 L588.7,294.3 L589.1,294.3 L589.3,294.4 L589.7,294.4 L590.0,294.2 L590.2,294.4 L590.5,294.4 L590.9,294.5 L591.3,294.4 L591.6,294.4 L592.0,294.5 L592.2,294.6 L592.6,294.5 L592.9,294.7 L593.2,294.9 L593.5,294.9 L593.8,295.1 L594.2,295.1 L594.5,295.3 L594.8,295.2 L595.2,295.4 L595.4,295.0 L595.7,294.8 L596.1,294.7 L596.5,294.6 L596.8,294.5 L597.1,294.4 L597.4,294.5 L597.8,294.4 L598.1,294.3 L598.4,294.4 L598.8,294.6 L599.0,294.7 L599.3,294.7 L599.5,295.0 L599.8,295.3 L600.2,295.2 L600.5,295.5 L600.8,295.6 L601.1,295.8 L601.4,295.5 L601.7,295.3 L601.9,295.2 L602.2,295.0 L602.6,294.9 L602.9,294.8 L603.2,295.0 L603.6,295.0 L603.9,294.9 L604.2,294.8 L604.6,294.8 L604.9,294.7 L605.2,294.7 L605.5,294.9 L605.8,295.1 L606.1,295.2 L606.4,295.5 L606.7,295.6 L607.0,295.6 L607.4,295.5 L607.7,295.4 L608.1,295.3 L608.5,295.2 L608.9,295.2 L609.2,295.3 L609.5,295.4 L609.8,295.6 L610.1,295.6 L610.4,295.8 L610.7,295.8 L611.0,295.8 L611.3,295.7 L611.6,295.7 L611.9,295.9 L612.2,295.7 L612.6,295.7 L612.9,295.7 L613.2,295.5 L613.5,295.2 L613.9,295.3 L614.2,295.4 L614.6,295.3 L614.9,295.5 L615.2,295.8 L615.5,295.7 L615.8,295.8 L616.1,295.9 L616.4,295.9 L616.8,296.0 L617.0,295.9 L617.4,296.0 L617.7,295.8 L618.0,295.9 L618.3,295.8 L618.6,295.6 L619.0,295.6 L619.3,295.5 L619.5,295.6 L619.8,295.5 L620.2,295.6 L620.4,295.9 L620.7,295.9 L621.0,296.0 L621.3,296.2 L621.6,296.2 L621.9,296.1 L622.3,296.1 L622.6,296.3 L622.9,296.3 L623.2,296.1 L623.5,296.1 L623.8,296.1 L624.2,295.9 L624.4,295.7 L624.7,295.5 L625.0,295.7 L625.3,295.8 L625.7,295.8 L626.0,295.8 L626.3,295.9 L626.6,296.1 L627.0,296.1 L627.3,296.1 L627.6,296.3 L627.8,296.5 L628.1,296.6 L628.5,296.6 L628.8,296.7 L629.1,296.9 L629.4,297.0 L629.7,297.0 L630.1,297.0 L630.4,296.9 L630.8,296.6 L631.1,296.5 L631.5,296.2 L631.8,296.2 L632.1,296.3 L632.5,296.5 L632.8,296.5 L633.0,296.6 L633.3,296.9 L633.5,297.1 L633.8,297.3 L634.1,297.4 L634.5,297.5 L634.8,297.7 L635.1,297.7 L635.4,297.8 L635.8,297.7 L636.1,297.5 L636.5,297.6 L636.8,297.4 L637.1,297.4 L637.4,297.1 L637.7,297.3 L638.0,297.3 L638.3,297.3 L638.6,297.3 L638.9,297.3 L639.1,297.6 L639.4,297.7 L639.8,297.8 L640.1,297.8 L640.4,298.0 L640.6,297.9 L641.0,297.9 L641.3,297.7 L641.7,297.5 L642.0,297.4 L642.3,297.2 L642.6,297.1 L642.9,296.9 L643.3,297.1 L643.6,297.4 L644.0,297.5 L644.3,297.6 L644.6,297.6 L644.8,297.8 L645.2,297.7 L645.5,297.8 L645.8,298.2 L646.1,298.1 L646.4,298.0 L646.7,297.9 L647.0,297.7 L647.2,297.6 L647.6,297.4 L647.9,297.6 L648.2,297.5 L648.5,297.5 L648.9,297.7 L649.1,297.4 L649.5,297.5 L649.8,297.2 L650.1,297.4 L650.4,297.7 L650.7,297.7 L651.0,298.0 L651.3,297.9 L651.6,297.9 L652.0,297.8 L652.3,297.6 L652.6,297.6 L652.9,297.5 L653.3,297.6 L653.7,297.6 L654.0,297.4 L654.3,297.4 L654.5,297.2 L654.8,297.4 L655.1,297.5 L655.4,297.5 L655.7,297.5 L656.1,297.6 L656.4,297.8 L656.7,297.5 L657.0,297.6 L657.4,297.6 L657.5,297.6" stroke="#0000ff" stroke-width="2.7"/>
<path d="M97.0,76.2 L97.2,76.7 L97.5,77.3 L97.7,77.9 L97.9,78.5 L98.2,79.1 L98.5,79.6 L98.7,80.2 L99.0,80.8 L99.2,81.4 L99.5,81.9 L99.7,82.5 L99.9,83.1 L100.2,83.7 L100.4,84.3 L100.6,84.8 L100.8,85.4 L101.0,86.0 L101.1,86.6 L101.3,87.2 L101.4,87.8 L101.5,88.4 L101.6,89.0 L101.7,89.6 L101.7,90.3 L101.8,90.9 L101.8,91.6 L101.8,92.3 L101.8,93.0 L101.8,93.6 L101.8,94.3 L101.7,95.0 L101.7,95.7 L101.6,96.3 L101.6,97.0 L101.5,97.6 L101.5,98.2 L101.4,98.8 L101.4,99.4 L101.3,100.0 L101.3,100.6 L101.3,101.1 L101.3,101.6 L101.3,102.0 L101.3,102.5 L101.3,102.9 L101.4,103.5 L101.5,104.1 L101.6,104.6 L101.8,105.1 L102.0,105.7 L102.3,106.2 L102.5,106.6 L102.9,107.1 L103.2,107.5 L103.5,108.0 L103.9,108.4 L104.2,108.8 L104.6,109.2 L105.0,109.6 L105.3,109.9 L105.6,110.3 L105.9,110.7 L106.2,111.1 L106.5,111.5 L106.7,111.8 L106.9,112.2 L107.0,112.6 L107.1,113.0 L107.2,113.4 L107.3,113.8 L107.3,114.3 L107.3,114.7 L107.3,115.1 L107.3,115.6 L107.2,116.0 L107.2,116.4 L107.1,116.9 L107.1,117.3 L107.1,117.7 L107.0,118.1 L107.1,118.5 L107.1,119.0 L107.2,119.5 L107.4,120.0 L107.6,120.4 L107.8,120.8 L108.2,121.2 L108.5,121.5 L108.9,121.8 L109.3,122.1 L109.8,122.4 L110.2,122.6 L110.7,122.9 L111.1,123.2 L111.5,123.5 L111.8,123.8 L112.1,124.1 L112.4,124.5 L112.6,124.9 L112.7,125.3 L112.8,125.7 L112.9,126.2 L112.9,126.7 L112.9,127.2 L112.8,127.7 L112.8,128.2 L112.8,128.7 L112.8,129.2 L112.8,129.7 L112.8,130.1 L112.9,130.6 L113.1,131.0 L113.3,131.4 L113.5,131.7 L113.8,132.0 L114.1,132.3 L114.5,132.5 L114.9,132.8 L115.3,133.0 L115.8,133.2 L116.2,133.4 L116.6,133.7 L117.0,133.9 L117.3,134.1 L117.6,134.4 L117.9,134.8 L118.2,135.2 L118.3,135.7 L118.4,136.1 L118.5,136.5 L118.5,136.9 L118.5,137.3 L118.5,137.8 L118.5,138.2 L118.5,138.7 L118.5,139.1 L118.5,139.5 L118.7,140.0 L118.8,140.4 L119.1,140.8 L119.4,141.1 L119.8,141.4 L120.1,141.6 L120.5,141.8 L120.9,142.0 L121.3,142.2 L121.7,142.3 L122.1,142.5 L122.5,142.7 L122.9,142.9 L123.2,143.2 L123.5,143.5 L123.8,143.9 L123.9,144.3 L124.0,144.8 L124.1,145.3 L124.1,145.7 L124.1,146.1 L124.1,146.5 L124.1,146.9 L124.2,147.4 L124.2,147.8 L124.4,148.3 L124.6,148.7 L124.8,149.0 L125.1,149.3 L125.5,149.6 L125.9,149.9 L126.3,150.0 L126.7,150.2 L127.1,150.3 L127.4,150.5 L127.8,150.7 L128.2,150.9 L128.6,151.2 L129.0,151.5 L129.2,151.8 L129.4,152.2 L129.6,152.7 L129.7,153.1 L129.7,153.5 L129.8,153.9 L129.8,154.4 L129.8,154.8 L129.8,155.2 L129.9,155.6 L129.9,156.1 L130.1,156.5 L130.3,156.9 L130.6,157.2 L130.9,157.6 L131.3,157.8 L131.7,158.0 L132.1,158.2 L132.5,158.4 L132.9,158.5 L133.3,158.7 L133.8,159.0 L134.2,159.2 L134.5,159.5 L134.8,159.8 L135.0,160.2 L135.2,160.6 L135.3,161.0 L135.3,161.5 L135.4,162.0 L135.4,162.5 L135.5,163.0 L135.5,163.4 L135.6,163.9 L135.8,164.3 L136.0,164.7 L136.3,165.0 L136.6,165.3 L136.9,165.6 L137.4,165.8 L137.8,166.0 L138.2,166.2 L138.5,166.4 L138.9,166.5 L139.3,166.8 L139.7,167.0 L140.1,167.3 L140.4,167.7 L140.6,168.1 L140.8,168.5 L140.9,169.0 L141.0,169.4 L141.0,169.9 L141.1,170.3 L141.1,170.7 L141.1,171.1 L141.2,171.5 L141.2,171.9 L141.4,172.4 L141.6,172.8 L141.8,173.2 L142.1,173.6 L142.4,173.9 L142.8,174.2 L143.1,174.4 L143.4,174.6 L143.8,174.9 L144.2,175.1 L144.5,175.3 L144.9,175.6 L145.2,175.8 L145.5,176.1 L145.8,176.5 L146.1,176.9 L146.3,177.3 L146.4,177.7 L146.5,178.1 L146.6,178.5 L146.7,179.0 L146.7,179.4 L146.7,179.9 L146.8,180.3 L146.8,180.7 L146.9,181.2 L147.0,181.6 L147.1,182.0 L147.3,182.4 L147.4,182.7 L147.7,183.1 L147.9,183.4 L148.2,183.7 L148.6,184.0 L148.9,184.4 L149.3,184.7 L149.6,185.0 L150.0,185.3 L150.4,185.6 L150.7,186.0 L151.0,186.3 L151.3,186.7 L151.6,187.1 L151.8,187.5 L151.9,188.0 L152.1,188.4 L152.2,188.9 L152.2,189.4 L152.3,189.8 L152.3,190.3 L152.4,190.8 L152.4,191.3 L152.5,191.8 L152.5,192.3 L152.6,192.7 L152.7,193.1 L152.9,193.6 L153.1,193.9 L153.3,194.3 L153.6,194.6 L153.8,194.9 L154.2,195.2 L154.5,195.5 L154.8,195.7 L155.2,196.0 L155.6,196.2 L155.9,196.5 L156.2,196.7 L156.5,197.0 L156.9,197.3 L157.2,197.7 L157.4,198.1 L157.6,198.6 L157.8,199.0 L157.9,199.4 L157.9,199.8 L158.0,200.2 L158.0,200.6 L158.1,201.1 L158.1,201.5 L158.2,201.9 L158.3,202.3 L158.5,202.8 L158.7,203.2 L159.0,203.5 L159.3,203.9 L159.7,204.2 L160.1,204.5 L160.5,204.7 L160.9,204.9 L161.3,205.2 L161.7,205.4 L162.1,205.7 L162.4,206.0 L162.7,206.3 L163.0,206.7 L163.2,207.1 L163.4,207.5 L163.5,207.9 L163.6,208.4 L163.6,208.9 L163.7,209.4 L163.8,209.8 L163.9,210.3 L164.1,210.7 L164.2,211.1 L164.5,211.5 L164.8,211.8 L165.1,212.1 L165.4,212.3 L165.8,212.6 L166.3,212.8 L166.7,213.0 L167.1,213.2 L167.5,213.4 L167.8,213.6 L168.2,213.9 L168.5,214.2 L168.7,214.5 L168.9,214.9 L169.0,215.3 L169.1,215.7 L169.2,216.1 L169.3,216.6 L169.4,217.0 L169.5,217.5 L169.6,217.9 L169.8,218.3 L170.0,218.6 L170.3,219.0 L170.6,219.2 L171.0,219.5 L171.3,219.7 L171.7,219.9 L172.2,220.0 L172.6,220.2 L173.0,220.4 L173.3,220.6 L173.7,220.8 L174.0,221.1 L174.3,221.4 L174.5,221.9 L174.7,222.2 L174.8,222.6 L174.9,223.0 L175.0,223.5 L175.1,223.9 L175.2,224.3 L175.4,224.7 L175.6,225.1 L175.8,225.5 L176.2,225.8 L176.6,226.0 L176.9,226.2 L177.3,226.3 L177.7,226.5 L178.1,226.6 L178.5,226.8 L178.9,226.9 L179.3,227.2 L179.6,227.4 L179.9,227.8 L180.2,228.2 L180.3,228.6 L180.5,229.0 L180.6,229.4 L180.7,229.8 L180.8,230.2 L180.9,230.5 L181.1,231.0 L181.3,231.3 L181.6,231.7 L182.0,231.9 L182.4,232.1 L182.8,232.3 L183.2,232.4 L183.6,232.5 L184.0,232.6 L184.4,232.8 L184.8,233.0 L185.2,233.2 L185.5,233.5 L185.7,233.9 L185.9,234.3 L186.1,234.7 L186.2,235.2 L186.4,235.6 L186.5,236.1 L186.7,236.5 L186.9,236.8 L187.2,237.1 L187.5,237.4 L187.9,237.6 L188.3,237.7 L188.8,237.9 L189.3,238.0 L189.7,238.1 L190.1,238.2 L190.5,238.4 L190.9,238.6 L191.2,238.9 L191.4,239.2 L191.6,239.6 L191.8,240.0 L191.9,240.5 L192.1,240.9 L192.2,241.3 L192.4,241.7 L192.7,242.0 L193.0,242.3 L193.3,242.6 L193.7,242.7 L194.2,242.8 L194.6,242.9 L195.1,243.0 L195.5,243.1 L195.9,243.2 L196.3,243.4 L196.6,243.6 L196.9,244.0 L197.2,244.3 L197.3,244.7 L197.5,245.1 L197.7,245.5 L197.8,245.9 L198.0,246.3 L198.2,246.6 L198.6,247.0 L199.0,247.2 L199.3,247.3 L199.7,247.4 L200.2,247.5 L200.6,247.6 L201.1,247.6 L201.5,247.7 L201.9,247.9 L202.3,248.1 L202.6,248.4 L202.8,248.8 L203.0,249.2 L203.2,249.6 L203.3,250.0 L203.5,250.4 L203.7,250.8 L204.0,251.1 L204.3,251.4 L204.8,251.6 L205.1,251.7 L205.6,251.8 L206.0,251.8 L206.4,251.8 L206.8,251.9 L207.2,252.0 L207.6,252.1 L208.0,252.4 L208.3,252.7 L208.5,253.1 L208.7,253.5 L208.9,253.9 L209.1,254.3 L209.3,254.6 L209.5,255.0 L209.8,255.3 L210.2,255.5 L210.6,255.7 L211.0,255.8 L211.4,255.8 L211.8,255.8 L212.3,255.8 L212.7,255.9 L213.1,256.0 L213.5,256.2 L213.8,256.5 L214.1,256.9 L214.3,257.2 L214.4,257.6 L214.6,258.0 L214.8,258.3 L215.1,258.7 L215.3,259.1 L215.7,259.3 L216.1,259.5 L216.5,259.6 L216.9,259.6 L217.4,259.6 L217.8,259.6 L218.2,259.7 L218.6,259.8 L219.0,259.9 L219.3,260.2 L219.6,260.5 L219.9,260.9 L220.1,261.2 L220.2,261.6 L220.4,262.0 L220.7,262.3 L221.0,262.7 L221.3,262.9 L221.7,263.1 L222.1,263.1 L222.6,263.2 L223.0,263.2 L223.4,263.2 L223.9,263.2 L224.3,263.3 L224.7,263.4 L225.0,263.7 L225.3,264.0 L225.6,264.4 L225.7,264.7 L225.9,265.1 L226.1,265.4 L226.4,265.8 L226.7,266.1 L227.0,266.3 L227.4,266.5 L227.8,266.5 L228.3,266.5 L228.7,266.5 L229.1,266.5 L229.6,266.5 L230.0,266.6 L230.4,266.8 L230.7,267.0 L231.0,267.4 L231.2,267.7 L231.4,268.1 L231.6,268.5 L231.9,268.9 L232.1,269.2 L232.4,269.5 L232.8,269.7 L233.2,269.8 L233.6,269.8 L234.0,269.8 L234.4,269.8 L234.8,269.8 L235.3,269.9 L235.7,270.0 L236.1,270.1 L236.4,270.4 L236.7,270.7 L236.9,271.1 L237.1,271.5 L237.3,271.8 L237.5,272.2 L237.8,272.6 L238.1,272.8 L238.5,273.0 L238.9,273.1 L239.4,273.1 L239.8,273.1 L240.2,273.1 L240.7,273.1 L241.1,273.1 L241.5,273.2 L241.9,273.4 L242.2,273.7 L242.4,274.1 L242.7,274.4 L242.9,274.8 L243.2,275.2 L243.5,275.5 L243.8,275.8 L244.2,276.0 L244.7,276.0 L245.1,276.0 L245.5,275.9 L246.0,275.8 L246.4,275.8 L246.8,275.8 L247.3,275.9 L247.6,276.2 L247.9,276.5 L248.2,276.8 L248.4,277.2 L248.7,277.5 L249.0,277.9 L249.3,278.2 L249.7,278.4 L250.1,278.5 L250.5,278.5 L250.9,278.4 L251.4,278.3 L251.8,278.3 L252.2,278.2 L252.7,278.3 L253.1,278.5 L253.5,278.8 L253.7,279.1 L254.0,279.4 L254.2,279.8 L254.5,280.2 L254.8,280.5 L255.1,280.8 L255.5,280.9 L256.0,281.0 L256.4,280.9 L256.8,280.9 L257.3,280.8 L257.7,280.8 L258.1,280.8 L258.6,281.0 L258.9,281.2 L259.2,281.5 L259.5,281.9 L259.7,282.2 L260.0,282.6 L260.3,283.0 L260.5,283.3 L260.9,283.5 L261.4,283.6 L261.8,283.6 L262.2,283.6 L262.7,283.5 L263.1,283.5 L263.6,283.5 L264.0,283.5 L264.4,283.7 L264.7,284.0 L265.0,284.3 L265.2,284.7 L265.5,285.1 L265.8,285.4 L266.0,285.7 L266.4,286.0 L266.8,286.2 L267.2,286.2 L267.6,286.2 L268.1,286.1 L268.5,286.1 L269.0,286.0 L269.4,286.0 L269.8,286.2 L270.2,286.4 L270.5,286.6 L270.8,287.0 L271.0,287.4 L271.3,287.7 L271.5,288.1 L271.8,288.4 L272.2,288.6 L272.6,288.7 L273.0,288.7 L273.5,288.7 L273.9,288.7 L274.4,288.6 L274.8,288.6 L275.2,288.6 L275.6,288.8 L276.0,289.0 L276.3,289.3 L276.5,289.7 L276.8,290.1 L277.0,290.4 L277.3,290.7 L277.7,291.0 L278.1,291.2 L278.5,291.3 L278.9,291.2 L279.4,291.2 L279.8,291.1 L280.3,291.1 L280.7,291.1 L281.1,291.2 L281.5,291.4 L281.8,291.6 L282.0,292.0 L282.3,292.3 L282.6,292.7 L282.8,293.0 L283.1,293.3 L283.5,293.5 L283.9,293.6 L284.3,293.6 L284.8,293.6 L285.2,293.5 L285.6,293.4 L286.1,293.3 L286.5,293.4 L286.9,293.5 L287.3,293.7 L287.6,294.0 L287.8,294.4 L288.1,294.7 L288.4,295.1 L288.7,295.3 L289.0,295.6 L289.5,295.7 L289.9,295.7 L290.3,295.6 L290.7,295.5 L291.2,295.4 L291.6,295.3 L292.0,295.3 L292.4,295.4 L292.8,295.6 L293.2,295.9 L293.4,296.2 L293.7,296.5 L294.0,296.8 L294.3,297.1 L294.7,297.3 L295.1,297.4 L295.5,297.4 L295.9,297.4 L296.3,297.2 L296.7,297.1 L297.2,297.0 L297.6,296.9 L298.0,297.0 L298.4,297.1 L298.8,297.4 L299.0,297.7 L299.3,298.0 L299.6,298.3 L299.9,298.6 L300.3,298.8 L300.7,299.0 L301.1,298.9 L301.5,298.9 L301.9,298.7 L302.3,298.6 L302.7,298.5 L303.2,298.4 L303.6,298.4 L304.0,298.5 L304.3,298.8 L304.7,299.1 L304.9,299.4 L305.2,299.7 L305.5,300.0 L305.9,300.2 L306.3,300.3 L306.7,300.3 L307.2,300.2 L307.6,300.1 L308.0,299.9 L308.4,299.8 L308.8,299.7 L309.2,299.7 L309.6,299.8 L310.0,300.1 L310.3,300.4 L310.6,300.7 L310.9,301.0 L311.2,301.3 L311.6,301.5 L312.0,301.6 L312.4,301.6 L312.8,301.5 L313.2,301.4 L313.6,301.2 L314.0,301.1 L314.5,301.0 L314.9,301.0 L315.3,301.1 L315.6,301.4 L315.9,301.7 L316.2,302.0 L316.5,302.3 L316.8,302.5 L317.2,302.8 L317.6,302.9 L318.0,302.9 L318.5,302.8 L318.9,302.7 L319.3,302.5 L319.7,302.4 L320.1,302.3 L320.5,302.3 L320.9,302.5 L321.3,302.7 L321.6,303.0 L321.9,303.3 L322.2,303.6 L322.5,303.9 L322.9,304.1 L323.3,304.2 L323.7,304.2 L324.1,304.1 L324.5,304.0 L324.9,303.8 L325.3,303.7 L325.8,303.6 L326.2,303.6 L326.6,303.7 L326.9,303.9 L327.2,304.2 L327.5,304.5 L327.9,304.8 L328.2,305.1 L328.6,305.3 L328.9,305.4 L329.4,305.3 L329.8,305.2 L330.2,305.0 L330.6,304.8 L331.0,304.7 L331.4,304.5 L331.8,304.5 L332.2,304.6 L332.6,304.8 L332.9,305.1 L333.2,305.4 L333.5,305.6 L333.8,305.9 L334.2,306.1 L334.6,306.1 L335.0,306.1 L335.5,305.9 L335.8,305.7 L336.2,305.5 L336.6,305.4 L337.0,305.2 L337.4,305.2 L337.8,305.3 L338.2,305.5 L338.5,305.7 L338.8,306.0 L339.2,306.2 L339.5,306.5 L339.9,306.7 L340.3,306.7 L340.7,306.7 L341.1,306.5 L341.5,306.3 L341.9,306.1 L342.2,305.9 L342.7,305.8 L343.1,305.7 L343.5,305.8 L343.8,306.0 L344.2,306.2 L344.5,306.5 L344.8,306.8 L345.2,307.0 L345.5,307.2 L345.9,307.3 L346.3,307.2 L346.8,307.0 L347.1,306.9 L347.5,306.7 L347.9,306.5 L348.3,306.3 L348.7,306.3 L349.1,306.4 L349.5,306.6 L349.8,306.8 L350.1,307.1 L350.5,307.4 L350.8,307.6 L351.2,307.8 L351.6,307.9 L352.0,307.8 L352.4,307.7 L352.8,307.5 L353.2,307.3 L353.5,307.1 L354.0,307.0 L354.4,307.0 L354.8,307.1 L355.2,307.3 L355.5,307.5 L355.8,307.8 L356.1,308.1 L356.4,308.3 L356.8,308.5 L357.2,308.6 L357.6,308.5 L358.1,308.4 L358.4,308.2 L358.8,308.0 L359.2,307.9 L359.6,307.7 L360.0,307.7 L360.4,307.8 L360.8,308.0 L361.1,308.3 L361.4,308.6 L361.8,308.9 L362.1,309.1 L362.5,309.3 L362.9,309.4 L363.3,309.4 L363.7,309.2 L364.1,309.1 L364.5,308.9 L364.9,308.7 L365.3,308.6 L365.7,308.6 L366.1,308.7 L366.5,309.0 L366.8,309.2 L367.1,309.5 L367.4,309.8 L367.7,310.1 L368.1,310.3 L368.5,310.4 L368.9,310.4 L369.3,310.3 L369.7,310.2 L370.1,310.0 L370.5,309.9 L371.0,309.8 L371.4,309.8 L371.8,310.0 L372.2,310.2 L372.5,310.5 L372.7,310.8 L373.0,311.2 L373.3,311.4 L373.7,311.7 L374.1,311.8 L374.5,311.8 L375.0,311.8 L375.4,311.6 L375.8,311.5 L376.2,311.4 L376.4,311.4 L376.9,312.1 L376.9,311.3 L377.1,310.6 L377.1,309.8 L377.3,309.1 L377.5,308.4 L377.7,307.7 L377.8,307.0 L378.0,306.3 L378.1,305.6 L378.2,304.9 L378.4,304.2 L378.5,303.5 L378.6,302.8 L378.7,302.2 L378.8,301.5 L378.9,300.9 L378.9,300.3 L378.9,299.6 L379.1,299.0 L379.1,298.4 L379.3,297.8 L379.3,297.2 L379.3,296.7 L379.3,296.1 L379.4,295.6 L379.5,295.0 L379.6,294.5 L379.6,294.0 L379.8,293.5 L379.9,293.0 L380.0,292.6 L380.2,292.1 L380.4,291.7 L380.4,291.2 L380.4,290.7 L380.5,290.3 L380.6,289.9 L380.7,289.4 L380.8,289.0 L380.9,288.6 L380.9,288.2 L381.0,287.8 L381.0,287.3 L381.1,286.9 L381.3,286.6 L381.5,286.2 L381.5,285.8 L381.6,285.4 L381.8,284.9 L381.8,284.5 L381.9,283.9 L382.0,283.6 L382.1,283.0 L382.3,282.5 L382.4,281.9 L382.5,281.4 L382.8,280.9 L382.9,280.3 L382.9,279.9 L382.9,279.3 L383.0,278.9 L383.1,278.4 L383.2,278.0 L383.3,277.6 L383.5,277.2 L383.6,276.7 L383.7,276.1 L383.9,275.5 L384.1,275.0 L384.3,274.5 L384.6,274.1 L384.8,273.6 L385.0,273.2 L385.2,272.8 L385.5,272.6 L385.7,272.2 L386.0,271.9 L386.3,271.6 L386.5,271.2 L386.6,270.8 L386.8,270.4 L387.0,270.1 L387.1,269.7 L387.2,269.3 L387.5,269.0 L387.8,268.7 L388.0,268.5 L388.3,268.3 L388.6,268.0 L388.9,267.7 L389.2,267.6 L389.5,267.4 L389.9,267.2 L390.1,267.0 L390.4,266.8 L390.7,266.5 L391.1,266.4 L391.4,266.2 L391.8,266.2 L392.2,266.3 L392.5,266.2 L392.8,266.1 L393.0,265.8 L393.4,265.9 L393.5,265.5 L393.7,265.2 L394.0,264.9 L394.3,264.8 L394.6,264.8 L394.9,264.6 L395.2,264.5 L395.5,264.3 L395.9,264.3 L396.2,264.3 L396.6,264.2 L397.0,264.2 L397.2,264.2 L397.5,264.2 L397.9,264.2 L398.2,264.0 L398.6,264.2 L398.8,263.9 L399.1,263.7 L399.4,263.5 L399.8,263.4 L400.0,263.4 L400.3,263.2 L400.7,263.2 L401.1,263.4 L401.4,263.4 L401.8,263.4 L402.1,263.6 L402.4,263.9 L402.8,264.0 L403.1,263.8 L403.4,263.8 L403.7,263.5 L403.9,263.2 L404.2,262.9 L404.5,262.7 L404.9,262.6 L405.2,262.5 L405.5,262.7 L405.8,262.7 L406.1,263.0 L406.4,263.0 L406.7,263.2 L407.0,263.3 L407.4,263.5 L407.7,263.5 L408.0,263.6 L408.3,263.4 L408.6,263.4 L408.8,263.3 L409.2,263.2 L409.6,263.2 L409.8,262.9 L410.1,263.1 L410.4,262.9 L410.7,263.1 L411.0,263.1 L411.4,263.0 L411.6,263.1 L412.0,263.1 L412.3,263.1 L412.7,263.3 L412.9,263.5 L413.2,263.8 L413.5,263.9 L413.7,263.9 L414.0,264.1 L414.3,264.0 L414.6,263.9 L414.9,263.8 L415.2,263.7 L415.5,263.8 L415.8,263.8 L416.1,263.5 L416.4,263.6 L416.7,263.7 L417.0,263.8 L417.3,263.7 L417.6,263.9 L417.9,264.1 L418.2,264.1 L418.6,264.2 L418.8,264.0 L419.2,264.0 L419.5,264.1 L419.8,264.1 L420.1,264.0 L420.4,263.8 L420.6,264.0 L420.9,264.0 L421.2,263.9 L421.6,263.9 L421.9,263.9 L422.2,263.9 L422.5,263.9 L422.9,263.9 L423.2,263.9 L423.5,263.9 L423.8,263.6 L424.2,263.6 L424.5,263.5 L424.8,263.7 L425.0,263.9 L425.3,264.0 L425.5,264.2 L425.8,264.4 L426.2,264.5 L426.5,264.4 L426.9,264.4 L427.2,264.2 L427.6,264.1 L427.8,263.8 L428.2,263.9 L428.5,263.7 L428.8,263.9 L429.1,263.9 L429.4,264.2 L429.7,264.3 L430.0,264.4 L430.3,264.5 L430.6,264.3 L431.0,264.5 L431.3,264.3 L431.7,264.4 L432.0,264.2 L432.3,264.1 L432.6,264.0 L432.9,264.0 L433.2,264.1 L433.6,264.1 L433.9,264.1 L434.2,264.2 L434.5,264.2 L434.7,264.5 L435.0,264.7 L435.3,264.6 L435.7,264.7 L436.0,264.8 L436.3,264.7 L436.5,264.5 L436.9,264.6 L437.2,264.7 L437.6,264.6 L437.9,264.5 L438.2,264.6 L438.5,264.6 L438.7,264.4 L439.1,264.5 L439.4,264.6 L439.8,264.8 L440.0,265.0 L440.3,265.3 L440.6,265.1 L441.0,265.0 L441.2,265.1 L441.6,265.1 L441.9,265.2 L442.2,265.4 L442.5,265.4 L442.8,265.6 L443.1,265.7 L443.5,265.7 L443.8,265.5 L444.2,265.7 L444.5,265.8 L444.8,265.6 L445.1,265.6 L445.4,265.4 L445.7,265.6 L446.1,265.7 L446.4,265.9 L446.6,266.1 L446.9,266.4 L447.3,266.5 L447.7,266.3 L447.9,266.5 L448.2,266.7 L448.6,266.5 L448.9,266.6 L449.3,266.6 L449.7,266.7 L450.0,266.6 L450.4,266.6 L450.7,266.5 L451.0,266.7 L451.4,266.7 L451.7,266.5 L452.0,266.7 L452.3,266.8 L452.6,266.9 L453.0,267.1 L453.3,267.1 L453.5,267.3 L453.8,267.5 L454.1,267.5 L454.5,267.5 L454.8,267.6 L455.1,267.7 L455.4,267.5 L455.7,267.4 L456.1,267.4 L456.3,267.3 L456.7,267.4 L457.0,267.3 L457.3,267.5 L457.7,267.5 L457.9,267.7 L458.3,267.7 L458.7,267.7 L458.9,267.9 L459.2,267.8 L459.6,267.8 L459.9,267.8 L460.3,267.6 L460.6,267.5 L460.9,267.3 L461.3,267.2 L461.6,267.4 L461.9,267.3 L462.2,267.7 L462.5,267.7 L462.8,267.8 L463.2,268.0 L463.5,268.2 L463.8,268.2 L464.1,268.3 L464.4,268.4 L464.8,268.2 L465.1,268.2 L465.4,268.2 L465.8,268.2 L466.2,268.3 L466.5,268.3 L466.8,268.3 L467.2,268.2 L467.6,268.2 L467.9,268.4 L468.2,268.4 L468.5,268.7 L468.8,268.9 L469.2,269.1 L469.6,269.2 L470.0,269.2 L470.3,269.1 L470.6,269.2 L471.0,269.3 L471.3,269.3 L471.7,269.4 L472.0,269.2 L472.4,269.3 L472.7,269.1 L473.0,269.0 L473.4,268.9 L473.7,269.2 L474.0,269.4 L474.4,269.5 L474.7,269.7 L475.0,269.6 L475.3,269.8 L475.7,269.7 L476.0,269.8 L476.3,269.9 L476.7,269.9 L476.9,269.9 L477.3,270.0 L477.6,270.1 L477.9,270.1 L478.2,270.4 L478.6,270.3 L478.9,270.6 L479.2,270.7 L479.5,270.5 L479.8,270.6 L480.1,270.7 L480.4,270.8 L480.8,270.8 L481.1,270.9 L481.5,271.1 L481.8,271.1 L482.2,271.1 L482.5,270.9 L482.8,271.0 L483.1,271.2 L483.4,271.3 L483.8,271.4 L484.1,271.6 L484.4,271.5 L484.8,271.6 L485.1,271.4 L485.4,271.4 L485.7,271.5 L486.0,271.6 L486.3,271.7 L486.6,271.6 L487.0,271.8 L487.3,271.8 L487.7,271.6 L487.9,272.0 L488.2,272.0 L488.5,272.1 L488.7,272.2 L489.1,272.2 L489.2,272.5 L489.5,272.5 L489.9,272.3 L490.1,272.7 L490.4,272.6 L490.7,272.7 L491.0,272.5 L491.3,272.7 L491.7,272.7 L492.0,272.6 L492.3,272.9 L492.6,273.0 L492.9,273.3 L493.3,273.3 L493.6,273.2 L493.9,273.1 L494.3,273.1 L494.6,273.0 L495.0,272.9 L495.3,273.1 L495.6,273.1 L495.9,273.2 L496.1,273.4 L496.4,273.5 L496.8,273.8 L497.2,273.8 L497.5,273.9 L497.8,274.1 L498.1,273.9 L498.4,273.8 L498.8,273.6 L499.1,273.9 L499.4,273.8 L499.8,273.8 L500.1,274.0 L500.4,274.2 L500.7,274.2 L501.1,274.1 L501.4,274.2 L501.7,274.0 L502.1,274.1 L502.4,274.1 L502.6,274.3 L502.9,274.4 L503.2,274.5 L503.5,274.6 L503.9,274.6 L504.2,274.4 L504.6,274.4 L505.0,274.3 L505.3,274.3 L505.7,274.5 L506.1,274.5 L506.4,274.4 L506.7,274.4 L507.0,274.5 L507.3,274.3 L507.7,274.2 L508.0,274.4 L508.3,274.5 L508.6,274.7 L509.0,274.9 L509.2,275.1 L509.6,275.3 L509.9,275.4 L510.1,275.5 L510.5,275.5 L510.9,275.5 L511.2,275.6 L511.5,275.5 L511.9,275.4 L512.2,275.3 L512.6,275.3 L512.9,275.3 L513.1,275.0 L513.5,274.9 L513.8,275.0 L514.0,275.1 L514.3,275.2 L514.7,275.4 L514.9,275.6 L515.2,275.9 L515.5,276.0 L515.8,276.1 L516.1,276.0 L516.5,276.1 L516.7,276.1 L517.1,275.9 L517.5,275.8 L517.8,275.7 L518.1,275.7 L518.4,275.6 L518.7,275.5 L519.0,275.8 L519.4,276.0 L519.6,276.1 L519.8,276.4 L520.1,276.4 L520.4,276.5 L520.8,276.5 L521.1,276.4 L521.4,276.4 L521.7,276.5 L522.1,276.4 L522.5,276.3 L522.8,276.2 L523.1,276.3 L523.4,276.4 L523.8,276.2 L524.1,276.4 L524.4,276.6 L524.7,276.6 L525.1,276.5 L525.5,276.6 L525.8,276.8 L526.1,276.6 L526.4,276.7 L526.8,276.8 L527.2,276.8 L527.5,276.6 L527.9,276.7 L528.2,276.8 L528.5,276.9 L528.8,276.9 L529.1,277.2 L529.4,277.4 L529.7,277.4 L530.0,277.2 L530.4,277.1 L530.7,277.1 L531.0,276.9 L531.3,277.0 L531.6,277.1 L531.9,277.2 L532.1,277.6 L532.4,277.7 L532.7,277.9 L533.0,277.9 L533.3,277.8 L533.6,277.9 L533.8,277.7 L534.1,277.8 L534.4,277.7 L534.8,277.8 L535.2,277.9 L535.5,277.8 L535.8,277.9 L536.1,277.6 L536.5,277.7 L536.8,277.8 L537.1,277.7 L537.4,277.7 L537.8,277.9 L538.0,278.0 L538.3,278.1 L538.7,278.0 L539.0,277.8 L539.2,277.8 L539.6,277.7 L539.8,277.8 L540.2,277.8 L540.5,277.9 L540.8,278.2 L541.1,278.2 L541.4,278.3 L541.7,278.3 L541.9,278.3 L542.1,278.5 L542.5,278.3 L542.9,278.4 L543.2,278.5 L543.5,278.4 L543.8,278.5 L544.1,278.5 L544.4,278.5 L544.7,278.5 L545.1,278.6 L545.4,278.8 L545.7,278.6 L546.0,278.7 L546.4,278.8 L546.7,278.7 L547.0,278.8 L547.2,279.1 L547.6,279.0 L547.9,278.9 L548.3,279.1 L548.6,279.2 L549.0,279.1 L549.3,279.1 L549.7,279.3 L549.9,279.5 L550.3,279.5 L550.7,279.6 L551.0,279.8 L551.3,279.8 L551.6,279.7 L552.0,279.8 L552.3,279.5 L552.7,279.7 L553.0,279.6 L553.3,279.6 L553.6,279.7 L553.9,279.7 L554.3,279.9 L554.7,279.9 L554.9,280.0 L555.3,279.9 L555.6,280.1 L556.0,280.3 L556.4,280.0 L556.7,280.0 L557.0,280.1 L557.3,280.0 L557.7,280.0 L558.0,279.9 L558.3,280.2 L558.6,280.1 L558.9,280.4 L559.2,280.6 L559.5,280.6 L559.8,280.9 L560.1,280.9 L560.5,280.9 L560.8,280.8 L561.1,280.7 L561.4,280.6 L561.8,280.8 L562.1,280.9 L562.4,281.1 L562.7,281.1 L563.0,281.1 L563.3,281.2 L563.7,281.0 L564.0,280.9 L564.3,280.8 L564.7,281.0 L565.1,281.1 L565.4,281.1 L565.7,281.3 L566.0,281.0 L566.4,281.0 L566.7,281.1 L567.0,281.0 L567.3,281.0 L567.6,281.3 L567.8,281.4 L568.2,281.5 L568.6,281.4 L568.9,281.5 L569.2,281.4 L569.6,281.4 L570.0,281.6 L570.3,281.7 L570.6,281.8 L570.9,281.9 L571.2,282.1 L571.5,282.3 L571.8,282.1 L572.2,282.0 L572.5,282.1 L572.9,282.2 L573.3,282.1 L573.6,282.2 L573.9,282.2 L574.2,282.1 L574.5,282.3 L574.8,282.1 L575.1,282.1 L575.5,281.9 L575.8,282.2 L576.1,282.1 L576.4,282.2 L576.7,282.6 L576.9,282.5 L577.3,282.6 L577.6,282.4 L577.8,282.7 L578.1,282.8 L578.3,282.6 L578.6,282.4 L579.0,282.2 L579.3,282.2 L579.6,282.0 L579.8,281.8 L580.2,281.7 L580.5,282.0 L580.8,282.0 L581.1,282.3 L581.3,282.3 L581.6,282.4 L581.9,282.8 L582.2,282.8 L582.5,282.9 L582.8,282.9 L583.2,283.0 L583.4,283.0 L583.7,283.0 L584.0,282.8 L584.3,282.8 L584.7,282.8 L585.0,282.8 L585.3,282.7 L585.7,282.7 L586.0,282.5 L586.4,282.4 L586.7,282.6 L587.1,282.6 L587.4,282.5 L587.7,282.8 L587.9,283.1 L588.2,283.2 L588.5,283.1 L588.9,283.0 L589.2,283.2 L589.6,283.0 L589.8,283.0 L590.1,283.1 L590.5,283.0 L590.8,282.8 L591.1,283.0 L591.5,283.0 L591.8,283.1 L592.1,283.1 L592.5,283.2 L592.8,283.2 L593.2,283.2 L593.5,283.3 L593.8,283.6 L594.2,283.7 L594.5,283.4 L594.7,283.5 L595.1,283.5 L595.4,283.3 L595.7,283.0 L596.1,283.1 L596.4,283.4 L596.8,283.4 L597.1,283.6 L597.4,283.8 L597.7,283.7 L598.1,283.5 L598.4,283.4 L598.8,283.4 L599.1,283.2 L599.4,283.2 L599.7,283.3 L600.0,283.5 L600.3,283.6 L600.6,283.7 L601.0,283.7 L601.3,283.8 L601.7,283.8 L601.9,283.5 L602.3,283.5 L602.6,283.5 L602.9,283.5 L603.3,283.5 L603.6,283.5 L603.9,283.6 L604.2,283.6 L604.5,283.7 L604.8,283.5 L605.1,283.6 L605.3,283.7 L605.7,283.7 L606.0,283.8 L606.4,284.0 L606.7,283.9 L607.1,284.0 L607.4,284.0 L607.8,284.1 L608.0,284.0 L608.3,283.8 L608.6,283.9 L609.0,283.7 L609.3,283.7 L609.7,283.8 L609.9,283.6 L610.3,283.5 L610.6,283.4 L610.9,283.4 L611.2,283.4 L611.5,283.5 L611.8,283.6 L612.1,283.8 L612.3,284.0 L612.7,284.0 L612.9,284.1 L613.3,284.0 L613.6,284.0 L613.9,284.1 L614.2,284.1 L614.5,284.0 L614.8,284.0 L615.1,284.0 L615.4,284.1 L615.7,284.1 L616.0,284.1 L616.4,284.3 L616.6,284.3 L616.9,284.3 L617.3,284.2 L617.5,284.2 L617.9,284.1 L618.2,284.0 L618.5,284.1 L618.9,284.0 L619.2,284.0 L619.5,284.1 L619.9,284.3 L620.3,284.2 L620.7,284.4 L621.0,284.5 L621.3,284.5 L621.6,284.8 L621.9,285.0 L622.2,285.0 L622.4,285.3 L622.8,285.3 L623.1,285.5 L623.4,285.5 L623.7,285.2 L624.0,285.1 L624.3,285.0 L624.6,285.2 L624.9,284.9 L625.3,284.9 L625.6,285.2 L625.9,285.2 L626.2,285.1 L626.5,285.0 L626.8,285.2 L627.2,285.2 L627.5,285.4 L627.8,285.5 L628.1,285.7 L628.4,285.9 L628.7,286.2 L629.0,286.1 L629.3,286.1 L629.6,286.1 L629.9,286.1 L630.3,286.1 L630.6,286.2 L630.9,286.2 L631.3,286.3 L631.6,286.4 L632.0,286.2 L632.3,286.5 L632.6,286.6 L632.9,286.7 L633.1,286.9 L633.5,286.9 L633.7,287.1 L634.0,287.2 L634.3,287.3 L634.6,287.4 L634.8,287.5 L635.2,287.5 L635.5,287.5 L635.8,287.4 L636.2,287.3 L636.5,287.1 L636.8,287.3 L637.2,287.2 L637.5,287.2 L637.8,287.4 L638.0,287.5 L638.4,287.7 L638.7,287.8 L639.0,287.8 L639.3,287.9 L639.6,288.0 L639.9,287.8 L640.2,287.8 L640.6,287.8 L641.0,287.6 L641.3,287.6 L641.6,287.5 L642.0,287.5 L642.3,287.5 L642.7,287.6 L643.0,287.5 L643.3,287.8 L643.7,288.0 L644.0,288.1 L644.3,288.2 L644.6,288.3 L644.8,288.2 L645.1,288.1 L645.4,288.2 L645.8,288.2 L646.1,288.3 L646.5,288.2 L646.7,288.3 L647.0,288.4 L647.4,288.4 L647.8,288.4 L648.0,288.5 L648.4,288.4 L648.8,288.3 L649.0,288.5 L649.4,288.4 L649.7,288.6 L650.0,288.7 L650.4,288.7 L650.6,288.7 L650.9,288.7 L651.3,288.8 L651.6,288.8 L651.9,288.9 L652.2,288.8 L652.6,288.6 L652.9,288.7 L653.2,288.6 L653.6,288.6 L653.9,288.5 L654.2,288.7 L654.6,288.8 L654.8,288.8 L655.2,288.8 L655.5,288.9 L655.8,289.0 L656.1,289.1 L656.4,289.1 L656.8,288.9 L657.1,289.0 L657.5,289.0" stroke="#ff00ff" stroke-width="2.7"/>
<path d="M98.5,76.7 L98.9,76.5 L99.3,76.4 L99.7,76.2 L100.1,76.1 L100.5,76.1 L100.9,76.1 L101.3,76.2 L101.7,76.3 L102.1,76.4 L102.5,76.4 L102.9,76.5 L103.3,76.4 L103.7,76.3 L104.1,76.1 L104.5,76.0 L104.9,75.8 L105.3,75.6 L105.7,75.5 L106.1,75.4 L106.5,75.4 L106.9,75.5 L107.3,75.6 L107.7,75.7 L108.1,75.8 L108.5,75.8 L108.9,75.8 L109.3,75.7 L109.7,75.5 L110.1,75.4 L110.5,75.2 L110.9,75.0 L111.3,74.8 L111.7,74.8 L112.1,74.8 L112.5,74.8 L112.9,74.9 L113.3,75.0 L113.7,75.1 L114.2,75.1 L114.6,75.0 L115.0,74.9 L115.3,74.7 L115.7,74.5 L116.1,74.3 L116.4,74.0 L116.8,73.8 L117.2,73.7 L117.6,73.6 L118.0,73.6 L118.5,73.6 L118.9,73.6 L119.4,73.6 L119.8,73.6 L120.2,73.5 L120.6,73.3 L121.0,73.1 L121.3,72.8 L121.7,72.6 L122.0,72.3 L122.4,72.1 L122.8,72.0 L123.2,71.9 L123.6,71.9 L124.1,71.9 L124.5,72.0 L124.9,72.0 L125.4,72.0 L125.8,72.0 L126.2,71.9 L126.5,71.7 L126.9,71.5 L127.3,71.2 L127.7,71.0 L128.0,70.8 L128.4,70.7 L128.8,70.6 L129.3,70.7 L129.7,70.7 L130.1,70.8 L130.5,70.9 L130.9,70.9 L131.3,70.9 L131.7,70.8 L132.1,70.7 L132.5,70.5 L132.9,70.3 L133.3,70.1 L133.7,70.0 L134.1,70.0 L134.5,70.0 L134.9,70.1 L135.2,70.0 L135.5,70.3 L135.8,70.6 L136.1,71.0 L136.4,71.3 L136.8,71.5 L137.2,71.5 L137.6,71.5 L138.1,71.4 L138.5,71.3 L138.9,71.2 L139.3,71.1 L139.7,71.1 L140.2,71.2 L140.5,71.5 L140.8,71.8 L141.1,72.2 L141.2,72.6 L141.4,72.9 L141.7,73.3 L141.9,73.7 L142.3,74.0 L142.7,74.1 L143.1,74.2 L143.5,74.2 L144.0,74.2 L144.4,74.2 L144.8,74.3 L145.3,74.3 L145.7,74.5 L146.1,74.8 L146.3,75.1 L146.6,75.5 L146.7,75.9 L146.9,76.3 L147.0,76.7 L147.2,77.1 L147.4,77.5 L147.6,77.8 L147.9,78.1 L148.3,78.4 L148.7,78.5 L149.2,78.5 L149.6,78.6 L150.1,78.6 L150.5,78.7 L150.9,78.7 L151.3,78.9 L151.7,79.1 L152.0,79.5 L152.2,79.8 L152.4,80.2 L152.5,80.7 L152.7,81.1 L152.8,81.5 L153.0,81.9 L153.3,82.2 L153.6,82.5 L154.1,82.7 L154.5,82.8 L154.9,82.9 L155.3,82.9 L155.8,83.0 L156.2,83.1 L156.6,83.2 L157.0,83.4 L157.4,83.6 L157.6,84.0 L157.8,84.3 L158.0,84.8 L158.2,85.2 L158.3,85.7 L158.4,86.1 L158.6,86.5 L158.8,86.9 L159.1,87.2 L159.4,87.5 L159.8,87.7 L160.2,87.9 L160.6,88.0 L161.0,88.2 L161.4,88.3 L161.8,88.5 L162.2,88.7 L162.5,88.9 L162.9,89.2 L163.2,89.5 L163.4,89.9 L163.5,90.3 L163.7,90.7 L163.8,91.1 L163.9,91.5 L164.0,91.9 L164.1,92.4 L164.2,92.7 L164.4,93.2 L164.7,93.5 L165.0,93.8 L165.4,94.1 L165.9,94.2 L166.2,94.4 L166.6,94.5 L167.0,94.6 L167.5,94.7 L167.9,94.8 L168.3,95.0 L168.6,95.3 L168.9,95.6 L169.1,96.0 L169.3,96.4 L169.4,96.9 L169.5,97.3 L169.7,97.8 L169.8,98.2 L170.1,98.6 L170.3,98.9 L170.6,99.1 L171.0,99.3 L171.4,99.5 L171.8,99.6 L172.3,99.6 L172.7,99.7 L173.2,99.7 L173.6,99.8 L174.0,100.0 L174.3,100.2 L174.6,100.6 L174.8,100.9 L175.0,101.3 L175.1,101.8 L175.3,102.2 L175.5,102.6 L175.7,103.0 L176.0,103.3 L176.3,103.6 L176.7,103.7 L177.1,103.8 L177.6,103.9 L178.0,103.9 L178.5,103.9 L178.9,103.9 L179.3,104.0 L179.7,104.2 L180.0,104.4 L180.3,104.8 L180.5,105.2 L180.7,105.5 L180.9,105.9 L181.1,106.3 L181.3,106.7 L181.6,107.0 L182.0,107.2 L182.4,107.3 L182.8,107.3 L183.3,107.2 L183.7,107.0 L184.1,106.9 L184.5,106.7 L184.9,106.7 L185.3,106.7 L185.7,106.9 L186.0,107.2 L186.3,107.5 L186.6,107.9 L186.9,108.2 L187.2,108.5 L187.6,108.7 L188.0,108.7 L188.4,108.6 L188.8,108.4 L189.2,108.2 L189.6,108.0 L190.0,107.8 L190.4,107.6 L190.8,107.6 L191.2,107.7 L191.6,108.0 L191.9,108.3 L192.2,108.6 L192.5,108.9 L192.8,109.2 L193.2,109.4 L193.6,109.4 L194.0,109.3 L194.4,109.1 L194.8,108.9 L195.2,108.6 L195.5,108.4 L195.9,108.2 L196.3,108.2 L196.7,108.3 L197.1,108.5 L197.4,108.8 L197.7,109.1 L198.1,109.4 L198.4,109.7 L198.8,109.9 L199.2,110.0 L199.6,110.0 L199.9,109.8 L200.3,109.6 L200.7,109.4 L201.1,109.1 L201.5,109.0 L201.9,108.9 L202.3,109.0 L202.7,109.2 L203.0,109.5 L203.3,109.8 L203.6,110.1 L203.9,110.4 L204.3,110.7 L204.6,110.8 L205.0,110.8 L205.5,110.7 L205.9,110.5 L206.3,110.3 L206.6,110.1 L207.0,109.9 L207.5,109.8 L207.9,109.8 L208.3,110.0 L208.6,110.2 L208.9,110.6 L209.2,110.9 L209.5,111.2 L209.8,111.5 L210.2,111.7 L210.6,111.8 L211.0,111.7 L211.4,111.5 L211.8,111.3 L212.2,111.1 L212.6,110.9 L213.0,110.8 L213.4,110.8 L213.8,110.9 L214.2,111.2 L214.5,111.5 L214.7,111.9 L215.0,112.3 L215.3,112.6 L215.7,112.8 L216.1,112.9 L216.5,112.9 L216.9,112.8 L217.3,112.7 L217.7,112.5 L218.2,112.3 L218.6,112.2 L219.0,112.2 L219.4,112.4 L219.7,112.6 L220.0,113.0 L220.2,113.3 L220.4,113.7 L220.6,114.0 L220.9,114.4 L221.2,114.7 L221.5,114.9 L221.9,115.0 L222.4,115.0 L222.8,115.0 L223.2,115.0 L223.6,115.0 L224.1,115.0 L224.5,115.1 L224.9,115.2 L225.2,115.5 L225.5,115.8 L225.7,116.2 L225.9,116.6 L226.0,117.0 L226.2,117.4 L226.3,117.8 L226.5,118.2 L226.8,118.5 L227.2,118.8 L227.6,119.0 L228.0,119.1 L228.5,119.1 L228.9,119.2 L229.4,119.3 L229.8,119.3 L230.2,119.5 L230.6,119.7 L231.0,120.0 L231.2,120.3 L231.4,120.7 L231.5,121.1 L231.7,121.6 L231.8,122.0 L232.0,122.4 L232.2,122.8 L232.5,123.1 L232.9,123.4 L233.3,123.6 L233.7,123.7 L234.1,123.7 L234.6,123.8 L235.0,123.8 L235.5,123.9 L235.9,124.1 L236.2,124.3 L236.6,124.6 L236.8,124.9 L237.0,125.3 L237.2,125.7 L237.3,126.2 L237.4,126.6 L237.6,127.0 L237.8,127.4 L238.0,127.8 L238.4,128.1 L238.7,128.2 L239.1,128.4 L239.6,128.4 L240.0,128.5 L240.5,128.5 L240.9,128.6 L241.3,128.6 L241.7,128.8 L242.1,129.1 L242.4,129.4 L242.6,129.8 L242.8,130.2 L242.9,130.6 L243.1,131.0 L243.2,131.4 L243.4,131.8 L243.7,132.1 L244.1,132.4 L244.5,132.6 L244.9,132.7 L245.3,132.7 L245.7,132.8 L246.2,132.8 L246.6,132.8 L247.0,132.9 L247.4,133.0 L247.8,133.3 L248.1,133.6 L248.3,134.0 L248.4,134.3 L248.6,134.8 L248.8,135.2 L248.9,135.5 L249.2,135.9 L249.5,136.2 L249.9,136.5 L250.3,136.6 L250.7,136.6 L251.1,136.6 L251.5,136.6 L252.0,136.5 L252.4,136.5 L252.8,136.6 L253.2,136.7 L253.5,137.0 L253.8,137.3 L254.0,137.7 L254.2,138.1 L254.4,138.4 L254.6,138.8 L254.9,139.1 L255.2,139.4 L255.6,139.6 L256.0,139.6 L256.4,139.6 L256.8,139.5 L257.2,139.4 L257.6,139.3 L258.1,139.3 L258.5,139.3 L258.9,139.4 L259.2,139.7 L259.5,140.0 L259.8,140.4 L260.0,140.8 L260.2,141.1 L260.4,141.5 L260.7,141.7 L261.1,141.9 L261.6,142.0 L262.0,141.9 L262.4,141.8 L262.8,141.7 L263.3,141.5 L263.7,141.5 L264.1,141.4 L264.5,141.6 L264.9,141.8 L265.2,142.1 L265.4,142.5 L265.7,142.8 L265.9,143.2 L266.2,143.5 L266.6,143.8 L267.0,143.9 L267.4,143.8 L267.9,143.7 L268.3,143.5 L268.7,143.4 L269.1,143.2 L269.5,143.1 L269.9,143.1 L270.3,143.3 L270.7,143.6 L271.0,143.9 L271.2,144.3 L271.5,144.6 L271.8,144.9 L272.2,145.1 L272.6,145.3 L273.0,145.2 L273.4,145.1 L273.8,144.9 L274.2,144.7 L274.6,144.4 L275.0,144.3 L275.4,144.3 L275.8,144.3 L276.2,144.6 L276.5,144.9 L276.8,145.2 L277.1,145.5 L277.4,145.8 L277.8,146.1 L278.2,146.2 L278.6,146.2 L279.0,146.1 L279.4,145.9 L279.8,145.6 L280.2,145.4 L280.6,145.3 L281.0,145.2 L281.4,145.3 L281.8,145.5 L282.1,145.8 L282.4,146.2 L282.7,146.5 L283.0,146.9 L283.3,147.1 L283.7,147.3 L284.1,147.4 L284.5,147.3 L284.9,147.1 L285.4,147.0 L285.8,146.8 L286.2,146.7 L286.6,146.6 L287.0,146.7 L287.4,146.9 L287.7,147.2 L288.0,147.5 L288.2,147.9 L288.4,148.3 L288.7,148.6 L289.1,148.9 L289.5,149.0 L289.9,149.1 L290.3,149.0 L290.8,148.9 L291.1,148.7 L291.6,148.6 L292.0,148.5 L292.5,148.5 L292.9,148.7 L293.2,149.0 L293.5,149.3 L293.7,149.7 L293.9,150.1 L294.2,150.5 L294.5,150.8 L294.8,151.0 L295.2,151.2 L295.6,151.2 L296.1,151.1 L296.5,151.0 L296.9,150.9 L297.3,150.8 L297.7,150.8 L298.2,150.8 L298.6,151.0 L298.9,151.3 L299.1,151.6 L299.3,152.0 L299.6,152.3 L299.8,152.7 L300.0,153.0 L300.3,153.3 L300.7,153.5 L301.1,153.6 L301.6,153.5 L302.0,153.5 L302.4,153.4 L302.8,153.3 L303.2,153.3 L303.7,153.3 L304.1,153.4 L304.4,153.7 L304.7,154.1 L304.9,154.4 L305.1,154.8 L305.3,155.1 L305.5,155.5 L305.8,155.8 L306.1,156.1 L306.5,156.3 L306.9,156.3 L307.3,156.3 L307.8,156.2 L308.2,156.2 L308.6,156.1 L309.0,156.1 L309.4,156.2 L309.8,156.4 L310.1,156.7 L310.4,157.0 L310.6,157.4 L310.8,157.8 L311.0,158.1 L311.2,158.5 L311.4,158.8 L311.7,159.1 L312.1,159.2 L312.5,159.3 L313.0,159.3 L313.4,159.2 L313.8,159.2 L314.2,159.1 L314.7,159.2 L315.1,159.2 L315.5,159.4 L315.8,159.7 L316.0,160.1 L316.2,160.4 L316.4,160.8 L316.6,161.2 L316.8,161.6 L317.0,161.9 L317.3,162.2 L317.7,162.4 L318.1,162.5 L318.6,162.6 L319.0,162.6 L319.4,162.5 L319.8,162.5 L320.2,162.5 L320.7,162.6 L321.0,162.8 L321.4,163.1 L321.6,163.4 L321.8,163.8 L322.0,164.2 L322.2,164.6 L322.3,165.0 L322.6,165.3 L322.9,165.7 L323.2,165.9 L323.6,166.0 L324.1,166.1 L324.5,166.0 L324.9,166.0 L325.3,166.0 L325.7,165.9 L326.2,166.0 L326.6,166.1 L326.9,166.4 L327.2,166.7 L327.4,167.1 L327.6,167.4 L327.8,167.8 L328.0,168.2 L328.3,168.5 L328.6,168.8 L329.0,169.0 L329.4,169.1 L329.8,169.0 L330.2,169.0 L330.6,168.9 L331.0,168.8 L331.5,168.8 L331.9,168.8 L332.3,168.9 L332.7,169.2 L332.9,169.5 L333.2,169.9 L333.4,170.3 L333.6,170.6 L333.8,171.0 L334.1,171.3 L334.5,171.5 L334.9,171.6 L335.4,171.6 L335.8,171.5 L336.2,171.4 L336.6,171.3 L337.0,171.2 L337.5,171.2 L337.9,171.3 L338.2,171.5 L338.5,171.8 L338.8,172.2 L339.0,172.5 L339.2,172.9 L339.5,173.2 L339.8,173.5 L340.2,173.8 L340.6,173.8 L341.0,173.8 L341.4,173.7 L341.9,173.5 L342.3,173.3 L342.7,173.2 L343.2,173.2 L343.6,173.3 L343.9,173.5 L344.2,173.8 L344.5,174.1 L344.8,174.5 L345.1,174.9 L345.4,175.1 L345.7,175.4 L346.1,175.5 L346.6,175.4 L347.0,175.3 L347.4,175.1 L347.8,174.9 L348.2,174.7 L348.6,174.6 L349.0,174.6 L349.4,174.7 L349.7,175.0 L350.0,175.3 L350.3,175.7 L350.6,176.0 L350.9,176.3 L351.3,176.5 L351.7,176.6 L352.1,176.6 L352.5,176.5 L352.9,176.3 L353.3,176.1 L353.7,175.9 L354.1,175.7 L354.6,175.7 L354.9,175.8 L355.3,176.0 L355.6,176.4 L355.9,176.7 L356.2,177.1 L356.5,177.4 L356.8,177.7 L357.2,177.8 L357.6,177.8 L358.0,177.8 L358.4,177.6 L358.9,177.4 L359.3,177.2 L359.7,177.1 L360.1,177.1 L360.5,177.2 L360.9,177.4 L361.2,177.7 L361.5,178.1 L361.8,178.4 L362.0,178.8 L362.3,179.1 L362.7,179.3 L363.1,179.4 L363.5,179.4 L364.0,179.2 L364.4,179.1 L364.8,178.9 L365.2,178.8 L365.7,178.7 L366.1,178.8 L366.5,179.0 L366.7,179.2 L367.0,179.6 L367.3,180.0 L367.6,180.4 L367.8,180.7 L368.2,181.0 L368.6,181.1 L369.0,181.1 L369.4,181.1 L369.9,180.9 L370.2,180.8 L370.7,180.6 L371.1,180.6 L371.5,180.6 L371.9,180.7 L372.3,181.0 L372.6,181.3 L372.8,181.7 L373.0,182.0 L373.3,182.4 L373.6,182.7 L373.9,183.0 L374.4,183.1 L374.8,183.1 L375.2,183.0 L375.6,182.9 L376.0,182.7 L376.5,182.6 L376.9,182.6 L377.3,182.6 L377.2,183.6 L377.2,183.2 L377.3,182.8 L377.4,182.3 L377.5,182.0 L377.6,181.5 L377.8,181.2 L377.9,180.8 L378.2,180.5 L378.3,180.1 L378.5,179.7 L378.8,179.4 L378.9,179.0 L379.3,178.7 L379.5,178.4 L379.8,178.1 L380.0,177.6 L380.2,177.2 L380.4,176.7 L380.6,176.3 L380.8,175.8 L380.8,175.4 L381.1,175.0 L381.2,174.6 L381.4,174.1 L381.5,173.6 L381.7,173.2 L381.9,172.8 L382.0,172.4 L382.2,172.0 L382.4,171.6 L382.5,171.2 L382.6,170.7 L382.8,170.3 L383.1,170.1 L383.3,169.8 L383.5,169.4 L383.7,169.0 L383.9,168.7 L384.1,168.3 L384.4,168.0 L384.7,167.7 L384.9,167.3 L385.0,166.9 L385.2,166.6 L385.5,166.2 L385.8,165.8 L386.0,165.5 L386.2,165.2 L386.5,164.9 L386.8,164.7 L387.1,164.3 L387.3,163.9 L387.5,163.5 L387.5,163.0 L387.7,162.6 L387.8,162.1 L388.1,161.9 L388.1,161.5 L388.4,161.2 L388.6,160.8 L388.9,160.5 L389.3,160.3 L389.6,160.1 L389.8,159.7 L390.2,159.5 L390.5,159.2 L390.8,159.0 L391.1,158.8 L391.4,158.6 L391.8,158.3 L392.0,158.0 L392.2,157.7 L392.5,157.4 L392.6,157.0 L392.8,156.7 L393.0,156.4 L393.2,156.0 L393.5,155.8 L393.8,155.5 L394.1,155.2 L394.4,154.8 L394.8,154.7 L394.9,154.3 L395.2,154.0 L395.4,153.7 L395.7,153.4 L396.0,153.3 L396.3,152.9 L396.5,152.6 L396.8,152.4 L397.1,152.2 L397.3,151.9 L397.7,151.7 L397.8,151.3 L398.1,151.0 L398.3,150.6 L398.5,150.3 L398.7,150.0 L398.9,149.6 L399.1,149.4 L399.3,149.0 L399.5,148.7 L399.8,148.4 L400.1,148.2 L400.5,148.0 L400.7,147.6 L401.0,147.4 L401.2,147.2 L401.6,147.0 L401.8,146.7 L402.2,146.5 L402.4,146.2 L402.7,146.0 L403.0,145.8 L403.2,145.5 L403.4,145.2 L403.7,144.9 L403.8,144.5 L404.1,144.3 L404.4,144.0 L404.8,143.8 L405.1,143.5 L405.4,143.4 L405.8,143.2 L406.1,143.0 L406.5,142.8 L406.7,142.6 L406.9,142.3 L407.3,142.1 L407.6,142.0 L408.0,141.8 L408.3,141.6 L408.6,141.4 L409.0,141.2 L409.3,141.0 L409.5,140.6 L409.7,140.2 L410.0,140.1 L410.2,139.7 L410.5,139.5 L410.8,139.2 L411.0,138.9 L411.4,138.8 L411.6,138.6 L412.1,138.5 L412.4,138.4 L412.7,138.2 L413.0,138.1 L413.3,137.8 L413.4,137.5 L413.6,137.1 L413.9,137.1 L414.3,136.9 L414.6,136.7 L414.8,136.5 L415.2,136.4 L415.5,136.2 L415.7,135.9 L415.8,135.6 L416.1,135.3 L416.3,135.0 L416.7,134.8 L417.0,134.6 L417.2,134.5 L417.6,134.4 L418.0,134.3 L418.3,134.2 L418.5,133.9 L418.8,133.7 L419.2,133.6 L419.6,133.6 L419.9,133.4 L420.2,133.3 L420.6,133.3 L421.0,133.2 L421.2,133.0 L421.4,132.7 L421.8,132.6 L422.1,132.4 L422.4,132.2 L422.7,132.0 L423.0,131.9 L423.4,131.8 L423.7,131.6 L424.0,131.4 L424.4,131.4 L424.8,131.4 L425.1,131.3 L425.4,131.1 L425.7,130.9 L426.0,130.8 L426.3,130.5 L426.6,130.3 L426.9,130.1 L427.2,130.0 L427.5,129.7 L427.8,129.4 L428.1,129.3 L428.5,129.1 L428.8,129.0 L429.1,129.2 L429.6,129.3 L429.9,129.1 L430.2,129.1 L430.5,128.9 L430.9,128.7 L431.2,128.6 L431.6,128.6 L431.8,128.6 L432.1,128.3 L432.5,128.4 L432.9,128.2 L433.2,127.9 L433.4,127.6 L433.7,127.7 L434.1,127.7 L434.4,127.6 L434.8,127.5 L435.1,127.7 L435.4,127.4 L435.6,127.2 L436.0,127.1 L436.3,127.1 L436.7,127.1 L437.1,127.0 L437.4,127.0 L437.7,126.9 L438.0,126.7 L438.4,126.6 L438.8,126.6 L439.1,126.4 L439.5,126.5 L439.8,126.4 L440.1,126.3 L440.5,126.4 L440.9,126.5 L441.2,126.5 L441.5,126.6 L441.9,126.5 L442.2,126.4 L442.4,126.2 L442.8,126.0 L443.0,126.1 L443.4,126.0 L443.7,125.9 L444.0,125.6 L444.2,125.6 L444.6,125.4 L444.8,125.2 L445.2,125.1 L445.5,125.0 L445.7,125.2 L446.0,125.4 L446.2,125.5 L446.6,125.6 L447.0,125.6 L447.3,125.8 L447.5,125.7 L447.9,125.6 L448.1,125.5 L448.5,125.4 L448.8,125.2 L449.1,125.2 L449.3,125.1 L449.6,125.0 L450.0,125.0 L450.3,125.0 L450.6,125.1 L450.9,125.0 L451.2,124.9 L451.5,124.9 L451.9,125.1 L452.1,125.3 L452.4,125.5 L452.7,125.4 L453.1,125.5 L453.4,125.6 L453.7,125.4 L454.0,125.2 L454.3,125.0 L454.6,125.0 L455.0,124.9 L455.2,124.7 L455.6,124.6 L456.0,124.8 L456.3,124.8 L456.6,124.5 L456.9,124.4 L457.3,124.5 L457.7,124.3 L458.0,124.3 L458.4,124.5 L458.7,124.5 L459.1,124.5 L459.4,124.8 L459.8,124.6 L460.1,124.5 L460.4,124.5 L460.7,124.3 L461.0,123.9 L461.4,123.9 L461.7,123.8 L462.1,123.9 L462.4,124.1 L462.7,124.1 L463.0,124.3 L463.4,124.4 L463.7,124.4 L464.1,124.3 L464.4,124.3 L464.7,124.5 L465.0,124.6 L465.4,124.5 L465.7,124.6 L466.0,124.3 L466.2,124.1 L466.5,123.9 L466.8,123.8 L467.1,123.8 L467.4,123.9 L467.7,124.1 L468.0,124.1 L468.4,124.2 L468.7,124.1 L469.0,124.1 L469.4,124.3 L469.8,124.4 L470.1,124.5 L470.4,124.7 L470.7,124.7 L471.0,124.5 L471.4,124.4 L471.8,124.3 L472.1,124.2 L472.4,124.2 L472.7,124.3 L473.1,124.3 L473.4,124.2 L473.8,124.2 L474.1,124.0 L474.5,124.0 L474.8,123.9 L475.2,124.0 L475.5,124.1 L475.9,124.3 L476.2,124.3 L476.5,124.1 L476.8,124.2 L477.2,124.1 L477.6,123.9 L477.9,123.9 L478.2,123.9 L478.5,123.9 L478.9,124.0 L479.2,124.1 L479.5,124.2 L479.8,124.2 L480.1,124.2 L480.4,124.2 L480.7,124.4 L481.1,124.4 L481.4,124.4 L481.7,124.6 L482.0,124.7 L482.3,124.7 L482.7,124.5 L482.9,124.5 L483.2,124.5 L483.6,124.4 L483.9,124.4 L484.3,124.5 L484.6,124.6 L484.9,124.5 L485.3,124.4 L485.6,124.4 L485.9,124.3 L486.3,124.2 L486.6,124.3 L487.0,124.4 L487.3,124.6 L487.6,124.6 L487.8,124.9 L488.2,124.8 L488.5,124.8 L488.8,124.8 L489.2,124.9 L489.5,124.8 L489.8,124.9 L490.1,125.0 L490.5,125.0 L490.9,125.0 L491.2,124.9 L491.4,125.1 L491.8,125.1 L492.2,125.1 L492.5,125.2 L492.9,125.2 L493.2,125.3 L493.5,125.4 L493.9,125.6 L494.2,125.4 L494.5,125.6 L494.8,125.5 L495.1,125.5 L495.4,125.4 L495.8,125.5 L496.1,125.6 L496.4,125.6 L496.8,125.5 L497.1,125.6 L497.5,125.7 L497.8,125.8 L498.1,125.8 L498.4,126.2 L498.7,126.4 L499.1,126.3 L499.4,126.4 L499.7,126.4 L500.0,126.3 L500.3,126.0 L500.7,126.1 L501.0,126.3 L501.4,126.2 L501.7,126.4 L502.0,126.5 L502.4,126.6 L502.7,126.8 L503.1,126.7 L503.4,126.8 L503.7,126.7 L504.0,127.0 L504.3,127.0 L504.7,127.0 L505.0,127.2 L505.3,127.3 L505.6,127.4 L506.0,127.4 L506.3,127.3 L506.7,127.2 L507.0,127.1 L507.3,127.3 L507.6,127.2 L507.9,127.3 L508.2,127.5 L508.4,127.6 L508.8,127.8 L509.0,128.0 L509.4,128.3 L509.6,128.4 L510.0,128.4 L510.2,128.5 L510.6,128.4 L510.9,128.1 L511.3,128.1 L511.6,128.0 L511.9,128.0 L512.3,127.9 L512.6,128.1 L512.9,128.1 L513.2,128.1 L513.5,128.2 L513.9,128.3 L514.2,128.4 L514.6,128.3 L515.0,128.4 L515.2,128.7 L515.6,128.8 L515.9,129.0 L516.1,129.2 L516.5,129.3 L516.9,129.3 L517.2,129.0 L517.6,129.0 L517.9,128.8 L518.3,128.8 L518.6,128.9 L518.9,129.0 L519.3,129.2 L519.6,129.5 L519.9,129.6 L520.2,129.7 L520.5,129.9 L520.9,129.9 L521.2,129.9 L521.5,129.9 L521.7,130.1 L522.1,130.0 L522.5,129.9 L522.8,130.0 L523.1,130.1 L523.3,130.2 L523.7,130.3 L524.1,130.3 L524.4,130.4 L524.7,130.6 L525.0,130.6 L525.3,130.7 L525.7,130.7 L526.0,130.7 L526.4,130.8 L526.8,130.7 L527.1,130.7 L527.4,130.8 L527.7,131.0 L528.0,131.2 L528.3,131.4 L528.7,131.4 L529.0,131.4 L529.3,131.5 L529.6,131.6 L529.9,131.6 L530.2,131.9 L530.5,132.0 L530.8,132.3 L531.1,132.4 L531.3,132.6 L531.7,132.5 L532.1,132.7 L532.4,132.8 L532.7,132.6 L533.0,132.8 L533.3,132.9 L533.7,132.9 L534.1,133.0 L534.4,133.1 L534.8,133.2 L535.1,133.3 L535.5,133.5 L535.8,133.5 L536.1,133.8 L536.4,133.9 L536.7,134.1 L537.0,134.4 L537.3,134.7 L537.6,134.6 L538.0,134.5 L538.3,134.6 L538.7,134.4 L539.1,134.3 L539.4,134.4 L539.8,134.4 L540.1,134.7 L540.4,134.7 L540.7,134.9 L541.0,134.9 L541.4,135.0 L541.8,135.1 L542.1,135.2 L542.5,135.3 L542.7,135.6 L543.1,135.6 L543.4,135.8 L543.7,136.1 L544.0,136.2 L544.4,136.3 L544.8,136.5 L545.1,136.7 L545.4,136.8 L545.7,136.8 L546.1,136.9 L546.4,136.9 L546.7,136.9 L547.1,136.9 L547.5,137.0 L547.8,137.2 L548.1,137.3 L548.3,137.5 L548.5,137.7 L548.8,137.9 L549.1,137.9 L549.5,138.1 L549.7,138.2 L549.9,138.5 L550.2,138.5 L550.5,138.5 L550.9,138.5 L551.3,138.6 L551.6,138.6 L552.0,138.6 L552.3,138.6 L552.6,138.7 L552.9,139.0 L553.3,139.0 L553.6,139.2 L553.9,139.3 L554.2,139.6 L554.5,139.6 L554.8,139.8 L555.1,140.0 L555.4,140.3 L555.7,140.3 L556.0,140.5 L556.3,140.7 L556.6,140.8 L557.0,140.7 L557.5,140.7 L557.8,140.7 L558.2,140.8 L558.6,140.9 L558.8,141.2 L559.1,141.5 L559.3,141.7 L559.6,141.9 L559.8,142.1 L560.0,142.4 L560.4,142.3 L560.7,142.6 L561.0,142.6 L561.4,142.7 L561.7,142.8 L562.1,142.8 L562.2,143.1 L562.6,143.2 L562.9,143.3 L563.3,143.2 L563.6,143.3 L563.9,143.3 L564.2,143.2 L564.6,143.2 L564.8,143.5 L565.2,143.6 L565.4,143.8 L565.7,144.0 L566.1,144.1 L566.3,144.4 L566.6,144.6 L566.9,144.7 L567.2,144.9 L567.6,145.0 L567.9,145.1 L568.2,145.2 L568.5,145.2 L568.8,145.4 L569.2,145.3 L569.5,145.6 L569.8,145.7 L570.1,145.8 L570.4,146.0 L570.7,146.2 L570.9,146.5 L571.2,146.6 L571.4,146.8 L571.9,146.8 L572.2,146.8 L572.6,146.8 L572.9,147.0 L573.3,146.9 L573.5,147.0 L573.8,147.2 L574.1,147.3 L574.4,147.4 L574.7,147.4 L575.0,147.6 L575.3,147.8 L575.7,147.9 L576.0,148.0 L576.3,148.3 L576.5,148.6 L576.9,148.5 L577.2,148.7 L577.6,148.7 L577.8,148.9 L578.2,148.9 L578.5,148.9 L578.9,149.2 L579.2,149.3 L579.5,149.6 L579.8,149.7 L580.2,149.8 L580.5,149.8 L580.8,150.0 L581.2,150.2 L581.5,150.3 L581.7,150.5 L582.0,150.7 L582.3,151.0 L582.6,151.1 L583.0,151.3 L583.3,151.5 L583.6,151.5 L584.0,151.5 L584.3,151.4 L584.7,151.4 L585.1,151.2 L585.4,151.3 L585.7,151.5 L586.0,151.8 L586.2,152.0 L586.6,152.1 L586.8,152.3 L587.1,152.3 L587.5,152.4 L587.8,152.3 L588.1,152.5 L588.5,152.5 L588.8,152.7 L589.1,152.7 L589.5,152.8 L589.8,152.9 L590.1,153.0 L590.3,153.3 L590.6,153.4 L591.0,153.5 L591.3,153.6 L591.7,153.6 L592.0,153.9 L592.4,154.0 L592.7,154.4 L592.9,154.6 L593.1,154.9 L593.5,154.9 L593.9,154.9 L594.1,155.2 L594.5,155.3 L594.9,155.4 L595.2,155.5 L595.5,155.7 L595.8,155.9 L596.2,155.9 L596.6,156.0 L596.9,156.0 L597.1,156.3 L597.6,156.2 L597.9,156.3 L598.2,156.5 L598.4,156.8 L598.7,157.0 L598.9,157.3 L599.2,157.6 L599.6,157.6 L599.9,157.8 L600.2,157.8 L600.5,157.7 L600.9,157.8 L601.2,157.7 L601.5,158.0 L601.8,157.9 L602.1,158.1 L602.2,158.4 L602.5,158.5 L602.8,158.6 L603.1,158.8 L603.4,158.9 L603.8,158.9 L604.1,159.1 L604.4,159.1 L604.6,159.4 L604.9,159.6 L605.2,159.8 L605.5,160.0 L605.8,160.1 L606.2,160.2 L606.6,160.1 L607.0,160.1 L607.3,160.3 L607.6,160.5 L607.9,160.6 L608.2,160.8 L608.5,160.8 L608.9,160.9 L609.3,161.1 L609.5,161.3 L609.8,161.4 L610.1,161.7 L610.3,162.0 L610.6,162.1 L610.9,162.3 L611.3,162.4 L611.6,162.5 L611.9,162.6 L612.2,162.6 L612.7,162.5 L613.0,162.5 L613.4,162.3 L613.7,162.5 L614.0,162.7 L614.4,162.7 L614.6,163.1 L615.0,163.3 L615.1,163.6 L615.5,163.8 L615.7,164.1 L615.9,164.3 L616.2,164.4 L616.4,164.7 L616.7,164.8 L617.0,164.9 L617.4,165.0 L617.7,164.9 L618.1,165.0 L618.5,165.0 L618.9,164.9 L619.1,165.1 L619.3,165.4 L619.6,165.3 L620.0,165.6 L620.3,165.8 L620.5,166.2 L620.9,166.1 L621.1,166.5 L621.4,166.5 L621.8,166.6 L622.1,166.7 L622.4,166.8 L622.8,166.8 L623.1,167.0 L623.5,167.0 L623.8,167.0 L624.2,167.1 L624.5,166.9 L624.9,167.1 L625.2,167.2 L625.5,167.4 L625.7,167.7 L626.1,167.7 L626.2,168.0 L626.5,168.1 L626.8,168.3 L627.2,168.4 L627.5,168.4 L627.9,168.6 L628.2,168.8 L628.5,169.0 L628.8,169.3 L629.1,169.5 L629.4,169.6 L629.8,169.7 L630.1,169.6 L630.4,169.6 L630.7,169.7 L631.1,169.7 L631.4,169.6 L631.8,169.8 L632.0,170.0 L632.4,170.1 L632.7,170.2 L633.0,170.4 L633.3,170.7 L633.6,170.6 L634.0,170.6 L634.4,170.7 L634.6,171.1 L634.9,171.1 L635.2,171.2 L635.4,171.5 L635.7,171.6 L636.1,171.8 L636.4,171.7 L636.7,172.0 L637.2,171.9 L637.5,172.1 L637.8,172.4 L638.1,172.6 L638.5,172.5 L638.8,172.5 L639.1,172.7 L639.5,172.6 L639.8,172.7 L640.1,172.9 L640.4,173.1 L640.6,173.3 L640.9,173.5 L641.2,173.7 L641.5,173.8 L642.0,173.9 L642.3,173.8 L642.7,173.7 L643.1,173.8 L643.4,173.6 L643.7,173.6 L644.0,173.8 L644.3,174.1 L644.7,174.3 L644.9,174.5 L645.2,174.7 L645.5,174.8 L645.8,175.0 L646.2,175.0 L646.5,175.1 L646.8,175.3 L647.1,175.3 L647.5,175.4 L647.8,175.6 L648.2,175.5 L648.5,175.5 L648.9,175.4 L649.2,175.6 L649.5,175.6 L649.9,175.7 L650.1,175.9 L650.5,176.1 L650.7,176.3 L651.0,176.7 L651.3,176.7 L651.6,176.8 L651.8,177.0 L652.2,177.1 L652.5,177.0 L652.9,177.1 L653.2,177.2 L653.5,177.3 L653.8,177.4 L654.1,177.5 L654.5,177.6 L654.8,177.7 L655.1,177.8 L655.4,177.8 L655.7,177.8 L656.0,178.0 L656.3,178.2 L656.7,178.1 L657.0,178.3 L657.3,178.4 L657.5,178.5" stroke="#00ffff" stroke-width="2.7"/>
<path d="M96.0,74.2 L96.1,74.8 L96.2,75.4 L96.4,75.9 L96.5,76.5 L96.7,77.0 L96.8,77.5 L97.0,78.1 L97.2,78.6 L97.5,79.1 L97.7,79.6 L97.9,80.1 L98.2,80.6 L98.4,81.1 L98.7,81.6 L98.9,82.0 L99.2,82.5 L99.4,83.0 L99.7,83.4 L99.9,83.9 L100.2,84.4 L100.4,84.8 L100.6,85.3 L100.8,85.7 L101.0,86.2 L101.2,86.6 L101.3,87.1 L101.5,87.6 L101.6,88.0 L101.7,88.5 L101.8,89.0 L101.8,89.5 L101.9,89.9 L101.9,90.4 L102.0,90.9 L102.0,91.4 L102.0,91.8 L101.9,92.3 L101.9,92.8 L101.9,93.2 L101.8,93.7 L101.8,94.1 L101.7,94.6 L101.7,95.0 L101.7,95.5 L101.6,95.9 L101.6,96.3 L101.5,96.7 L101.5,97.1 L101.5,97.7 L101.5,98.3 L101.5,98.8 L101.6,99.4 L101.7,99.8 L101.8,100.3 L102.0,100.7 L102.2,101.1 L102.4,101.4 L102.7,101.8 L103.0,102.1 L103.3,102.4 L103.6,102.7 L104.0,103.0 L104.3,103.3 L104.7,103.6 L105.1,103.9 L105.4,104.2 L105.7,104.6 L106.1,105.0 L106.4,105.4 L106.6,105.9 L106.9,106.4 L107.1,107.0 L107.2,107.4 L107.3,107.8 L107.3,108.2 L107.4,108.6 L107.5,109.0 L107.5,109.5 L107.5,109.9 L107.5,110.4 L107.5,110.8 L107.5,111.3 L107.5,111.7 L107.5,112.2 L107.4,112.7 L107.4,113.1 L107.4,113.6 L107.3,114.1 L107.3,114.5 L107.3,115.0 L107.2,115.5 L107.2,115.9 L107.2,116.3 L107.2,116.8 L107.2,117.2 L107.2,117.6 L107.3,118.2 L107.3,118.7 L107.4,119.3 L107.6,119.8 L107.8,120.3 L108.0,120.8 L108.2,121.3 L108.5,121.7 L108.8,122.1 L109.1,122.5 L109.4,123.0 L109.8,123.4 L110.1,123.8 L110.5,124.2 L110.8,124.6 L111.1,125.0 L111.5,125.4 L111.7,125.8 L112.0,126.3 L112.3,126.8 L112.5,127.2 L112.7,127.7 L112.8,128.3 L112.9,128.8 L113.0,129.4 L113.1,130.0 L113.1,130.4 L113.1,130.8 L113.1,131.3 L113.1,131.7 L113.1,132.1 L113.1,132.6 L113.1,133.0 L113.0,133.5 L113.0,133.9 L113.0,134.4 L112.9,134.9 L112.9,135.3 L112.9,135.8 L112.9,136.2 L112.9,136.7 L112.9,137.1 L112.9,137.6 L112.9,138.0 L113.0,138.5 L113.0,138.9 L113.1,139.3 L113.2,139.7 L113.3,140.2 L113.4,140.6 L113.5,140.9 L113.7,141.5 L113.9,142.0 L114.2,142.5 L114.5,143.0 L114.8,143.5 L115.1,144.0 L115.4,144.5 L115.8,144.9 L116.1,145.4 L116.4,145.9 L116.8,146.3 L117.1,146.8 L117.3,147.2 L117.6,147.7 L117.8,148.1 L118.1,148.6 L118.2,149.0 L118.4,149.5 L118.5,150.0 L118.6,150.5 L118.7,150.9 L118.7,151.4 L118.7,151.9 L118.7,152.4 L118.7,152.9 L118.7,153.4 L118.7,153.9 L118.6,154.4 L118.6,154.9 L118.6,155.4 L118.6,155.9 L118.6,156.3 L118.7,156.8 L118.7,157.2 L118.8,157.7 L119.0,158.1 L119.1,158.5 L119.3,158.9 L119.5,159.3 L119.8,159.6 L120.0,160.0 L120.3,160.3 L120.6,160.7 L120.9,161.0 L121.2,161.3 L121.5,161.6 L121.8,162.0 L122.2,162.3 L122.5,162.6 L122.7,163.0 L123.0,163.3 L123.3,163.7 L123.5,164.1 L123.7,164.5 L123.9,164.9 L124.0,165.3 L124.1,165.7 L124.2,166.1 L124.3,166.5 L124.3,166.9 L124.3,167.4 L124.3,167.8 L124.3,168.3 L124.3,168.7 L124.3,169.2 L124.3,169.6 L124.3,170.0 L124.3,170.5 L124.3,170.9 L124.3,171.3 L124.4,171.7 L124.5,172.2 L124.7,172.7 L124.9,173.1 L125.2,173.6 L125.5,174.0 L125.8,174.4 L126.2,174.8 L126.5,175.1 L126.8,175.3 L127.1,175.6 L127.4,175.9 L127.7,176.1 L128.1,176.5 L128.4,176.9 L128.8,177.2 L129.1,177.6 L129.3,178.1 L129.5,178.5 L129.7,179.0 L129.8,179.4 L129.9,179.9 L129.9,180.4 L129.9,181.0 L130.0,181.5 L129.9,182.0 L130.0,182.5 L130.0,183.1 L130.0,183.6 L130.1,184.1 L130.2,184.6 L130.3,185.1 L130.5,185.5 L130.7,186.0 L131.0,186.4 L131.3,186.8 L131.7,187.2 L132.0,187.6 L132.3,187.8 L132.6,188.1 L132.9,188.4 L133.2,188.7 L133.6,189.0 L134.0,189.4 L134.3,189.8 L134.6,190.2 L134.9,190.6 L135.1,191.0 L135.2,191.5 L135.4,191.9 L135.5,192.4 L135.5,192.9 L135.6,193.4 L135.6,193.9 L135.6,194.4 L135.6,194.9 L135.6,195.5 L135.7,196.0 L135.7,196.4 L135.8,196.9 L136.0,197.4 L136.2,197.8 L136.4,198.2 L136.6,198.6 L136.9,199.0 L137.3,199.3 L137.6,199.7 L138.0,200.0 L138.4,200.3 L138.8,200.7 L139.1,201.0 L139.5,201.3 L139.8,201.7 L140.1,202.0 L140.4,202.4 L140.6,202.8 L140.8,203.2 L141.0,203.7 L141.1,204.1 L141.1,204.6 L141.2,205.1 L141.2,205.5 L141.2,206.0 L141.3,206.5 L141.3,207.0 L141.3,207.5 L141.4,208.0 L141.5,208.4 L141.6,208.8 L141.8,209.2 L142.0,209.6 L142.3,210.0 L142.5,210.3 L142.9,210.7 L143.2,211.0 L143.6,211.3 L143.9,211.6 L144.3,211.9 L144.7,212.2 L145.0,212.5 L145.4,212.8 L145.7,213.1 L145.9,213.4 L146.2,213.8 L146.4,214.1 L146.5,214.5 L146.6,214.9 L146.7,215.4 L146.8,215.8 L146.8,216.2 L146.9,216.7 L146.9,217.1 L147.0,217.6 L147.0,218.0 L147.1,218.5 L147.2,218.9 L147.3,219.3 L147.5,219.6 L147.7,220.0 L147.9,220.3 L148.2,220.6 L148.5,220.9 L148.8,221.2 L149.1,221.5 L149.5,221.7 L149.9,222.0 L150.2,222.2 L150.6,222.5 L150.9,222.8 L151.2,223.0 L151.5,223.3 L151.8,223.7 L152.0,224.2 L152.2,224.6 L152.3,225.0 L152.4,225.4 L152.5,225.8 L152.5,226.2 L152.5,226.7 L152.6,227.1 L152.6,227.5 L152.7,227.9 L152.8,228.3 L153.0,228.8 L153.2,229.2 L153.4,229.6 L153.7,230.0 L154.1,230.3 L154.5,230.6 L154.8,230.8 L155.2,231.0 L155.5,231.3 L155.9,231.5 L156.3,231.7 L156.7,232.0 L157.0,232.3 L157.3,232.7 L157.6,233.0 L157.8,233.4 L157.9,233.8 L158.0,234.3 L158.1,234.8 L158.2,235.3 L158.3,235.7 L158.3,236.2 L158.4,236.7 L158.6,237.1 L158.8,237.5 L159.0,237.8 L159.3,238.1 L159.6,238.4 L160.0,238.6 L160.4,238.9 L160.8,239.0 L161.2,239.2 L161.7,239.4 L162.0,239.6 L162.4,239.9 L162.7,240.1 L163.0,240.4 L163.3,240.8 L163.5,241.2 L163.6,241.5 L163.7,242.0 L163.8,242.4 L163.9,242.8 L164.0,243.3 L164.1,243.7 L164.2,244.1 L164.4,244.5 L164.7,244.8 L165.0,245.2 L165.4,245.4 L165.8,245.6 L166.1,245.8 L166.6,245.9 L167.0,246.1 L167.4,246.2 L167.7,246.4 L168.2,246.6 L168.5,246.9 L168.8,247.3 L169.0,247.6 L169.2,248.1 L169.3,248.5 L169.4,248.9 L169.5,249.3 L169.6,249.7 L169.8,250.1 L169.9,250.5 L170.2,250.9 L170.5,251.3 L170.8,251.5 L171.2,251.8 L171.6,251.9 L172.0,252.0 L172.4,252.2 L172.8,252.3 L173.1,252.4 L173.6,252.6 L174.0,252.8 L174.3,253.1 L174.6,253.5 L174.8,253.9 L174.9,254.3 L175.0,254.7 L175.1,255.1 L175.3,255.5 L175.4,255.9 L175.5,256.3 L175.8,256.7 L176.0,257.1 L176.3,257.3 L176.7,257.6 L177.2,257.7 L177.6,257.9 L178.0,258.0 L178.4,258.1 L178.9,258.2 L179.3,258.4 L179.6,258.6 L179.9,258.9 L180.2,259.2 L180.4,259.5 L180.6,260.0 L180.7,260.4 L180.9,260.9 L181.0,261.3 L181.2,261.7 L181.4,262.1 L181.7,262.4 L182.0,262.7 L182.3,262.9 L182.8,263.0 L183.2,263.1 L183.7,263.2 L184.1,263.3 L184.6,263.4 L185.0,263.6 L185.3,263.8 L185.6,264.1 L185.9,264.4 L186.1,264.8 L186.3,265.2 L186.4,265.6 L186.5,266.0 L186.7,266.5 L186.9,266.9 L187.1,267.2 L187.4,267.5 L187.7,267.7 L188.1,267.9 L188.5,268.1 L188.9,268.2 L189.4,268.2 L189.8,268.3 L190.3,268.4 L190.7,268.6 L191.1,268.8 L191.4,269.1 L191.6,269.4 L191.8,269.8 L192.0,270.2 L192.1,270.7 L192.3,271.1 L192.5,271.5 L192.7,271.8 L193.0,272.2 L193.3,272.4 L193.8,272.6 L194.2,272.7 L194.6,272.8 L195.0,272.9 L195.5,272.9 L195.9,273.0 L196.3,273.1 L196.7,273.3 L197.0,273.6 L197.3,274.0 L197.5,274.3 L197.6,274.7 L197.8,275.1 L198.0,275.5 L198.2,275.9 L198.4,276.2 L198.8,276.5 L199.1,276.7 L199.6,276.9 L200.0,276.9 L200.4,276.9 L200.8,277.0 L201.2,277.0 L201.7,277.0 L202.1,277.2 L202.5,277.4 L202.8,277.7 L203.0,278.1 L203.2,278.4 L203.4,278.8 L203.6,279.2 L203.8,279.5 L204.0,279.9 L204.3,280.2 L204.7,280.4 L205.1,280.5 L205.6,280.6 L206.0,280.6 L206.4,280.6 L206.8,280.6 L207.3,280.6 L207.7,280.8 L208.1,280.9 L208.4,281.2 L208.6,281.6 L208.9,282.0 L209.0,282.3 L209.2,282.7 L209.4,283.1 L209.7,283.4 L210.0,283.7 L210.4,283.9 L210.8,284.0 L211.2,284.0 L211.6,284.0 L212.0,284.0 L212.5,284.0 L212.9,284.0 L213.3,284.1 L213.7,284.3 L214.0,284.5 L214.3,284.9 L214.5,285.3 L214.7,285.6 L214.9,286.0 L215.1,286.4 L215.4,286.7 L215.7,286.9 L216.1,287.1 L216.5,287.2 L217.0,287.2 L217.4,287.2 L217.8,287.1 L218.3,287.1 L218.7,287.1 L219.1,287.2 L219.5,287.5 L219.8,287.7 L220.0,288.1 L220.3,288.5 L220.5,288.8 L220.7,289.2 L221.0,289.6 L221.3,289.8 L221.7,290.0 L222.1,290.1 L222.6,290.1 L223.0,290.0 L223.5,290.0 L223.9,289.9 L224.3,290.0 L224.8,290.1 L225.2,290.3 L225.5,290.6 L225.7,290.9 L226.0,291.3 L226.2,291.7 L226.5,292.1 L226.8,292.4 L227.1,292.6 L227.6,292.7 L228.0,292.8 L228.4,292.7 L228.9,292.6 L229.3,292.6 L229.7,292.5 L230.1,292.6 L230.6,292.7 L230.9,293.0 L231.2,293.3 L231.5,293.6 L231.7,294.0 L232.0,294.3 L232.3,294.7 L232.6,294.9 L233.0,295.1 L233.5,295.2 L233.9,295.1 L234.3,295.1 L234.8,295.0 L235.2,294.9 L235.6,294.9 L236.0,295.0 L236.4,295.2 L236.7,295.4 L237.0,295.8 L237.3,296.1 L237.5,296.5 L237.8,296.8 L238.1,297.1 L238.4,297.4 L238.9,297.5 L239.3,297.5 L239.7,297.5 L240.2,297.4 L240.6,297.3 L241.0,297.3 L241.4,297.3 L241.9,297.4 L242.2,297.7 L242.5,298.0 L242.8,298.4 L243.0,298.7 L243.3,299.1 L243.5,299.4 L243.9,299.7 L244.2,299.9 L244.7,300.0 L245.1,300.0 L245.6,299.9 L246.0,299.8 L246.4,299.8 L246.9,299.7 L247.3,299.8 L247.7,300.0 L248.0,300.3 L248.3,300.6 L248.6,301.0 L248.8,301.4 L249.1,301.7 L249.4,302.0 L249.8,302.2 L250.2,302.3 L250.6,302.3 L251.0,302.3 L251.5,302.2 L251.9,302.1 L252.3,302.0 L252.8,302.1 L253.2,302.2 L253.5,302.4 L253.8,302.7 L254.1,303.0 L254.4,303.4 L254.6,303.7 L254.9,304.0 L255.3,304.3 L255.7,304.4 L256.1,304.4 L256.6,304.3 L257.0,304.2 L257.4,304.1 L257.8,304.0 L258.3,304.0 L258.7,304.1 L259.1,304.3 L259.4,304.6 L259.7,304.9 L260.0,305.2 L260.3,305.6 L260.6,305.9 L260.9,306.1 L261.3,306.2 L261.7,306.3 L262.2,306.2 L262.6,306.1 L263.0,306.0 L263.4,305.9 L263.8,305.8 L264.2,305.8 L264.6,306.0 L265.0,306.3 L265.3,306.6 L265.5,306.9 L265.8,307.2 L266.1,307.5 L266.5,307.8 L266.9,307.9 L267.3,308.0 L267.7,307.9 L268.1,307.8 L268.5,307.7 L268.9,307.6 L269.3,307.5 L269.8,307.5 L270.2,307.6 L270.5,307.8 L270.8,308.1 L271.1,308.4 L271.4,308.8 L271.7,309.1 L272.0,309.3 L272.4,309.5 L272.8,309.6 L273.3,309.5 L273.7,309.4 L274.1,309.3 L274.5,309.1 L274.9,309.0 L275.4,309.0 L275.8,309.1 L276.1,309.3 L276.4,309.6 L276.7,309.9 L277.0,310.2 L277.3,310.6 L277.7,310.8 L278.0,311.0 L278.5,311.1 L278.9,311.0 L279.3,310.9 L279.7,310.8 L280.1,310.6 L280.5,310.5 L280.9,310.5 L281.4,310.6 L281.7,310.8 L282.1,311.1 L282.4,311.4 L282.7,311.7 L283.0,312.0 L283.3,312.3 L283.7,312.4 L284.1,312.5 L284.6,312.4 L284.9,312.3 L285.4,312.2 L285.8,312.0 L286.2,311.9 L286.6,311.9 L287.0,311.9 L287.4,312.1 L287.7,312.4 L288.0,312.7 L288.3,313.0 L288.6,313.3 L289.0,313.6 L289.4,313.8 L289.8,313.8 L290.2,313.7 L290.6,313.6 L291.0,313.5 L291.4,313.3 L291.8,313.2 L292.2,313.2 L292.6,313.2 L293.0,313.4 L293.4,313.7 L293.7,314.0 L294.0,314.3 L294.3,314.6 L294.6,314.9 L295.0,315.0 L295.4,315.1 L295.9,315.0 L296.3,314.9 L296.7,314.7 L297.1,314.6 L297.4,314.5 L297.9,314.4 L298.3,314.5 L298.7,314.6 L299.0,314.9 L299.3,315.2 L299.6,315.5 L299.9,315.8 L300.3,316.1 L300.7,316.2 L301.1,316.3 L301.5,316.2 L301.9,316.1 L302.3,315.9 L302.7,315.8 L303.1,315.7 L303.5,315.6 L303.9,315.7 L304.3,315.8 L304.7,316.1 L305.0,316.4 L305.3,316.7 L305.6,317.0 L305.9,317.3 L306.3,317.4 L306.7,317.5 L307.2,317.4 L307.6,317.3 L308.0,317.1 L308.4,317.0 L308.7,316.8 L309.2,316.8 L309.6,316.8 L310.0,317.0 L310.3,317.3 L310.6,317.6 L310.9,317.9 L311.2,318.2 L311.6,318.4 L312.0,318.6 L312.4,318.7 L312.8,318.6 L313.2,318.5 L313.6,318.3 L314.0,318.2 L314.4,318.1 L314.8,318.0 L315.2,318.1 L315.6,318.3 L316.0,318.6 L316.3,318.9 L316.6,319.2 L316.9,319.5 L317.2,319.8 L317.6,320.0 L318.0,320.0 L318.4,320.0 L318.8,319.9 L319.3,319.7 L319.7,319.6 L320.1,319.5 L320.5,319.4 L320.9,319.5 L321.3,319.7 L321.6,320.0 L321.9,320.3 L322.2,320.6 L322.5,320.9 L322.9,321.1 L323.3,321.3 L323.7,321.3 L324.1,321.3 L324.5,321.2 L324.9,321.0 L325.3,320.8 L325.7,320.7 L326.1,320.6 L326.5,320.7 L326.9,320.9 L327.3,321.1 L327.6,321.4 L327.9,321.7 L328.2,322.0 L328.6,322.2 L329.0,322.3 L329.4,322.4 L329.8,322.3 L330.2,322.1 L330.6,321.9 L330.9,321.7 L331.3,321.5 L331.7,321.4 L332.1,321.5 L332.5,321.6 L332.9,321.8 L333.2,322.1 L333.5,322.4 L333.9,322.6 L334.2,322.8 L334.6,322.9 L335.0,322.9 L335.5,322.8 L335.8,322.6 L336.2,322.4 L336.6,322.2 L336.9,322.1 L337.3,322.0 L337.7,322.0 L338.1,322.1 L338.5,322.3 L338.9,322.6 L339.2,322.8 L339.5,323.1 L339.9,323.3 L340.3,323.4 L340.7,323.4 L341.1,323.2 L341.5,323.0 L341.9,322.8 L342.2,322.6 L342.6,322.4 L343.0,322.3 L343.4,322.3 L343.8,322.4 L344.2,322.6 L344.6,322.8 L344.9,323.1 L345.3,323.3 L345.7,323.5 L346.1,323.5 L346.5,323.5 L346.9,323.3 L347.2,323.1 L347.5,322.8 L347.9,322.6 L348.3,322.3 L348.7,322.2 L349.1,322.2 L349.5,322.3 L349.9,322.5 L350.2,322.7 L350.6,322.9 L351.0,323.1 L351.4,323.3 L351.8,323.3 L352.2,323.2 L352.6,323.0 L352.9,322.8 L353.2,322.5 L353.6,322.3 L354.0,322.0 L354.4,321.9 L354.8,321.9 L355.2,322.0 L355.5,322.2 L355.9,322.4 L356.3,322.7 L356.6,322.8 L357.0,323.0 L357.4,323.0 L357.8,323.0 L358.2,322.8 L358.6,322.6 L358.9,322.3 L359.3,322.1 L359.7,321.9 L360.1,321.8 L360.5,321.8 L360.9,321.9 L361.2,322.1 L361.6,322.4 L361.9,322.6 L362.2,322.8 L362.6,323.0 L363.0,323.1 L363.4,323.0 L363.8,322.8 L364.2,322.6 L364.6,322.4 L364.9,322.2 L365.3,322.0 L365.7,321.9 L366.1,321.9 L366.5,322.1 L366.9,322.3 L367.2,322.5 L367.5,322.8 L367.9,323.0 L368.3,323.2 L368.7,323.3 L369.1,323.2 L369.5,323.0 L369.8,322.9 L370.2,322.6 L370.6,322.4 L371.0,322.2 L371.4,322.2 L371.8,322.2 L372.2,322.4 L372.5,322.6 L372.9,322.8 L373.2,323.1 L373.5,323.3 L373.9,323.5 L374.3,323.6 L374.7,323.6 L375.1,323.4 L375.5,323.2 L375.9,323.0 L376.2,322.8 L376.6,322.7 L376.9,322.6 L377.5,323.6 L377.5,322.9 L377.7,322.3 L377.9,321.6 L378.1,321.0 L378.2,320.3 L378.3,319.7 L378.4,319.0 L378.4,318.3 L378.6,317.7 L378.8,317.1 L378.9,316.4 L379.0,315.8 L379.2,315.1 L379.3,314.5 L379.5,313.9 L379.7,313.2 L379.9,312.6 L380.0,312.0 L380.2,311.3 L380.3,310.7 L380.3,310.0 L380.3,309.4 L380.3,308.7 L380.4,308.1 L380.7,307.4 L380.8,306.8 L380.9,306.1 L381.0,305.4 L381.1,304.8 L381.2,304.1 L381.1,303.4 L381.2,302.8 L381.2,302.1 L381.3,301.4 L381.3,300.8 L381.4,300.2 L381.5,299.6 L381.6,298.9 L381.7,298.3 L381.9,297.8 L382.0,297.2 L382.1,296.6 L382.1,296.1 L382.2,295.5 L382.2,295.0 L382.2,294.5 L382.3,294.0 L382.5,293.6 L382.6,293.1 L382.7,292.6 L382.8,292.2 L382.8,291.7 L382.9,291.3 L383.0,290.8 L383.1,290.4 L383.3,290.0 L383.5,289.6 L383.5,289.2 L383.6,288.8 L383.8,288.4 L384.0,288.0 L384.1,287.6 L384.2,287.0 L384.3,286.5 L384.4,285.9 L384.6,285.4 L384.8,285.0 L385.0,284.5 L385.0,284.0 L385.2,283.6 L385.4,283.2 L385.4,282.7 L385.4,282.2 L385.5,281.8 L385.7,281.4 L386.0,281.1 L386.0,280.6 L386.2,280.2 L386.4,279.9 L386.7,279.5 L386.8,279.1 L386.8,278.6 L386.7,278.2 L387.1,277.8 L387.3,277.6 L387.6,277.2 L387.6,276.8 L387.9,276.5 L388.0,276.0 L388.1,275.6 L388.5,275.4 L388.7,275.0 L388.8,274.7 L389.0,274.4 L389.3,274.1 L389.6,273.8 L389.9,273.7 L390.4,273.6 L390.7,273.5 L391.1,273.4 L391.4,273.2 L391.7,273.0 L392.0,272.8 L392.3,272.5 L392.5,272.3 L392.8,272.2 L393.2,272.2 L393.5,271.9 L393.8,271.7 L394.2,271.7 L394.5,271.5 L394.8,271.4 L395.2,271.3 L395.6,271.4 L395.9,271.2 L396.1,271.0 L396.6,271.0 L396.9,271.0 L397.2,271.1 L397.6,271.1 L397.8,271.1 L398.1,271.1 L398.5,271.1 L398.8,271.0 L399.0,270.7 L399.3,270.4 L399.6,270.5 L399.9,270.6 L400.2,270.5 L400.6,270.5 L400.9,270.7 L401.3,270.7 L401.6,270.8 L402.0,270.7 L402.3,270.8 L402.7,271.0 L402.9,271.0 L403.3,271.0 L403.6,271.1 L403.9,271.2 L404.2,271.1 L404.5,271.1 L404.9,270.9 L405.2,270.9 L405.6,270.6 L405.8,270.4 L406.2,270.2 L406.5,270.2 L406.8,270.3 L407.1,270.4 L407.4,270.4 L407.8,270.4 L408.2,270.5 L408.4,270.4 L408.7,270.4 L409.1,270.3 L409.5,270.5 L409.7,270.4 L410.0,270.4 L410.4,270.5 L410.6,270.4 L410.9,270.4 L411.2,270.3 L411.5,270.4 L411.8,270.3 L412.1,270.2 L412.4,270.2 L412.8,270.3 L413.0,270.4 L413.4,270.4 L413.7,270.6 L414.0,270.6 L414.4,270.6 L414.7,270.5 L414.9,270.3 L415.2,270.3 L415.5,270.0 L415.8,269.9 L416.2,269.9 L416.5,269.8 L416.8,269.8 L417.2,269.8 L417.5,270.0 L417.8,270.2 L418.1,270.2 L418.5,270.4 L418.9,270.4 L419.1,270.2 L419.4,270.2 L419.8,270.3 L420.2,270.4 L420.4,270.2 L420.8,270.2 L421.1,270.1 L421.4,270.2 L421.8,270.4 L422.0,270.3 L422.4,270.2 L422.8,270.2 L423.2,270.3 L423.4,270.3 L423.7,270.0 L424.0,270.0 L424.3,270.1 L424.6,270.1 L424.9,270.0 L425.2,269.8 L425.5,270.0 L425.8,269.9 L426.2,270.2 L426.5,270.2 L426.8,270.2 L427.1,270.3 L427.4,270.2 L427.8,270.2 L428.1,270.2 L428.3,270.2 L428.7,270.0 L429.0,269.9 L429.4,269.8 L429.7,269.5 L430.0,269.7 L430.3,269.7 L430.6,270.0 L430.8,270.3 L431.1,270.5 L431.5,270.6 L431.8,270.6 L432.1,270.5 L432.4,270.3 L432.7,270.3 L433.0,270.1 L433.4,270.1 L433.7,270.2 L434.0,270.3 L434.3,270.3 L434.6,270.4 L434.9,270.6 L435.2,270.5 L435.5,270.3 L435.8,270.5 L436.2,270.6 L436.5,270.7 L436.8,271.0 L437.1,271.1 L437.5,271.2 L437.8,271.1 L438.1,271.2 L438.4,271.1 L438.7,271.0 L439.1,270.8 L439.4,271.0 L439.7,270.9 L440.0,271.0 L440.3,271.1 L440.6,271.1 L440.9,271.3 L441.3,271.2 L441.5,271.4 L441.8,271.4 L442.1,271.5 L442.5,271.4 L442.9,271.4 L443.2,271.3 L443.5,271.5 L443.9,271.5 L444.2,271.5 L444.6,271.7 L444.9,271.6 L445.1,271.8 L445.4,271.5 L445.8,271.6 L446.1,271.7 L446.4,271.8 L446.7,272.0 L447.0,272.1 L447.1,272.4 L447.5,272.7 L447.7,273.0 L448.0,273.0 L448.3,273.1 L448.6,273.0 L448.9,273.0 L449.3,272.9 L449.7,272.7 L450.0,272.6 L450.3,272.6 L450.7,272.7 L451.0,272.7 L451.3,272.8 L451.6,272.8 L451.9,273.1 L452.2,273.1 L452.5,273.4 L452.9,273.6 L453.2,273.6 L453.5,273.6 L453.8,273.7 L454.1,273.6 L454.4,273.6 L454.7,273.4 L455.0,273.5 L455.3,273.5 L455.6,273.3 L455.9,273.4 L456.3,273.4 L456.6,273.4 L456.9,273.5 L457.2,273.5 L457.5,273.6 L457.7,273.8 L458.1,274.0 L458.5,274.0 L458.8,274.3 L459.1,274.4 L459.4,274.2 L459.8,274.2 L460.1,274.0 L460.5,273.7 L460.7,273.7 L461.1,273.6 L461.4,273.6 L461.8,273.6 L462.1,273.8 L462.4,273.9 L462.7,274.0 L463.0,274.2 L463.4,274.2 L463.7,274.3 L463.9,274.4 L464.2,274.5 L464.5,274.5 L464.8,274.5 L465.2,274.7 L465.5,274.7 L465.8,274.7 L466.1,274.7 L466.4,274.4 L466.7,274.2 L467.1,274.1 L467.4,274.0 L467.7,274.0 L468.0,274.1 L468.3,274.4 L468.5,274.7 L468.8,274.7 L469.1,275.0 L469.5,275.1 L469.8,275.4 L470.2,275.3 L470.5,275.1 L470.7,275.4 L471.0,275.4 L471.4,275.4 L471.8,275.3 L472.1,275.1 L472.4,275.1 L472.7,275.0 L473.0,274.9 L473.4,275.0 L473.7,275.2 L474.1,275.2 L474.3,275.3 L474.7,275.3 L475.0,275.3 L475.3,275.2 L475.7,275.4 L475.9,275.6 L476.2,275.4 L476.5,275.7 L476.9,275.6 L477.3,275.7 L477.6,275.7 L477.9,275.8 L478.2,275.9 L478.5,275.9 L478.8,275.9 L479.1,276.0 L479.4,276.0 L479.6,276.4 L480.0,276.5 L480.3,276.4 L480.6,276.7 L480.9,276.6 L481.3,276.4 L481.6,276.2 L481.9,276.3 L482.3,276.3 L482.6,276.1 L482.9,276.2 L483.2,276.3 L483.6,276.5 L483.9,276.5 L484.2,276.4 L484.5,276.5 L484.9,276.6 L485.3,276.4 L485.6,276.4 L485.9,276.5 L486.3,276.7 L486.5,276.6 L486.9,276.6 L487.1,276.9 L487.5,277.1 L487.8,277.2 L488.2,277.3 L488.5,277.6 L488.8,277.7 L489.1,277.6 L489.4,277.6 L489.8,277.5 L490.1,277.4 L490.5,277.4 L490.9,277.3 L491.2,277.3 L491.5,277.6 L491.7,277.9 L492.1,278.0 L492.4,278.1 L492.7,278.3 L493.1,278.3 L493.4,278.3 L493.6,278.5 L494.0,278.5 L494.3,278.6 L494.5,278.5 L494.9,278.6 L495.1,278.4 L495.5,278.0 L495.8,278.0 L496.2,277.9 L496.5,278.0 L496.8,277.9 L497.1,278.2 L497.4,278.3 L497.7,278.5 L498.0,278.6 L498.2,278.7 L498.5,279.0 L498.8,278.9 L499.2,278.9 L499.5,279.0 L499.9,278.9 L500.2,278.8 L500.5,278.9 L500.8,278.8 L501.1,278.7 L501.5,278.7 L501.8,278.8 L502.1,278.9 L502.4,278.7 L502.7,278.9 L503.0,279.2 L503.3,279.3 L503.5,279.4 L503.9,279.4 L504.1,279.7 L504.4,279.6 L504.8,279.7 L505.0,279.8 L505.4,279.7 L505.7,279.9 L506.0,279.9 L506.3,279.7 L506.6,279.7 L506.9,279.6 L507.1,279.7 L507.5,279.6 L507.8,279.5 L508.1,279.6 L508.4,279.7 L508.7,279.6 L509.0,279.8 L509.3,279.9 L509.5,280.2 L509.9,280.4 L510.1,280.6 L510.4,280.7 L510.8,280.7 L511.1,280.6 L511.4,280.5 L511.8,280.4 L512.1,280.3 L512.4,280.3 L512.7,280.1 L513.0,280.1 L513.3,280.1 L513.6,280.0 L514.0,280.1 L514.3,280.2 L514.6,280.6 L514.9,280.7 L515.2,280.8 L515.5,281.0 L515.8,281.0 L516.2,280.9 L516.5,280.6 L516.7,280.7 L517.0,280.7 L517.4,280.8 L517.7,280.6 L518.0,280.5 L518.4,280.6 L518.7,280.4 L519.1,280.4 L519.4,280.4 L519.8,280.6 L520.2,280.7 L520.6,280.6 L520.9,280.8 L521.2,281.0 L521.5,281.2 L521.7,281.4 L522.1,281.5 L522.5,281.5 L522.8,281.3 L523.2,281.1 L523.6,281.0 L523.9,281.1 L524.2,281.2 L524.5,281.3 L524.8,281.6 L525.0,281.8 L525.3,281.8 L525.7,281.9 L526.0,281.9 L526.3,281.8 L526.7,281.5 L526.9,281.5 L527.3,281.6 L527.6,281.3 L527.9,281.3 L528.2,281.4 L528.5,281.6 L528.9,281.6 L529.2,281.6 L529.6,281.6 L530.0,281.6 L530.2,281.7 L530.5,281.8 L530.8,281.8 L531.1,281.8 L531.4,282.0 L531.7,282.2 L532.1,282.1 L532.3,282.4 L532.7,282.6 L533.0,282.6 L533.3,282.4 L533.6,282.4 L534.0,282.5 L534.3,282.5 L534.7,282.3 L535.0,282.5 L535.3,282.6 L535.7,282.5 L536.0,282.4 L536.4,282.5 L536.8,282.6 L537.1,282.5 L537.4,282.5 L537.6,282.9 L538.0,283.0 L538.3,283.0 L538.7,282.9 L539.0,283.1 L539.3,282.8 L539.6,282.8 L539.9,282.7 L540.3,282.5 L540.6,282.6 L540.8,282.7 L541.1,282.8 L541.4,282.9 L541.7,283.2 L542.0,283.4 L542.3,283.6 L542.6,283.8 L542.9,283.8 L543.2,283.9 L543.6,283.7 L543.9,283.7 L544.3,283.8 L544.6,283.6 L545.0,283.6 L545.3,283.4 L545.6,283.5 L545.9,283.2 L546.2,283.0 L546.5,283.1 L546.8,283.0 L547.0,283.2 L547.4,283.3 L547.6,283.6 L547.8,284.0 L548.2,284.1 L548.4,284.5 L548.7,284.4 L549.0,284.6 L549.3,284.6 L549.7,284.5 L550.1,284.4 L550.3,284.6 L550.6,284.4 L551.0,284.5 L551.3,284.3 L551.6,284.2 L551.9,284.3 L552.2,284.2 L552.6,284.4 L552.9,284.4 L553.3,284.4 L553.6,284.6 L553.9,284.7 L554.2,284.8 L554.4,285.0 L554.8,285.0 L555.1,285.0 L555.5,284.8 L555.7,284.7 L556.0,284.6 L556.3,284.5 L556.7,284.5 L556.9,284.7 L557.2,284.7 L557.5,284.8 L557.8,284.8 L558.0,285.1 L558.3,285.4 L558.5,285.4 L558.8,285.4 L559.1,285.6 L559.4,285.8 L559.7,285.9 L560.0,285.6 L560.3,285.7 L560.6,285.9 L560.9,286.0 L561.2,285.8 L561.5,285.7 L561.8,285.9 L562.2,285.8 L562.5,285.6 L562.8,285.4 L563.1,285.5 L563.5,285.6 L563.8,285.5 L564.2,285.5 L564.5,285.7 L564.8,285.8 L565.1,285.9 L565.4,286.0 L565.7,285.9 L566.1,286.0 L566.3,286.2 L566.6,286.3 L566.9,286.3 L567.2,286.6 L567.5,286.8 L567.7,287.0 L568.1,286.8 L568.4,286.7 L568.8,286.7 L569.1,286.6 L569.4,286.6 L569.8,286.7 L570.1,286.7 L570.3,286.6 L570.7,286.5 L571.0,286.6 L571.4,286.6 L571.7,286.6 L571.9,286.8 L572.2,287.0 L572.5,287.3 L572.9,287.1 L573.1,287.1 L573.4,287.1 L573.7,286.9 L574.1,286.8 L574.5,286.7 L574.8,286.9 L575.0,286.8 L575.4,286.8 L575.7,286.8 L576.1,286.8 L576.4,286.9 L576.7,286.9 L577.1,287.0 L577.3,287.3 L577.6,287.4 L578.0,287.5 L578.3,287.4 L578.6,287.5 L578.9,287.3 L579.3,287.2 L579.6,287.3 L579.9,287.3 L580.3,287.2 L580.6,287.4 L580.9,287.4 L581.2,287.5 L581.6,287.5 L581.9,287.7 L582.2,287.5 L582.6,287.6 L582.9,287.5 L583.3,287.5 L583.6,287.5 L583.9,287.5 L584.3,287.6 L584.6,287.3 L584.9,287.4 L585.2,287.4 L585.6,287.4 L585.9,287.4 L586.2,287.2 L586.5,287.3 L586.7,287.6 L587.0,287.5 L587.4,287.6 L587.7,287.6 L587.9,287.7 L588.1,288.0 L588.4,288.0 L588.7,288.0 L589.1,288.1 L589.5,288.3 L589.8,288.2 L590.1,288.1 L590.4,288.2 L590.7,288.2 L591.0,288.0 L591.4,287.8 L591.8,288.0 L592.1,287.6 L592.4,287.4 L592.7,287.5 L593.0,287.7 L593.4,287.8 L593.7,287.9 L594.0,288.0 L594.3,288.2 L594.6,288.3 L594.9,288.3 L595.3,288.2 L595.7,288.2 L596.1,288.3 L596.3,288.1 L596.7,288.1 L597.0,288.2 L597.4,288.1 L597.6,288.0 L598.0,288.0 L598.3,288.1 L598.7,288.1 L599.0,288.0 L599.3,288.1 L599.6,288.3 L599.9,288.2 L600.3,288.1 L600.6,288.3 L601.0,288.2 L601.3,288.3 L601.7,288.2 L602.0,288.3 L602.4,288.2 L602.8,288.0 L603.1,288.1 L603.3,288.1 L603.6,288.1 L603.9,288.3 L604.2,288.2 L604.5,288.4 L604.9,288.3 L605.2,288.1 L605.5,288.0 L605.9,287.9 L606.2,287.7 L606.5,288.0 L606.8,288.0 L607.1,288.2 L607.4,288.1 L607.7,288.3 L608.0,288.5 L608.3,288.3 L608.7,288.1 L609.0,288.0 L609.4,288.1 L609.7,288.1 L610.1,288.3 L610.4,288.5 L610.7,288.6 L610.9,288.8 L611.2,288.7 L611.6,288.7 L612.0,288.5 L612.4,288.6 L612.7,288.6 L613.0,288.5 L613.3,288.5 L613.7,288.4 L614.0,288.5 L614.4,288.5 L614.8,288.6 L615.0,288.8 L615.4,289.0 L615.8,288.8 L616.0,288.9 L616.4,289.0 L616.8,288.8 L617.1,288.8 L617.4,288.9 L617.6,289.1 L618.0,288.9 L618.4,288.8 L618.7,288.9 L619.0,289.0 L619.3,288.8 L619.6,288.9 L620.0,288.9 L620.3,289.1 L620.6,289.1 L621.0,289.1 L621.3,289.3 L621.6,289.5 L621.9,289.3 L622.2,289.4 L622.5,289.2 L622.8,289.3 L623.1,289.3 L623.4,289.1 L623.7,289.4 L624.1,289.3 L624.5,289.3 L624.8,289.3 L625.1,289.2 L625.5,289.2 L625.8,289.2 L626.0,289.4 L626.4,289.3 L626.7,289.5 L627.0,289.7 L627.2,289.8 L627.6,289.8 L627.9,289.8 L628.2,290.1 L628.5,290.0 L628.9,290.2 L629.2,290.3 L629.5,290.3 L629.9,290.4 L630.2,290.2 L630.5,290.2 L630.8,290.0 L631.2,290.3 L631.5,290.3 L631.8,290.2 L632.1,290.3 L632.5,290.3 L632.8,290.5 L633.2,290.5 L633.5,290.5 L633.7,290.7 L634.1,290.7 L634.4,290.7 L634.8,290.7 L635.2,290.7 L635.5,290.6 L635.9,290.6 L636.2,290.8 L636.6,290.7 L636.9,291.0 L637.3,291.1 L637.6,291.1 L637.9,291.1 L638.2,291.1 L638.5,291.1 L638.9,291.3 L639.2,291.5 L639.5,291.8 L639.8,291.9 L640.0,292.1 L640.3,292.2 L640.6,292.0 L641.0,291.9 L641.3,291.7 L641.6,291.6 L641.9,291.3 L642.2,291.4 L642.6,291.4 L642.9,291.5 L643.2,291.7 L643.6,291.9 L643.9,291.8 L644.2,292.0 L644.5,291.9 L644.9,291.9 L645.2,291.9 L645.6,291.9 L645.9,292.0 L646.2,292.0 L646.6,292.0 L646.9,292.1 L647.2,292.1 L647.5,292.0 L647.8,292.1 L648.2,292.0 L648.6,291.8 L648.9,291.9 L649.2,292.0 L649.5,291.9 L649.8,292.0 L650.1,292.3 L650.4,292.6 L650.8,292.6 L651.0,292.4 L651.3,292.5 L651.6,292.5 L651.9,292.2 L652.2,292.0 L652.5,291.8 L652.8,291.9 L653.0,291.6 L653.3,291.4 L653.6,291.6 L653.9,291.7 L654.2,291.9 L654.5,292.0 L654.7,292.1 L655.0,292.4 L655.3,292.4 L655.7,292.2 L656.0,292.3 L656.2,292.5 L656.5,292.6 L656.9,292.7 L657.3,292.6 L657.5,292.8" stroke="#000000" stroke-width="2.7"/>
<path d="M92.8,84.0 L92.9,53.0 L93.3,52.2 L94.1,60.0 L95.2,71.0 L95.5,76.1 L95.4,76.6 L95.4,77.1 L95.4,77.7 L95.3,78.3 L95.3,78.9 L95.3,79.5 L95.3,80.2 L95.3,80.9 L95.4,81.6 L95.4,82.4 L95.5,82.9 L95.5,83.3 L95.5,83.7 L95.6,84.2 L95.6,84.6 L95.7,85.1 L95.8,85.6 L95.8,86.1 L95.9,86.6 L96.0,87.1 L96.0,87.6 L96.1,88.1 L96.2,88.6 L96.3,89.1 L96.4,89.7 L96.5,90.2 L96.6,90.7 L96.7,91.3 L96.8,91.8 L96.9,92.4 L97.0,92.9 L97.1,93.5 L97.2,94.0 L97.4,94.6 L97.5,95.1 L97.6,95.7 L97.7,96.2 L97.8,96.8 L98.0,97.4 L98.1,97.9 L98.2,98.5 L98.4,99.0 L98.5,99.6 L98.6,100.1 L98.7,100.7 L98.9,101.2 L99.0,101.7 L99.1,102.2 L99.2,102.8 L99.4,103.3 L99.5,103.8 L99.6,104.3 L99.7,104.8 L99.8,105.3 L100.0,105.8 L100.1,106.3 L100.2,106.7 L100.3,107.2 L100.4,107.6 L100.5,108.1 L100.6,108.5 L100.6,108.9 L100.7,109.3 L100.8,109.7 L101.0,110.4 L101.1,111.1 L101.2,111.8 L101.3,112.4 L101.4,113.0 L101.4,113.6 L101.5,114.1 L101.5,114.7 L101.5,115.2 L101.5,115.8 L101.5,116.3 L101.5,116.8 L101.5,117.3 L101.4,117.8 L101.4,118.3 L101.3,118.8 L101.3,119.2 L101.2,119.7 L101.2,120.2 L101.1,120.6 L101.1,121.1 L101.1,121.5 L101.0,122.0 L101.0,122.4 L101.0,122.8 L101.0,123.2 L101.0,123.7 L101.1,124.1 L101.1,124.5 L101.2,124.9 L101.3,125.3 L101.4,125.7 L101.5,126.1 L101.6,126.6 L101.8,127.0 L101.9,127.4 L102.1,127.8 L102.3,128.3 L102.5,128.7 L102.7,129.2 L102.9,129.6 L103.2,130.1 L103.4,130.6 L103.6,131.1 L103.9,131.6 L104.1,132.1 L104.4,132.6 L104.6,133.1 L104.9,133.6 L105.1,134.1 L105.3,134.7 L105.5,135.2 L105.7,135.7 L105.9,136.3 L106.1,136.8 L106.3,137.4 L106.4,138.0 L106.6,138.5 L106.7,139.1 L106.8,139.7 L106.9,140.3 L107.0,140.9 L107.0,141.5 L107.1,142.0 L107.1,142.7 L107.1,143.3 L107.1,143.9 L107.1,144.5 L107.1,145.1 L107.1,145.7 L107.0,146.3 L107.0,146.9 L106.9,147.5 L106.9,148.2 L106.9,148.8 L106.8,149.4 L106.8,150.0 L106.8,150.6 L106.7,151.2 L106.7,151.8 L106.7,152.4 L106.7,153.0 L106.7,153.6 L106.8,154.2 L106.8,154.8 L106.9,155.4 L107.0,155.9 L107.0,156.5 L107.2,157.1 L107.3,157.6 L107.4,158.2 L107.6,158.7 L107.7,159.2 L107.9,159.8 L108.1,160.3 L108.3,160.8 L108.5,161.3 L108.7,161.8 L109.0,162.3 L109.2,162.8 L109.4,163.3 L109.7,163.7 L109.9,164.2 L110.1,164.6 L110.4,165.1 L110.6,165.5 L110.8,166.0 L111.0,166.4 L111.2,166.8 L111.4,167.3 L111.6,167.7 L111.8,168.1 L111.9,168.5 L112.1,168.9 L112.2,169.3 L112.3,169.7 L112.4,170.1 L112.5,170.7 L112.6,171.2 L112.6,171.8 L112.7,172.4 L112.7,173.0 L112.7,173.6 L112.6,174.1 L112.6,174.7 L112.6,175.3 L112.5,175.8 L112.5,176.4 L112.5,176.9 L112.4,177.5 L112.5,178.0 L112.5,178.5 L112.6,179.0 L112.6,179.5 L112.8,180.0 L112.9,180.5 L113.1,180.9 L113.3,181.4 L113.6,181.8 L113.8,182.3 L114.1,182.7 L114.4,183.1 L114.8,183.6 L115.1,184.0 L115.4,184.5 L115.8,184.9 L116.1,185.4 L116.4,185.8 L116.7,186.3 L117.0,186.8 L117.3,187.3 L117.5,187.8 L117.7,188.3 L117.9,188.9 L118.0,189.4 L118.1,190.0 L118.2,190.6 L118.2,191.1 L118.3,191.7 L118.3,192.3 L118.3,192.8 L118.2,193.4 L118.2,193.9 L118.2,194.5 L118.2,195.1 L118.1,195.6 L118.1,196.2 L118.1,196.7 L118.2,197.3 L118.2,197.8 L118.3,198.3 L118.4,198.8 L118.5,199.4 L118.7,199.9 L118.9,200.3 L119.1,200.8 L119.4,201.3 L119.6,201.8 L119.9,202.2 L120.2,202.6 L120.5,203.1 L120.9,203.5 L121.2,204.0 L121.5,204.4 L121.8,204.8 L122.1,205.2 L122.4,205.7 L122.7,206.1 L122.9,206.6 L123.1,207.0 L123.3,207.4 L123.5,207.9 L123.6,208.4 L123.7,208.8 L123.8,209.3 L123.8,209.8 L123.9,210.3 L123.9,210.7 L123.9,211.2 L123.9,211.7 L123.9,212.2 L123.8,212.7 L123.8,213.2 L123.8,213.6 L123.8,214.1 L123.9,214.6 L123.9,215.0 L124.0,215.4 L124.1,215.8 L124.2,216.3 L124.3,216.6 L124.5,217.0 L124.7,217.4 L124.9,217.8 L125.2,218.1 L125.4,218.4 L125.7,218.8 L126.0,219.1 L126.3,219.4 L126.6,219.7 L126.9,220.0 L127.2,220.3 L127.5,220.6 L127.8,220.9 L128.1,221.2 L128.4,221.6 L128.7,222.1 L128.9,222.5 L129.1,223.0 L129.3,223.4 L129.4,223.9 L129.4,224.5 L129.5,225.0 L129.5,225.5 L129.5,225.9 L129.5,226.3 L129.5,226.7 L129.5,227.2 L129.5,227.8 L129.6,228.3 L129.7,228.8 L129.8,229.2 L130.0,229.7 L130.2,230.1 L130.4,230.5 L130.7,230.9 L131.0,231.2 L131.4,231.6 L131.8,231.9 L132.2,232.2 L132.6,232.6 L133.0,232.9 L133.3,233.2 L133.7,233.6 L134.0,233.9 L134.3,234.3 L134.5,234.7 L134.7,235.1 L134.9,235.5 L135.0,235.9 L135.1,236.4 L135.1,236.9 L135.1,237.4 L135.1,237.9 L135.2,238.4 L135.2,238.8 L135.2,239.3 L135.3,239.8 L135.3,240.3 L135.5,240.7 L135.6,241.1 L135.8,241.5 L136.1,241.9 L136.3,242.2 L136.6,242.6 L137.0,242.9 L137.4,243.2 L137.7,243.5 L138.1,243.8 L138.5,244.1 L138.9,244.4 L139.2,244.7 L139.5,245.0 L139.8,245.4 L140.1,245.7 L140.3,246.1 L140.4,246.5 L140.6,246.9 L140.6,247.3 L140.7,247.8 L140.8,248.2 L140.8,248.7 L140.8,249.2 L140.8,249.6 L140.9,250.1 L140.9,250.5 L141.0,251.0 L141.1,251.4 L141.3,251.7 L141.5,252.1 L141.7,252.4 L142.0,252.8 L142.3,253.1 L142.6,253.3 L142.9,253.6 L143.3,253.8 L143.7,254.1 L144.0,254.3 L144.4,254.5 L144.7,254.8 L145.0,255.0 L145.4,255.4 L145.7,255.7 L145.9,256.1 L146.1,256.6 L146.2,257.0 L146.3,257.5 L146.4,257.9 L146.4,258.3 L146.5,258.7 L146.5,259.1 L146.6,259.6 L146.7,260.0 L146.9,260.5 L147.1,260.9 L147.3,261.2 L147.6,261.5 L148.0,261.8 L148.4,262.0 L148.8,262.2 L149.2,262.4 L149.7,262.6 L150.1,262.8 L150.5,263.0 L150.8,263.3 L151.2,263.5 L151.4,263.8 L151.6,264.2 L151.8,264.6 L151.9,265.0 L152.0,265.4 L152.1,265.9 L152.1,266.3 L152.2,266.8 L152.3,267.2 L152.5,267.6 L152.6,268.0 L152.9,268.3 L153.3,268.6 L153.6,268.9 L154.0,269.1 L154.4,269.2 L154.8,269.3 L155.2,269.5 L155.6,269.6 L156.0,269.8 L156.4,270.0 L156.8,270.3 L157.1,270.6 L157.3,271.0 L157.5,271.4 L157.6,271.8 L157.7,272.2 L157.8,272.7 L157.9,273.1 L158.0,273.5 L158.2,273.9 L158.4,274.3 L158.7,274.6 L159.0,274.9 L159.4,275.1 L159.9,275.2 L160.3,275.3 L160.7,275.4 L161.1,275.5 L161.5,275.6 L161.9,275.8 L162.3,276.0 L162.6,276.3 L162.9,276.6 L163.1,277.0 L163.2,277.4 L163.3,277.9 L163.4,278.3 L163.5,278.7 L163.7,279.1 L163.9,279.5 L164.1,279.9 L164.4,280.1 L164.8,280.3 L165.2,280.5 L165.6,280.6 L166.1,280.7 L166.6,280.8 L167.0,280.8 L167.4,281.0 L167.8,281.1 L168.2,281.4 L168.5,281.8 L168.7,282.1 L168.9,282.5 L169.0,283.0 L169.1,283.4 L169.3,283.8 L169.5,284.2 L169.7,284.6 L170.0,284.9 L170.4,285.1 L170.8,285.3 L171.2,285.3 L171.7,285.4 L172.1,285.4 L172.6,285.5 L173.0,285.6 L173.4,285.7 L173.8,285.9 L174.1,286.3 L174.3,286.6 L174.5,287.0 L174.6,287.4 L174.8,287.8 L175.0,288.2 L175.2,288.6 L175.4,289.0 L175.8,289.3 L176.2,289.4 L176.6,289.5 L177.0,289.6 L177.4,289.6 L177.9,289.6 L178.3,289.7 L178.7,289.7 L179.1,289.9 L179.5,290.1 L179.8,290.4 L180.0,290.8 L180.2,291.2 L180.4,291.6 L180.5,292.0 L180.7,292.4 L181.0,292.7 L181.3,293.0 L181.6,293.3 L182.0,293.4 L182.5,293.4 L182.9,293.4 L183.4,293.4 L183.8,293.4 L184.2,293.4 L184.6,293.5 L185.0,293.7 L185.3,294.0 L185.6,294.3 L185.8,294.7 L186.0,295.1 L186.2,295.5 L186.3,295.8 L186.6,296.2 L186.9,296.5 L187.3,296.7 L187.7,296.8 L188.1,296.8 L188.5,296.8 L188.9,296.7 L189.3,296.7 L189.8,296.7 L190.2,296.8 L190.6,296.9 L190.9,297.2 L191.2,297.5 L191.5,297.9 L191.7,298.3 L191.8,298.6 L192.1,299.0 L192.4,299.3 L192.7,299.6 L193.1,299.7 L193.5,299.8 L194.0,299.8 L194.4,299.7 L194.8,299.7 L195.2,299.6 L195.7,299.6 L196.1,299.7 L196.5,300.0 L196.8,300.3 L197.0,300.6 L197.3,301.0 L197.5,301.4 L197.7,301.7 L198.0,302.1 L198.4,302.3 L198.8,302.5 L199.2,302.5 L199.6,302.5 L200.1,302.4 L200.6,302.3 L201.0,302.3 L201.4,302.3 L201.8,302.4 L202.2,302.7 L202.5,303.0 L202.7,303.3 L203.0,303.7 L203.2,304.1 L203.5,304.5 L203.8,304.8 L204.2,305.0 L204.6,305.1 L205.0,305.0 L205.5,305.0 L205.9,304.9 L206.4,304.8 L206.8,304.8 L207.2,304.9 L207.6,305.0 L208.0,305.3 L208.2,305.6 L208.5,306.0 L208.7,306.4 L209.0,306.8 L209.3,307.1 L209.6,307.4 L210.0,307.5 L210.4,307.5 L210.9,307.5 L211.3,307.4 L211.8,307.4 L212.2,307.3 L212.6,307.3 L213.1,307.4 L213.4,307.6 L213.7,307.9 L214.0,308.2 L214.3,308.6 L214.5,309.0 L214.8,309.4 L215.1,309.6 L215.4,309.9 L215.9,310.0 L216.3,309.9 L216.7,309.9 L217.2,309.8 L217.6,309.7 L218.0,309.7 L218.5,309.7 L218.9,309.9 L219.2,310.1 L219.5,310.4 L219.8,310.8 L220.0,311.2 L220.3,311.5 L220.6,311.8 L221.0,312.1 L221.4,312.2 L221.8,312.2 L222.3,312.2 L222.7,312.1 L223.1,311.9 L223.6,311.9 L224.0,311.9 L224.4,312.0 L224.7,312.2 L225.0,312.4 L225.3,312.8 L225.6,313.1 L225.9,313.5 L226.1,313.8 L226.5,314.1 L226.9,314.2 L227.3,314.2 L227.7,314.2 L228.2,314.1 L228.6,314.0 L229.0,313.8 L229.4,313.8 L229.8,313.8 L230.2,313.9 L230.6,314.2 L230.9,314.5 L231.2,314.8 L231.4,315.2 L231.7,315.5 L232.1,315.8 L232.5,315.9 L232.9,316.0 L233.3,315.9 L233.8,315.8 L234.2,315.7 L234.6,315.5 L235.0,315.5 L235.4,315.5 L235.8,315.6 L236.2,315.8 L236.5,316.1 L236.8,316.4 L237.1,316.8 L237.3,317.1 L237.7,317.3 L238.1,317.5 L238.5,317.6 L238.9,317.5 L239.4,317.4 L239.8,317.2 L240.2,317.1 L240.6,317.0 L241.0,317.0 L241.4,317.1 L241.8,317.3 L242.1,317.5 L242.4,317.8 L242.7,318.2 L243.0,318.5 L243.3,318.7 L243.7,318.9 L244.1,319.0 L244.5,319.0 L244.9,318.8 L245.3,318.7 L245.7,318.5 L246.1,318.4 L246.5,318.3 L246.9,318.4 L247.3,318.6 L247.7,318.8 L248.0,319.1 L248.3,319.5 L248.6,319.8 L248.9,320.0 L249.3,320.2 L249.7,320.3 L250.1,320.2 L250.5,320.1 L250.9,320.0 L251.3,319.8 L251.7,319.6 L252.1,319.6 L252.5,319.6 L252.9,319.7 L253.3,320.0 L253.6,320.3 L253.9,320.6 L254.2,320.9 L254.5,321.1 L254.9,321.3 L255.3,321.4 L255.7,321.4 L256.1,321.2 L256.5,321.1 L256.9,320.9 L257.3,320.7 L257.7,320.6 L258.1,320.6 L258.5,320.8 L258.9,321.0 L259.2,321.3 L259.5,321.6 L259.8,321.9 L260.1,322.1 L260.5,322.3 L260.9,322.4 L261.3,322.4 L261.7,322.2 L262.1,322.1 L262.5,321.9 L262.9,321.7 L263.3,321.6 L263.8,321.6 L264.1,321.7 L264.5,322.0 L264.8,322.2 L265.1,322.5 L265.5,322.8 L265.8,323.1 L266.2,323.2 L266.6,323.3 L267.0,323.3 L267.4,323.2 L267.8,323.0 L268.2,322.8 L268.6,322.6 L269.0,322.5 L269.4,322.5 L269.8,322.6 L270.2,322.8 L270.5,323.1 L270.8,323.4 L271.1,323.6 L271.4,323.9 L271.8,324.1 L272.2,324.2 L272.6,324.1 L273.1,324.0 L273.4,323.8 L273.8,323.6 L274.2,323.4 L274.6,323.3 L275.0,323.3 L275.4,323.4 L275.8,323.6 L276.1,323.8 L276.4,324.1 L276.8,324.4 L277.1,324.6 L277.5,324.8 L277.9,324.9 L278.3,324.8 L278.7,324.7 L279.1,324.5 L279.5,324.3 L279.8,324.1 L280.3,323.9 L280.7,323.9 L281.1,324.0 L281.4,324.2 L281.8,324.5 L282.1,324.7 L282.4,325.0 L282.8,325.2 L283.1,325.4 L283.5,325.5 L283.9,325.4 L284.4,325.3 L284.7,325.1 L285.1,324.8 L285.5,324.7 L285.9,324.5 L286.3,324.5 L286.7,324.6 L287.1,324.8 L287.4,325.0 L287.7,325.3 L288.1,325.6 L288.4,325.8 L288.8,325.9 L289.2,326.0 L289.6,325.9 L290.0,325.8 L290.4,325.6 L290.8,325.4 L291.1,325.2 L291.5,325.0 L291.9,325.0 L292.3,325.1 L292.7,325.2 L293.1,325.5 L293.4,325.7 L293.7,326.0 L294.1,326.2 L294.5,326.4 L294.9,326.4 L295.3,326.4 L295.7,326.2 L296.0,326.0 L296.4,325.8 L296.8,325.6 L297.2,325.4 L297.6,325.4 L298.0,325.4 L298.4,325.6 L298.7,325.9 L299.0,326.1 L299.4,326.4 L299.7,326.6 L300.1,326.7 L300.5,326.8 L300.9,326.7 L301.3,326.5 L301.7,326.3 L302.1,326.1 L302.4,325.9 L302.8,325.7 L303.2,325.7 L303.6,325.7 L304.0,325.9 L304.4,326.1 L304.7,326.4 L305.0,326.6 L305.4,326.9 L305.8,327.0 L306.2,327.0 L306.6,327.0 L307.0,326.8 L307.3,326.6 L307.7,326.4 L308.1,326.2 L308.5,326.0 L308.9,326.0 L309.3,326.0 L309.7,326.2 L310.0,326.4 L310.3,326.7 L310.7,327.0 L311.1,327.2 L311.4,327.4 L311.9,327.4 L312.3,327.3 L312.7,327.1 L313.1,326.9 L313.5,326.7 L313.9,326.6 L314.3,326.5 L314.7,326.5 L315.1,326.6 L315.4,326.9 L315.8,327.1 L316.1,327.4 L316.4,327.7 L316.8,327.9 L317.2,328.1 L317.6,328.1 L318.0,328.0 L318.4,327.9 L318.7,327.7 L319.1,327.5 L319.5,327.4 L319.9,327.3 L320.3,327.3 L320.7,327.4 L321.1,327.7 L321.4,328.0 L321.7,328.2 L322.1,328.5 L322.4,328.8 L322.8,328.9 L323.2,329.0 L323.6,328.9 L324.0,328.7 L324.4,328.5 L324.8,328.3 L325.1,328.2 L325.6,328.1 L326.0,328.1 L326.4,328.2 L326.7,328.4 L327.1,328.7 L327.4,328.9 L327.7,329.2 L328.1,329.4 L328.5,329.5 L328.9,329.5 L329.3,329.4 L329.7,329.2 L330.0,329.0 L330.4,328.8 L330.8,328.6 L331.2,328.4 L331.5,328.4 L331.9,328.5 L332.3,328.6 L332.7,328.9 L333.1,329.1 L333.4,329.3 L333.8,329.5 L334.2,329.6 L334.6,329.5 L335.0,329.4 L335.4,329.2 L335.7,328.9 L336.0,328.7 L336.4,328.5 L336.8,328.3 L337.2,328.2 L337.6,328.3 L338.0,328.5 L338.3,328.7 L338.7,328.9 L339.1,329.1 L339.5,329.3 L339.9,329.4 L340.3,329.3 L340.7,329.2 L341.0,328.9 L341.4,328.7 L341.7,328.4 L342.0,328.2 L342.4,328.0 L342.8,328.0 L343.2,328.0 L343.6,328.2 L344.0,328.4 L344.4,328.6 L344.7,328.8 L345.1,329.0 L345.5,329.1 L345.9,329.1 L346.3,328.9 L346.7,328.7 L347.0,328.4 L347.3,328.2 L347.7,327.9 L348.1,327.7 L348.5,327.7 L348.9,327.7 L349.3,327.9 L349.6,328.1 L350.0,328.3 L350.4,328.5 L350.8,328.6 L351.2,328.7 L351.6,328.6 L352.0,328.5 L352.3,328.3 L352.7,328.0 L353.0,327.7 L353.3,327.5 L353.7,327.3 L354.1,327.3 L354.5,327.3 L354.9,327.5 L355.3,327.7 L355.7,327.9 L356.0,328.1 L356.4,328.3 L356.8,328.4 L357.3,328.3 L357.7,328.1 L358.0,327.9 L358.3,327.7 L358.7,327.4 L359.1,327.3 L359.5,327.1 L359.9,327.1 L360.3,327.2 L360.7,327.4 L361.0,327.6 L361.3,327.8 L361.7,328.1 L362.1,328.3 L362.5,328.3 L362.9,328.3 L363.3,328.2 L363.6,328.0 L364.0,327.7 L364.4,327.5 L364.7,327.3 L365.1,327.2 L365.5,327.2 L365.9,327.3 L366.3,327.5 L366.7,327.7 L367.0,327.9 L367.3,328.2 L367.7,328.4 L368.1,328.5 L368.5,328.4 L368.9,328.3 L369.3,328.1 L369.7,327.9 L370.0,327.7 L370.4,327.5 L370.8,327.4 L371.2,327.4 L371.6,327.5 L372.0,327.7 L372.3,327.9 L372.6,328.2 L373.0,328.5 L373.4,328.7 L373.8,328.8 L374.2,328.8 L374.6,328.6 L374.9,328.5 L375.3,328.3 L375.7,328.0 L376.0,327.9 L376.5,327.8 L376.9,327.8 L376.7,329.0 L376.7,328.5 L376.8,327.9 L376.8,327.4 L376.8,326.8 L376.8,326.3 L376.8,325.7 L376.9,325.2 L376.9,324.6 L376.9,324.1 L376.9,323.6 L377.0,323.0 L377.0,322.5 L377.1,322.0 L377.1,321.5 L377.2,320.9 L377.2,320.4 L377.3,319.9 L377.3,319.4 L377.4,318.9 L377.4,318.5 L377.4,318.0 L377.5,317.5 L377.5,317.0 L377.5,316.6 L377.6,316.1 L377.6,315.7 L377.7,315.2 L377.7,314.8 L377.7,314.4 L377.7,314.0 L377.9,313.2 L378.1,312.5 L378.2,311.8 L378.3,311.2 L378.5,310.6 L378.5,310.0 L378.7,309.5 L378.9,309.0 L379.1,308.5 L379.2,308.0 L379.4,307.5 L379.6,307.0 L379.6,306.5 L379.8,306.1 L379.9,305.6 L380.1,305.2 L380.3,304.8 L380.3,304.4 L380.5,304.0 L380.6,303.6 L380.7,303.2 L380.7,302.8 L380.9,302.2 L381.0,301.6 L381.1,301.1 L381.3,300.6 L381.3,300.0 L381.4,299.5 L381.4,299.0 L381.5,298.5 L381.4,298.0 L381.6,297.5 L381.7,297.1 L382.0,296.7 L382.2,296.3 L382.5,295.9 L382.5,295.5 L382.7,295.0 L382.8,294.6 L382.9,294.2 L383.2,293.9 L383.4,293.5 L383.5,293.0 L383.6,292.6 L383.8,292.3 L384.0,291.9 L384.0,291.5 L384.1,291.1 L384.4,290.8 L384.6,290.5 L384.8,290.0 L384.9,289.6 L385.0,289.2 L385.4,288.9 L385.6,288.6 L385.8,288.3 L386.1,288.0 L386.1,287.5 L386.4,287.2 L386.7,286.9 L387.0,286.7 L387.2,286.5 L387.4,286.1 L387.8,286.0 L388.1,285.7 L388.4,285.5 L388.7,285.2 L389.0,284.9 L389.4,284.9 L389.6,284.7 L389.9,284.9 L390.3,284.8 L390.6,284.6 L391.0,284.4 L391.2,284.1 L391.4,283.8 L391.7,283.5 L392.1,283.6 L392.4,283.6 L392.8,283.7 L393.1,283.5 L393.5,283.3 L393.7,283.1 L394.0,283.0 L394.3,282.8 L394.6,282.7 L394.9,282.8 L395.3,283.0 L395.6,283.0 L395.9,283.0 L396.1,283.0 L396.5,282.9 L396.8,282.8 L397.0,282.6 L397.4,282.6 L397.7,282.3 L398.0,282.4 L398.3,282.4 L398.6,282.4 L398.9,282.0 L399.2,282.1 L399.6,282.0 L399.9,282.0 L400.2,282.3 L400.5,282.3 L400.8,282.5 L401.1,282.4 L401.5,282.6 L401.7,282.7 L402.1,282.5 L402.4,282.5 L402.7,282.6 L403.0,282.7 L403.4,282.4 L403.8,282.5 L404.1,282.4 L404.3,282.2 L404.7,282.0 L405.0,282.1 L405.4,281.9 L405.8,281.9 L406.1,282.0 L406.5,282.1 L406.8,282.2 L407.1,282.3 L407.4,282.2 L407.7,282.4 L408.0,282.3 L408.3,282.4 L408.6,282.0 L409.0,282.2 L409.3,282.3 L409.6,282.3 L409.9,282.3 L410.2,282.2 L410.5,282.2 L410.7,282.4 L411.0,282.3 L411.4,282.3 L411.7,282.3 L412.1,282.4 L412.2,282.8 L412.6,282.8 L412.8,282.9 L413.2,283.1 L413.5,283.2 L413.8,283.3 L414.1,283.1 L414.5,283.1 L414.8,283.1 L415.2,283.1 L415.5,282.9 L415.8,282.7 L416.1,282.9 L416.5,282.8 L416.8,282.9 L417.2,283.1 L417.4,283.3 L417.7,283.5 L418.1,283.7 L418.4,283.8 L418.8,283.8 L419.1,283.7 L419.5,283.6 L419.8,283.3 L420.1,283.3 L420.4,283.3 L420.7,283.2 L421.1,283.2 L421.5,283.3 L421.8,283.3 L422.1,283.1 L422.4,283.4 L422.8,283.3 L423.1,283.5 L423.4,283.5 L423.7,283.6 L423.9,283.8 L424.2,283.8 L424.6,283.9 L424.9,283.8 L425.3,283.7 L425.6,283.7 L426.0,283.7 L426.3,283.7 L426.6,283.7 L426.9,283.6 L427.3,283.7 L427.6,283.5 L427.9,283.9 L428.1,284.0 L428.4,284.2 L428.7,284.3 L429.1,284.3 L429.5,284.3 L429.8,284.3 L430.1,284.2 L430.5,284.3 L430.8,284.3 L431.1,284.4 L431.4,284.3 L431.7,284.3 L432.0,284.5 L432.3,284.4 L432.7,284.3 L433.0,284.4 L433.3,284.4 L433.6,284.1 L433.9,284.1 L434.3,284.1 L434.6,284.1 L434.9,284.1 L435.2,284.3 L435.4,284.4 L435.7,284.5 L436.0,284.5 L436.3,284.8 L436.6,284.7 L436.9,284.8 L437.2,284.7 L437.5,284.7 L437.8,284.7 L438.1,284.5 L438.5,284.5 L438.8,284.5 L439.1,284.6 L439.3,284.9 L439.7,284.9 L440.0,285.1 L440.3,285.3 L440.5,285.4 L440.9,285.4 L441.3,285.4 L441.6,285.4 L442.0,285.2 L442.3,285.0 L442.7,284.9 L443.0,284.8 L443.3,284.9 L443.6,285.2 L443.9,285.3 L444.1,285.6 L444.4,285.7 L444.7,285.8 L445.1,285.9 L445.4,286.1 L445.8,286.0 L446.1,286.0 L446.5,286.1 L446.8,286.1 L447.1,286.0 L447.4,286.2 L447.7,286.3 L448.0,286.5 L448.3,286.5 L448.6,286.6 L449.0,286.6 L449.3,286.5 L449.6,286.5 L449.9,286.3 L450.2,286.6 L450.5,286.5 L450.9,286.3 L451.2,286.4 L451.5,286.5 L451.7,286.8 L452.0,286.4 L452.3,286.4 L452.5,286.6 L452.8,286.8 L453.2,286.9 L453.5,286.7 L453.7,287.1 L454.0,287.2 L454.2,287.4 L454.6,287.4 L454.9,287.6 L455.3,287.4 L455.6,287.2 L455.9,287.1 L456.2,286.9 L456.6,286.9 L456.9,287.0 L457.1,287.2 L457.4,287.4 L457.7,287.3 L458.0,287.5 L458.3,287.4 L458.6,287.5 L458.9,287.4 L459.2,287.6 L459.6,287.6 L460.0,287.5 L460.2,287.8 L460.6,287.6 L461.0,287.5 L461.3,287.5 L461.7,287.5 L462.0,287.4 L462.3,287.3 L462.7,287.5 L462.9,287.6 L463.2,287.7 L463.5,287.9 L463.7,288.0 L464.0,288.1 L464.4,288.2 L464.7,288.1 L465.0,288.3 L465.4,288.5 L465.7,288.4 L466.0,288.5 L466.3,288.5 L466.7,288.4 L467.0,288.2 L467.4,288.1 L467.6,288.1 L468.0,287.9 L468.3,288.1 L468.6,288.3 L468.8,288.6 L469.0,288.9 L469.4,288.8 L469.7,289.0 L470.0,289.0 L470.3,289.1 L470.6,289.0 L471.0,288.9 L471.2,288.9 L471.6,288.9 L471.9,288.8 L472.3,288.7 L472.5,288.9 L472.8,289.0 L473.2,289.0 L473.5,289.3 L473.8,289.4 L474.1,289.5 L474.5,289.4 L474.7,289.7 L475.0,289.7 L475.4,289.8 L475.7,289.8 L476.0,289.6 L476.3,289.8 L476.6,289.8 L477.0,289.7 L477.3,289.5 L477.6,289.4 L477.9,289.5 L478.2,289.4 L478.5,289.4 L478.8,289.3 L479.1,289.1 L479.4,289.2 L479.7,289.4 L480.0,289.6 L480.3,289.6 L480.7,289.6 L481.0,289.6 L481.2,289.8 L481.6,289.9 L481.9,289.9 L482.2,289.9 L482.5,290.0 L482.9,290.0 L483.2,289.9 L483.6,289.9 L484.0,289.9 L484.3,289.7 L484.6,289.9 L484.8,289.9 L485.2,290.0 L485.5,290.1 L485.8,290.2 L486.1,290.4 L486.4,290.5 L486.7,290.5 L487.1,290.7 L487.4,290.9 L487.7,291.0 L488.1,291.1 L488.4,291.1 L488.7,291.2 L489.0,291.4 L489.4,291.3 L489.7,291.3 L490.0,291.4 L490.2,291.4 L490.6,291.4 L491.0,291.2 L491.3,291.4 L491.5,291.5 L491.9,291.3 L492.1,291.6 L492.5,291.5 L492.9,291.5 L493.2,291.5 L493.5,291.6 L493.8,291.3 L494.0,291.2 L494.4,291.0 L494.6,291.4 L495.0,291.4 L495.3,291.5 L495.6,291.7 L495.8,291.9 L496.1,292.2 L496.4,292.1 L496.7,292.2 L497.1,292.1 L497.4,292.1 L497.7,292.2 L497.9,291.8 L498.3,291.8 L498.6,291.8 L498.9,292.0 L499.1,292.0 L499.4,291.8 L499.7,292.2 L500.0,292.3 L500.3,292.2 L500.6,291.9 L501.0,291.9 L501.2,291.9 L501.6,291.9 L501.9,291.8 L502.2,291.8 L502.5,291.9 L502.8,292.2 L503.0,292.3 L503.3,292.4 L503.6,292.6 L503.9,292.8 L504.2,293.0 L504.5,292.9 L504.8,292.8 L505.2,292.6 L505.5,292.5 L505.8,292.3 L506.1,292.1 L506.5,292.1 L506.8,292.1 L507.1,292.2 L507.5,292.3 L507.7,292.1 L508.1,292.1 L508.3,292.1 L508.6,292.4 L509.0,292.5 L509.2,292.6 L509.5,292.9 L509.8,292.9 L510.0,292.9 L510.3,292.8 L510.7,292.6 L511.0,292.7 L511.3,292.6 L511.6,292.8 L511.9,292.9 L512.2,292.8 L512.6,292.7 L512.9,292.8 L513.3,292.8 L513.6,292.7 L513.9,292.8 L514.2,292.8 L514.5,292.6 L514.9,292.6 L515.2,292.7 L515.6,292.8 L515.8,292.8 L516.2,293.0 L516.5,292.8 L516.8,292.9 L517.1,292.9 L517.4,292.7 L517.8,292.6 L518.1,292.5 L518.4,292.5 L518.8,292.7 L519.1,292.8 L519.3,293.1 L519.7,293.0 L519.9,293.4 L520.2,293.6 L520.5,293.6 L520.8,293.6 L521.1,293.4 L521.4,293.6 L521.7,293.5 L522.1,293.4 L522.4,293.4 L522.7,293.4 L523.0,293.4 L523.3,293.4 L523.6,293.4 L523.9,293.4 L524.2,293.5 L524.5,293.5 L524.9,293.2 L525.2,293.1 L525.6,293.3 L525.9,293.3 L526.2,293.3 L526.5,293.5 L526.8,293.6 L527.2,293.7 L527.5,293.6 L527.8,293.7 L528.1,293.6 L528.5,293.7 L528.8,293.5 L529.2,293.5 L529.5,293.3 L529.8,293.5 L530.1,293.7 L530.4,293.7 L530.7,293.7 L531.1,293.9 L531.4,293.8 L531.7,293.7 L532.0,293.8 L532.3,294.0 L532.7,294.0 L533.0,294.1 L533.3,294.1 L533.6,293.8 L534.0,293.6 L534.3,293.6 L534.6,293.3 L534.8,293.3 L535.1,293.3 L535.4,293.6 L535.8,293.8 L536.1,293.7 L536.3,294.0 L536.5,294.0 L536.8,294.0 L537.1,294.1 L537.6,294.0 L537.9,294.2 L538.1,294.1 L538.5,294.4 L538.8,294.2 L539.2,294.2 L539.5,294.2 L539.8,294.2 L540.2,294.2 L540.6,294.1 L540.9,294.1 L541.3,294.0 L541.6,294.2 L541.9,294.2 L542.1,294.4 L542.5,294.5 L542.7,294.4 L543.1,294.3 L543.4,294.3 L543.7,294.1 L543.9,294.1 L544.2,294.1 L544.5,294.3 L544.8,294.4 L545.0,294.6 L545.4,294.8 L545.8,294.6 L546.1,294.4 L546.4,294.4 L546.6,294.3 L546.9,294.1 L547.2,294.1 L547.5,294.3 L547.8,294.4 L548.1,294.5 L548.5,294.6 L548.7,294.9 L549.0,295.0 L549.3,295.0 L549.7,295.0 L550.0,295.2 L550.3,295.2 L550.6,295.1 L550.9,295.1 L551.2,295.0 L551.5,295.2 L551.8,295.0 L552.1,295.1 L552.4,294.9 L552.8,295.0 L553.0,295.2 L553.3,295.1 L553.7,295.2 L554.0,295.2 L554.4,295.1 L554.7,295.1 L555.0,295.0 L555.3,295.1 L555.6,295.2 L555.9,295.3 L556.2,295.3 L556.5,295.4 L556.8,295.5 L557.2,295.5 L557.6,295.4 L557.9,295.3 L558.2,295.4 L558.5,295.3 L558.9,295.3 L559.2,295.1 L559.4,295.5 L559.7,295.6 L560.0,295.3 L560.3,295.6 L560.6,295.6 L560.9,295.8 L561.2,295.6 L561.6,295.6 L561.8,295.9 L562.1,295.6 L562.4,295.6 L562.7,295.5 L563.0,295.6 L563.4,295.5 L563.7,295.5 L564.0,295.5 L564.3,295.8 L564.6,295.7 L564.9,295.7 L565.3,295.7 L565.6,295.8 L565.9,296.2 L566.2,296.2 L566.6,296.4 L566.9,296.4 L567.3,296.5 L567.5,296.2 L567.9,296.1 L568.2,296.0 L568.5,295.9 L568.8,295.9 L569.2,295.9 L569.4,296.1 L569.7,296.2 L570.0,296.3 L570.3,296.4 L570.6,296.5 L571.0,296.5 L571.3,296.4 L571.6,296.5 L572.0,296.5 L572.3,296.4 L572.7,296.6 L573.0,296.4 L573.3,296.3 L573.6,296.2 L574.0,296.3 L574.3,296.3 L574.7,296.1 L575.0,296.3 L575.2,296.4 L575.5,296.4 L575.9,296.4 L576.1,296.3 L576.4,296.6 L576.7,296.6 L577.0,296.7 L577.2,296.6 L577.5,296.8 L577.8,296.6 L578.1,296.6 L578.4,296.6 L578.8,296.5 L579.1,296.6 L579.5,296.5 L579.7,296.7 L580.0,296.8 L580.3,296.8 L580.7,296.6 L581.0,296.9 L581.4,297.0 L581.7,296.8 L582.0,296.5 L582.3,296.6 L582.5,296.7 L583.0,296.7 L583.2,296.8 L583.6,296.8 L583.9,296.7 L584.1,297.1 L584.4,296.8 L584.7,296.8 L585.1,296.7 L585.4,296.8 L585.7,296.7 L586.0,296.5 L586.3,296.5 L586.6,296.4 L586.9,296.5 L587.2,296.5 L587.5,296.6 L587.8,296.9 L588.0,297.1 L588.3,297.3 L588.7,297.1 L589.0,297.2 L589.3,297.1 L589.7,297.0 L590.0,296.6 L590.3,296.6 L590.6,296.5 L591.0,296.6 L591.3,296.5 L591.7,296.4 L592.0,296.3 L592.3,296.4 L592.6,296.5 L593.0,296.4 L593.3,296.4 L593.6,296.8 L593.8,296.8 L594.2,296.6 L594.6,296.7 L594.9,296.7 L595.3,296.5 L595.6,296.5 L596.0,296.6 L596.4,296.5 L596.7,296.6 L597.0,296.7 L597.3,296.8 L597.5,296.9 L597.9,296.8 L598.2,296.9 L598.6,296.7 L598.9,296.7 L599.2,296.8 L599.4,297.0 L599.8,297.2 L600.2,297.2 L600.5,297.2 L600.7,297.2 L601.1,297.1 L601.4,297.1 L601.8,297.1 L602.2,296.9 L602.4,296.8 L602.6,297.0 L603.0,297.0 L603.3,297.0 L603.6,297.0 L603.9,297.3 L604.2,297.3 L604.5,297.0 L604.8,296.9 L605.0,297.0 L605.3,297.0 L605.6,296.8 L605.9,296.9 L606.2,297.1 L606.5,297.1 L606.8,297.0 L607.1,296.7 L607.5,296.8 L607.7,296.6 L608.1,296.7 L608.3,296.8 L608.7,297.0 L609.0,297.0 L609.4,297.2 L609.7,297.2 L610.0,297.2 L610.3,297.2 L610.7,297.3 L611.0,297.5 L611.3,297.4 L611.6,297.4 L611.8,297.6 L612.1,297.4 L612.4,297.4 L612.7,297.1 L613.0,297.0 L613.3,296.9 L613.6,296.7 L613.9,296.8 L614.2,296.6 L614.6,296.8 L614.9,297.0 L615.1,297.1 L615.5,297.1 L615.7,297.1 L616.1,297.2 L616.4,297.3 L616.7,297.2 L616.9,297.2 L617.2,297.3 L617.5,297.1 L617.9,297.0 L618.2,296.9 L618.5,296.8 L618.8,296.6 L619.1,296.5 L619.4,296.6 L619.7,296.7 L620.0,296.7 L620.4,297.0 L620.6,297.2 L620.9,297.3 L621.3,297.5 L621.6,297.4 L622.0,297.7 L622.3,297.6 L622.7,297.5 L623.0,297.3 L623.4,297.3 L623.7,297.1 L624.0,297.1 L624.3,296.9 L624.6,296.9 L625.0,297.1 L625.3,297.0 L625.5,297.4 L625.8,297.4 L626.2,297.5 L626.4,297.9 L626.8,298.1 L627.1,298.0 L627.4,298.1 L627.7,298.2 L628.0,298.2 L628.4,298.1 L628.7,298.1 L629.0,298.0 L629.3,297.9 L629.8,297.9 L630.1,297.8 L630.4,297.7 L630.6,297.9 L630.8,298.1 L631.1,297.9 L631.5,297.8 L631.8,298.1 L632.1,298.0 L632.4,297.9 L632.7,298.1 L633.0,298.3 L633.3,298.1 L633.7,298.3 L634.0,298.6 L634.3,298.6 L634.7,298.7 L635.0,298.7 L635.3,298.8 L635.6,298.7 L635.9,298.9 L636.3,298.9 L636.6,299.0 L636.9,299.1 L637.2,299.0 L637.5,298.8 L637.8,298.6 L638.2,298.6 L638.5,298.6 L638.8,298.5 L639.1,298.7 L639.5,298.8 L639.8,298.9 L640.1,299.0 L640.4,299.0 L640.8,298.9 L641.2,298.9 L641.4,298.8 L641.7,298.8 L642.0,298.6 L642.2,298.8 L642.5,299.2 L642.9,299.2 L643.3,299.2 L643.5,299.2 L643.9,299.3 L644.2,299.0 L644.4,298.9 L644.8,298.7 L645.1,298.9 L645.4,298.7 L645.7,298.7 L646.1,298.9 L646.4,298.7 L646.7,299.0 L647.0,299.0 L647.3,299.0 L647.7,298.9 L648.0,299.0 L648.4,299.0 L648.7,299.1 L649.0,299.1 L649.4,299.3 L649.7,299.4 L650.0,299.2 L650.3,299.3 L650.7,299.2 L651.0,299.2 L651.4,299.0 L651.7,299.0 L652.0,298.9 L652.3,298.6 L652.6,298.7 L652.9,298.6 L653.2,298.3 L653.5,298.4 L653.8,298.3 L654.1,298.6 L654.4,298.5 L654.7,298.6 L655.0,298.7 L655.4,298.9 L655.7,298.8 L656.0,298.6 L656.3,298.6 L656.6,298.7 L657.0,298.9 L657.3,298.7 L657.5,298.9" stroke="#edb120" stroke-width="2.7"/>
</g>
<rect x="429.5" y="20.9" width="214.29999999999995" height="233.9" fill="#ffffff" stroke="#202020" stroke-width="2.1"/>
<line x1="439.3" y1="40.9" x2="490.8" y2="40.9" stroke="#ff0000" stroke-width="2.5"/>
<text x="498.6" y="50.2" font-family="Liberation Serif, serif" font-size="26" fill="#202020">FX-NANC</text>
<line x1="439.3" y1="73.1" x2="490.8" y2="73.1" stroke="#00ff00" stroke-width="2.5"/>
<text x="498.6" y="82.4" font-family="Liberation Serif, serif" font-size="26" fill="#202020">DFX-NANC</text>
<line x1="439.3" y1="105.3" x2="490.8" y2="105.3" stroke="#0000ff" stroke-width="2.5"/>
<text x="498.6" y="114.6" font-family="Liberation Serif, serif" font-size="26" fill="#202020">BFX-NANC</text>
<line x1="439.3" y1="137.5" x2="490.8" y2="137.5" stroke="#ff00ff" stroke-width="2.5"/>
<text x="498.6" y="146.8" font-family="Liberation Serif, serif" font-size="26" fill="#202020">LFX-NANC</text>
<line x1="439.3" y1="169.7" x2="490.8" y2="169.7" stroke="#00ffff" stroke-width="2.5"/>
<text x="498.6" y="179.0" font-family="Liberation Serif, serif" font-size="26" fill="#202020">FE-NANC</text>
<line x1="439.3" y1="201.9" x2="490.8" y2="201.9" stroke="#000000" stroke-width="2.5"/>
<text x="498.6" y="211.2" font-family="Liberation Serif, serif" font-size="26" fill="#202020">LFE-NANC</text>
<line x1="439.3" y1="234.1" x2="490.8" y2="234.1" stroke="#edb120" stroke-width="2.5"/>
<text x="498.6" y="243.4" font-family="Liberation Serif, serif" font-size="26" fill="#202020">CFX-NANC</text>
<text x="93.3" y="467.2" text-anchor="middle" font-family="Liberation Serif, serif" font-size="28.5" fill="#202020">0</text>
<text x="234.6" y="467.2" text-anchor="middle" font-family="Liberation Serif, serif" font-size="28.5" fill="#202020">500</text>
<text x="375.8" y="467.2" text-anchor="middle" font-family="Liberation Serif, serif" font-size="28.5" fill="#202020">1000</text>
<text x="517.0" y="467.2" text-anchor="middle" font-family="Liberation Serif, serif" font-size="28.5" fill="#202020">1500</text>
<text x="658.3" y="467.2" text-anchor="middle" font-family="Liberation Serif, serif" font-size="28.5" fill="#202020">2000</text>
<text x="81.9" y="19.3" text-anchor="end" font-family="Liberation Serif, serif" font-size="28.5" fill="#202020">5</text>
<text x="81.9" y="160.4" text-anchor="end" font-family="Liberation Serif, serif" font-size="28.5" fill="#202020">-5</text>
<text x="81.9" y="301.4" text-anchor="end" font-family="Liberation Serif, serif" font-size="28.5" fill="#202020">-15</text>
<text x="81.9" y="442.5" text-anchor="end" font-family="Liberation Serif, serif" font-size="28.5" fill="#202020">-25</text>
<text x="375.4" y="507.0" text-anchor="middle" font-family="Liberation Serif, serif" font-size="28.5" fill="#202020">Iteration number</text>
<text transform="translate(20.7,220.5) rotate(-90)" text-anchor="middle" font-family="Liberation Serif, serif" font-size="28.5" fill="#202020">ANR (dB)</text>
</svg>
</body>
</html>
